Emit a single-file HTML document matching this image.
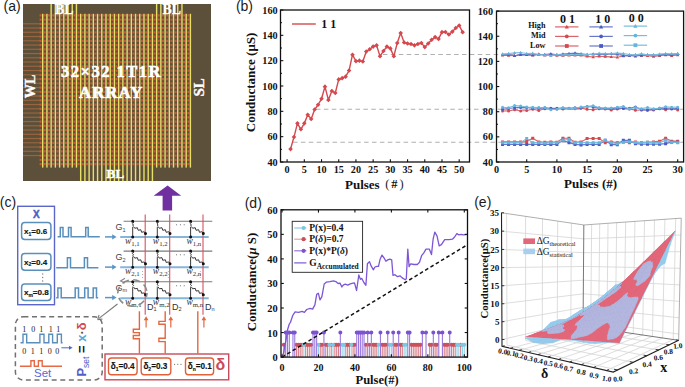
<!DOCTYPE html><html><head><meta charset="utf-8"><style>html,body{margin:0;padding:0;background:#fff;}svg{display:block}</style></head><body><svg width="685" height="387" viewBox="0 0 685 387"><rect width="685" height="387" fill="#fff"/><text x="3.6" y="10.8" style="font-family:'Liberation Sans',sans-serif;font-size:14px" fill="#1a1a1a">(a)</text><rect x="23" y="4" width="188" height="177" fill="#5d503a"/><rect x="23" y="23.2" width="17" height="1.2" fill="#b06e40" opacity="0.7"/><rect x="23" y="27.45" width="17" height="1.2" fill="#b06e40" opacity="0.7"/><rect x="23" y="31.7" width="17" height="1.2" fill="#b06e40" opacity="0.7"/><rect x="23" y="35.95" width="17" height="1.2" fill="#b06e40" opacity="0.7"/><rect x="23" y="40.2" width="17" height="1.2" fill="#b06e40" opacity="0.7"/><rect x="23" y="44.45" width="17" height="1.2" fill="#b06e40" opacity="0.7"/><rect x="23" y="48.7" width="17" height="1.2" fill="#b06e40" opacity="0.7"/><rect x="23" y="52.95" width="17" height="1.2" fill="#b06e40" opacity="0.7"/><rect x="23" y="57.2" width="17" height="1.2" fill="#b06e40" opacity="0.7"/><rect x="23" y="61.45" width="17" height="1.2" fill="#b06e40" opacity="0.7"/><rect x="23" y="65.7" width="17" height="1.2" fill="#b06e40" opacity="0.7"/><rect x="23" y="69.95" width="17" height="1.2" fill="#b06e40" opacity="0.7"/><rect x="23" y="74.2" width="17" height="1.2" fill="#b06e40" opacity="0.7"/><rect x="23" y="78.45" width="17" height="1.2" fill="#b06e40" opacity="0.7"/><rect x="23" y="82.7" width="17" height="1.2" fill="#b06e40" opacity="0.7"/><rect x="23" y="86.95" width="17" height="1.2" fill="#b06e40" opacity="0.7"/><rect x="23" y="91.2" width="17" height="1.2" fill="#b06e40" opacity="0.7"/><rect x="23" y="95.45" width="17" height="1.2" fill="#b06e40" opacity="0.7"/><rect x="23" y="99.7" width="17" height="1.2" fill="#b06e40" opacity="0.7"/><rect x="23" y="103.95" width="17" height="1.2" fill="#b06e40" opacity="0.7"/><rect x="23" y="108.2" width="17" height="1.2" fill="#b06e40" opacity="0.7"/><rect x="23" y="112.45" width="17" height="1.2" fill="#b06e40" opacity="0.7"/><rect x="23" y="116.7" width="17" height="1.2" fill="#b06e40" opacity="0.7"/><rect x="23" y="120.95" width="17" height="1.2" fill="#b06e40" opacity="0.7"/><rect x="23" y="125.2" width="17" height="1.2" fill="#b06e40" opacity="0.7"/><rect x="23" y="129.45" width="17" height="1.2" fill="#b06e40" opacity="0.7"/><rect x="23" y="133.7" width="17" height="1.2" fill="#b06e40" opacity="0.7"/><rect x="23" y="137.95" width="17" height="1.2" fill="#b06e40" opacity="0.7"/><rect x="23" y="142.2" width="17" height="1.2" fill="#b06e40" opacity="0.7"/><rect x="23" y="146.45" width="17" height="1.2" fill="#b06e40" opacity="0.7"/><rect x="23" y="150.7" width="17" height="1.2" fill="#b06e40" opacity="0.7"/><rect x="23" y="154.95" width="17" height="1.2" fill="#b06e40" opacity="0.7"/><path d="M39.6 14.2h2v2.2h-2zM43.82 14.2h2v2.2h-2zM48.04 14.2h2v2.2h-2zM52.26 14.2h2v2.2h-2zM56.48 14.2h2v2.2h-2zM60.7 14.2h2v2.2h-2zM64.92 14.2h2v2.2h-2zM69.14 14.2h2v2.2h-2zM73.36 14.2h2v2.2h-2zM77.58 14.2h2v2.2h-2zM81.8 14.2h2v2.2h-2zM86.02 14.2h2v2.2h-2zM90.24 14.2h2v2.2h-2zM94.46 14.2h2v2.2h-2zM98.68 14.2h2v2.2h-2zM102.9 14.2h2v2.2h-2zM107.12 14.2h2v2.2h-2zM111.34 14.2h2v2.2h-2zM115.56 14.2h2v2.2h-2zM119.78 14.2h2v2.2h-2zM124 14.2h2v2.2h-2zM128.22 14.2h2v2.2h-2zM132.44 14.2h2v2.2h-2zM136.66 14.2h2v2.2h-2zM140.88 14.2h2v2.2h-2zM145.1 14.2h2v2.2h-2zM149.32 14.2h2v2.2h-2zM153.54 14.2h2v2.2h-2zM157.76 14.2h2v2.2h-2zM161.98 14.2h2v2.2h-2zM166.2 14.2h2v2.2h-2zM170.42 14.2h2v2.2h-2zM174.64 14.2h2v2.2h-2zM178.86 14.2h2v2.2h-2zM183.08 14.2h2v2.2h-2zM187.3 14.2h2v2.2h-2zM39.6 18.45h2v2.2h-2zM43.82 18.45h2v2.2h-2zM48.04 18.45h2v2.2h-2zM52.26 18.45h2v2.2h-2zM56.48 18.45h2v2.2h-2zM60.7 18.45h2v2.2h-2zM64.92 18.45h2v2.2h-2zM69.14 18.45h2v2.2h-2zM73.36 18.45h2v2.2h-2zM77.58 18.45h2v2.2h-2zM81.8 18.45h2v2.2h-2zM86.02 18.45h2v2.2h-2zM90.24 18.45h2v2.2h-2zM94.46 18.45h2v2.2h-2zM98.68 18.45h2v2.2h-2zM102.9 18.45h2v2.2h-2zM107.12 18.45h2v2.2h-2zM111.34 18.45h2v2.2h-2zM115.56 18.45h2v2.2h-2zM119.78 18.45h2v2.2h-2zM124 18.45h2v2.2h-2zM128.22 18.45h2v2.2h-2zM132.44 18.45h2v2.2h-2zM136.66 18.45h2v2.2h-2zM140.88 18.45h2v2.2h-2zM145.1 18.45h2v2.2h-2zM149.32 18.45h2v2.2h-2zM153.54 18.45h2v2.2h-2zM157.76 18.45h2v2.2h-2zM161.98 18.45h2v2.2h-2zM166.2 18.45h2v2.2h-2zM170.42 18.45h2v2.2h-2zM174.64 18.45h2v2.2h-2zM178.86 18.45h2v2.2h-2zM183.08 18.45h2v2.2h-2zM187.3 18.45h2v2.2h-2zM39.6 22.7h2v2.2h-2zM43.82 22.7h2v2.2h-2zM48.04 22.7h2v2.2h-2zM52.26 22.7h2v2.2h-2zM56.48 22.7h2v2.2h-2zM60.7 22.7h2v2.2h-2zM64.92 22.7h2v2.2h-2zM69.14 22.7h2v2.2h-2zM73.36 22.7h2v2.2h-2zM77.58 22.7h2v2.2h-2zM81.8 22.7h2v2.2h-2zM86.02 22.7h2v2.2h-2zM90.24 22.7h2v2.2h-2zM94.46 22.7h2v2.2h-2zM98.68 22.7h2v2.2h-2zM102.9 22.7h2v2.2h-2zM107.12 22.7h2v2.2h-2zM111.34 22.7h2v2.2h-2zM115.56 22.7h2v2.2h-2zM119.78 22.7h2v2.2h-2zM124 22.7h2v2.2h-2zM128.22 22.7h2v2.2h-2zM132.44 22.7h2v2.2h-2zM136.66 22.7h2v2.2h-2zM140.88 22.7h2v2.2h-2zM145.1 22.7h2v2.2h-2zM149.32 22.7h2v2.2h-2zM153.54 22.7h2v2.2h-2zM157.76 22.7h2v2.2h-2zM161.98 22.7h2v2.2h-2zM166.2 22.7h2v2.2h-2zM170.42 22.7h2v2.2h-2zM174.64 22.7h2v2.2h-2zM178.86 22.7h2v2.2h-2zM183.08 22.7h2v2.2h-2zM187.3 22.7h2v2.2h-2zM39.6 26.95h2v2.2h-2zM43.82 26.95h2v2.2h-2zM48.04 26.95h2v2.2h-2zM52.26 26.95h2v2.2h-2zM56.48 26.95h2v2.2h-2zM60.7 26.95h2v2.2h-2zM64.92 26.95h2v2.2h-2zM69.14 26.95h2v2.2h-2zM73.36 26.95h2v2.2h-2zM77.58 26.95h2v2.2h-2zM81.8 26.95h2v2.2h-2zM86.02 26.95h2v2.2h-2zM90.24 26.95h2v2.2h-2zM94.46 26.95h2v2.2h-2zM98.68 26.95h2v2.2h-2zM102.9 26.95h2v2.2h-2zM107.12 26.95h2v2.2h-2zM111.34 26.95h2v2.2h-2zM115.56 26.95h2v2.2h-2zM119.78 26.95h2v2.2h-2zM124 26.95h2v2.2h-2zM128.22 26.95h2v2.2h-2zM132.44 26.95h2v2.2h-2zM136.66 26.95h2v2.2h-2zM140.88 26.95h2v2.2h-2zM145.1 26.95h2v2.2h-2zM149.32 26.95h2v2.2h-2zM153.54 26.95h2v2.2h-2zM157.76 26.95h2v2.2h-2zM161.98 26.95h2v2.2h-2zM166.2 26.95h2v2.2h-2zM170.42 26.95h2v2.2h-2zM174.64 26.95h2v2.2h-2zM178.86 26.95h2v2.2h-2zM183.08 26.95h2v2.2h-2zM187.3 26.95h2v2.2h-2zM39.6 31.2h2v2.2h-2zM43.82 31.2h2v2.2h-2zM48.04 31.2h2v2.2h-2zM52.26 31.2h2v2.2h-2zM56.48 31.2h2v2.2h-2zM60.7 31.2h2v2.2h-2zM64.92 31.2h2v2.2h-2zM69.14 31.2h2v2.2h-2zM73.36 31.2h2v2.2h-2zM77.58 31.2h2v2.2h-2zM81.8 31.2h2v2.2h-2zM86.02 31.2h2v2.2h-2zM90.24 31.2h2v2.2h-2zM94.46 31.2h2v2.2h-2zM98.68 31.2h2v2.2h-2zM102.9 31.2h2v2.2h-2zM107.12 31.2h2v2.2h-2zM111.34 31.2h2v2.2h-2zM115.56 31.2h2v2.2h-2zM119.78 31.2h2v2.2h-2zM124 31.2h2v2.2h-2zM128.22 31.2h2v2.2h-2zM132.44 31.2h2v2.2h-2zM136.66 31.2h2v2.2h-2zM140.88 31.2h2v2.2h-2zM145.1 31.2h2v2.2h-2zM149.32 31.2h2v2.2h-2zM153.54 31.2h2v2.2h-2zM157.76 31.2h2v2.2h-2zM161.98 31.2h2v2.2h-2zM166.2 31.2h2v2.2h-2zM170.42 31.2h2v2.2h-2zM174.64 31.2h2v2.2h-2zM178.86 31.2h2v2.2h-2zM183.08 31.2h2v2.2h-2zM187.3 31.2h2v2.2h-2zM39.6 35.45h2v2.2h-2zM43.82 35.45h2v2.2h-2zM48.04 35.45h2v2.2h-2zM52.26 35.45h2v2.2h-2zM56.48 35.45h2v2.2h-2zM60.7 35.45h2v2.2h-2zM64.92 35.45h2v2.2h-2zM69.14 35.45h2v2.2h-2zM73.36 35.45h2v2.2h-2zM77.58 35.45h2v2.2h-2zM81.8 35.45h2v2.2h-2zM86.02 35.45h2v2.2h-2zM90.24 35.45h2v2.2h-2zM94.46 35.45h2v2.2h-2zM98.68 35.45h2v2.2h-2zM102.9 35.45h2v2.2h-2zM107.12 35.45h2v2.2h-2zM111.34 35.45h2v2.2h-2zM115.56 35.45h2v2.2h-2zM119.78 35.45h2v2.2h-2zM124 35.45h2v2.2h-2zM128.22 35.45h2v2.2h-2zM132.44 35.45h2v2.2h-2zM136.66 35.45h2v2.2h-2zM140.88 35.45h2v2.2h-2zM145.1 35.45h2v2.2h-2zM149.32 35.45h2v2.2h-2zM153.54 35.45h2v2.2h-2zM157.76 35.45h2v2.2h-2zM161.98 35.45h2v2.2h-2zM166.2 35.45h2v2.2h-2zM170.42 35.45h2v2.2h-2zM174.64 35.45h2v2.2h-2zM178.86 35.45h2v2.2h-2zM183.08 35.45h2v2.2h-2zM187.3 35.45h2v2.2h-2zM39.6 39.7h2v2.2h-2zM43.82 39.7h2v2.2h-2zM48.04 39.7h2v2.2h-2zM52.26 39.7h2v2.2h-2zM56.48 39.7h2v2.2h-2zM60.7 39.7h2v2.2h-2zM64.92 39.7h2v2.2h-2zM69.14 39.7h2v2.2h-2zM73.36 39.7h2v2.2h-2zM77.58 39.7h2v2.2h-2zM81.8 39.7h2v2.2h-2zM86.02 39.7h2v2.2h-2zM90.24 39.7h2v2.2h-2zM94.46 39.7h2v2.2h-2zM98.68 39.7h2v2.2h-2zM102.9 39.7h2v2.2h-2zM107.12 39.7h2v2.2h-2zM111.34 39.7h2v2.2h-2zM115.56 39.7h2v2.2h-2zM119.78 39.7h2v2.2h-2zM124 39.7h2v2.2h-2zM128.22 39.7h2v2.2h-2zM132.44 39.7h2v2.2h-2zM136.66 39.7h2v2.2h-2zM140.88 39.7h2v2.2h-2zM145.1 39.7h2v2.2h-2zM149.32 39.7h2v2.2h-2zM153.54 39.7h2v2.2h-2zM157.76 39.7h2v2.2h-2zM161.98 39.7h2v2.2h-2zM166.2 39.7h2v2.2h-2zM170.42 39.7h2v2.2h-2zM174.64 39.7h2v2.2h-2zM178.86 39.7h2v2.2h-2zM183.08 39.7h2v2.2h-2zM187.3 39.7h2v2.2h-2zM39.6 43.95h2v2.2h-2zM43.82 43.95h2v2.2h-2zM48.04 43.95h2v2.2h-2zM52.26 43.95h2v2.2h-2zM56.48 43.95h2v2.2h-2zM60.7 43.95h2v2.2h-2zM64.92 43.95h2v2.2h-2zM69.14 43.95h2v2.2h-2zM73.36 43.95h2v2.2h-2zM77.58 43.95h2v2.2h-2zM81.8 43.95h2v2.2h-2zM86.02 43.95h2v2.2h-2zM90.24 43.95h2v2.2h-2zM94.46 43.95h2v2.2h-2zM98.68 43.95h2v2.2h-2zM102.9 43.95h2v2.2h-2zM107.12 43.95h2v2.2h-2zM111.34 43.95h2v2.2h-2zM115.56 43.95h2v2.2h-2zM119.78 43.95h2v2.2h-2zM124 43.95h2v2.2h-2zM128.22 43.95h2v2.2h-2zM132.44 43.95h2v2.2h-2zM136.66 43.95h2v2.2h-2zM140.88 43.95h2v2.2h-2zM145.1 43.95h2v2.2h-2zM149.32 43.95h2v2.2h-2zM153.54 43.95h2v2.2h-2zM157.76 43.95h2v2.2h-2zM161.98 43.95h2v2.2h-2zM166.2 43.95h2v2.2h-2zM170.42 43.95h2v2.2h-2zM174.64 43.95h2v2.2h-2zM178.86 43.95h2v2.2h-2zM183.08 43.95h2v2.2h-2zM187.3 43.95h2v2.2h-2zM39.6 48.2h2v2.2h-2zM43.82 48.2h2v2.2h-2zM48.04 48.2h2v2.2h-2zM52.26 48.2h2v2.2h-2zM56.48 48.2h2v2.2h-2zM60.7 48.2h2v2.2h-2zM64.92 48.2h2v2.2h-2zM69.14 48.2h2v2.2h-2zM73.36 48.2h2v2.2h-2zM77.58 48.2h2v2.2h-2zM81.8 48.2h2v2.2h-2zM86.02 48.2h2v2.2h-2zM90.24 48.2h2v2.2h-2zM94.46 48.2h2v2.2h-2zM98.68 48.2h2v2.2h-2zM102.9 48.2h2v2.2h-2zM107.12 48.2h2v2.2h-2zM111.34 48.2h2v2.2h-2zM115.56 48.2h2v2.2h-2zM119.78 48.2h2v2.2h-2zM124 48.2h2v2.2h-2zM128.22 48.2h2v2.2h-2zM132.44 48.2h2v2.2h-2zM136.66 48.2h2v2.2h-2zM140.88 48.2h2v2.2h-2zM145.1 48.2h2v2.2h-2zM149.32 48.2h2v2.2h-2zM153.54 48.2h2v2.2h-2zM157.76 48.2h2v2.2h-2zM161.98 48.2h2v2.2h-2zM166.2 48.2h2v2.2h-2zM170.42 48.2h2v2.2h-2zM174.64 48.2h2v2.2h-2zM178.86 48.2h2v2.2h-2zM183.08 48.2h2v2.2h-2zM187.3 48.2h2v2.2h-2zM39.6 52.45h2v2.2h-2zM43.82 52.45h2v2.2h-2zM48.04 52.45h2v2.2h-2zM52.26 52.45h2v2.2h-2zM56.48 52.45h2v2.2h-2zM60.7 52.45h2v2.2h-2zM64.92 52.45h2v2.2h-2zM69.14 52.45h2v2.2h-2zM73.36 52.45h2v2.2h-2zM77.58 52.45h2v2.2h-2zM81.8 52.45h2v2.2h-2zM86.02 52.45h2v2.2h-2zM90.24 52.45h2v2.2h-2zM94.46 52.45h2v2.2h-2zM98.68 52.45h2v2.2h-2zM102.9 52.45h2v2.2h-2zM107.12 52.45h2v2.2h-2zM111.34 52.45h2v2.2h-2zM115.56 52.45h2v2.2h-2zM119.78 52.45h2v2.2h-2zM124 52.45h2v2.2h-2zM128.22 52.45h2v2.2h-2zM132.44 52.45h2v2.2h-2zM136.66 52.45h2v2.2h-2zM140.88 52.45h2v2.2h-2zM145.1 52.45h2v2.2h-2zM149.32 52.45h2v2.2h-2zM153.54 52.45h2v2.2h-2zM157.76 52.45h2v2.2h-2zM161.98 52.45h2v2.2h-2zM166.2 52.45h2v2.2h-2zM170.42 52.45h2v2.2h-2zM174.64 52.45h2v2.2h-2zM178.86 52.45h2v2.2h-2zM183.08 52.45h2v2.2h-2zM187.3 52.45h2v2.2h-2zM39.6 56.7h2v2.2h-2zM43.82 56.7h2v2.2h-2zM48.04 56.7h2v2.2h-2zM52.26 56.7h2v2.2h-2zM56.48 56.7h2v2.2h-2zM60.7 56.7h2v2.2h-2zM64.92 56.7h2v2.2h-2zM69.14 56.7h2v2.2h-2zM73.36 56.7h2v2.2h-2zM77.58 56.7h2v2.2h-2zM81.8 56.7h2v2.2h-2zM86.02 56.7h2v2.2h-2zM90.24 56.7h2v2.2h-2zM94.46 56.7h2v2.2h-2zM98.68 56.7h2v2.2h-2zM102.9 56.7h2v2.2h-2zM107.12 56.7h2v2.2h-2zM111.34 56.7h2v2.2h-2zM115.56 56.7h2v2.2h-2zM119.78 56.7h2v2.2h-2zM124 56.7h2v2.2h-2zM128.22 56.7h2v2.2h-2zM132.44 56.7h2v2.2h-2zM136.66 56.7h2v2.2h-2zM140.88 56.7h2v2.2h-2zM145.1 56.7h2v2.2h-2zM149.32 56.7h2v2.2h-2zM153.54 56.7h2v2.2h-2zM157.76 56.7h2v2.2h-2zM161.98 56.7h2v2.2h-2zM166.2 56.7h2v2.2h-2zM170.42 56.7h2v2.2h-2zM174.64 56.7h2v2.2h-2zM178.86 56.7h2v2.2h-2zM183.08 56.7h2v2.2h-2zM187.3 56.7h2v2.2h-2zM39.6 60.95h2v2.2h-2zM43.82 60.95h2v2.2h-2zM48.04 60.95h2v2.2h-2zM52.26 60.95h2v2.2h-2zM56.48 60.95h2v2.2h-2zM60.7 60.95h2v2.2h-2zM64.92 60.95h2v2.2h-2zM69.14 60.95h2v2.2h-2zM73.36 60.95h2v2.2h-2zM77.58 60.95h2v2.2h-2zM81.8 60.95h2v2.2h-2zM86.02 60.95h2v2.2h-2zM90.24 60.95h2v2.2h-2zM94.46 60.95h2v2.2h-2zM98.68 60.95h2v2.2h-2zM102.9 60.95h2v2.2h-2zM107.12 60.95h2v2.2h-2zM111.34 60.95h2v2.2h-2zM115.56 60.95h2v2.2h-2zM119.78 60.95h2v2.2h-2zM124 60.95h2v2.2h-2zM128.22 60.95h2v2.2h-2zM132.44 60.95h2v2.2h-2zM136.66 60.95h2v2.2h-2zM140.88 60.95h2v2.2h-2zM145.1 60.95h2v2.2h-2zM149.32 60.95h2v2.2h-2zM153.54 60.95h2v2.2h-2zM157.76 60.95h2v2.2h-2zM161.98 60.95h2v2.2h-2zM166.2 60.95h2v2.2h-2zM170.42 60.95h2v2.2h-2zM174.64 60.95h2v2.2h-2zM178.86 60.95h2v2.2h-2zM183.08 60.95h2v2.2h-2zM187.3 60.95h2v2.2h-2zM39.6 65.2h2v2.2h-2zM43.82 65.2h2v2.2h-2zM48.04 65.2h2v2.2h-2zM52.26 65.2h2v2.2h-2zM56.48 65.2h2v2.2h-2zM60.7 65.2h2v2.2h-2zM64.92 65.2h2v2.2h-2zM69.14 65.2h2v2.2h-2zM73.36 65.2h2v2.2h-2zM77.58 65.2h2v2.2h-2zM81.8 65.2h2v2.2h-2zM86.02 65.2h2v2.2h-2zM90.24 65.2h2v2.2h-2zM94.46 65.2h2v2.2h-2zM98.68 65.2h2v2.2h-2zM102.9 65.2h2v2.2h-2zM107.12 65.2h2v2.2h-2zM111.34 65.2h2v2.2h-2zM115.56 65.2h2v2.2h-2zM119.78 65.2h2v2.2h-2zM124 65.2h2v2.2h-2zM128.22 65.2h2v2.2h-2zM132.44 65.2h2v2.2h-2zM136.66 65.2h2v2.2h-2zM140.88 65.2h2v2.2h-2zM145.1 65.2h2v2.2h-2zM149.32 65.2h2v2.2h-2zM153.54 65.2h2v2.2h-2zM157.76 65.2h2v2.2h-2zM161.98 65.2h2v2.2h-2zM166.2 65.2h2v2.2h-2zM170.42 65.2h2v2.2h-2zM174.64 65.2h2v2.2h-2zM178.86 65.2h2v2.2h-2zM183.08 65.2h2v2.2h-2zM187.3 65.2h2v2.2h-2zM39.6 69.45h2v2.2h-2zM43.82 69.45h2v2.2h-2zM48.04 69.45h2v2.2h-2zM52.26 69.45h2v2.2h-2zM56.48 69.45h2v2.2h-2zM60.7 69.45h2v2.2h-2zM64.92 69.45h2v2.2h-2zM69.14 69.45h2v2.2h-2zM73.36 69.45h2v2.2h-2zM77.58 69.45h2v2.2h-2zM81.8 69.45h2v2.2h-2zM86.02 69.45h2v2.2h-2zM90.24 69.45h2v2.2h-2zM94.46 69.45h2v2.2h-2zM98.68 69.45h2v2.2h-2zM102.9 69.45h2v2.2h-2zM107.12 69.45h2v2.2h-2zM111.34 69.45h2v2.2h-2zM115.56 69.45h2v2.2h-2zM119.78 69.45h2v2.2h-2zM124 69.45h2v2.2h-2zM128.22 69.45h2v2.2h-2zM132.44 69.45h2v2.2h-2zM136.66 69.45h2v2.2h-2zM140.88 69.45h2v2.2h-2zM145.1 69.45h2v2.2h-2zM149.32 69.45h2v2.2h-2zM153.54 69.45h2v2.2h-2zM157.76 69.45h2v2.2h-2zM161.98 69.45h2v2.2h-2zM166.2 69.45h2v2.2h-2zM170.42 69.45h2v2.2h-2zM174.64 69.45h2v2.2h-2zM178.86 69.45h2v2.2h-2zM183.08 69.45h2v2.2h-2zM187.3 69.45h2v2.2h-2zM39.6 73.7h2v2.2h-2zM43.82 73.7h2v2.2h-2zM48.04 73.7h2v2.2h-2zM52.26 73.7h2v2.2h-2zM56.48 73.7h2v2.2h-2zM60.7 73.7h2v2.2h-2zM64.92 73.7h2v2.2h-2zM69.14 73.7h2v2.2h-2zM73.36 73.7h2v2.2h-2zM77.58 73.7h2v2.2h-2zM81.8 73.7h2v2.2h-2zM86.02 73.7h2v2.2h-2zM90.24 73.7h2v2.2h-2zM94.46 73.7h2v2.2h-2zM98.68 73.7h2v2.2h-2zM102.9 73.7h2v2.2h-2zM107.12 73.7h2v2.2h-2zM111.34 73.7h2v2.2h-2zM115.56 73.7h2v2.2h-2zM119.78 73.7h2v2.2h-2zM124 73.7h2v2.2h-2zM128.22 73.7h2v2.2h-2zM132.44 73.7h2v2.2h-2zM136.66 73.7h2v2.2h-2zM140.88 73.7h2v2.2h-2zM145.1 73.7h2v2.2h-2zM149.32 73.7h2v2.2h-2zM153.54 73.7h2v2.2h-2zM157.76 73.7h2v2.2h-2zM161.98 73.7h2v2.2h-2zM166.2 73.7h2v2.2h-2zM170.42 73.7h2v2.2h-2zM174.64 73.7h2v2.2h-2zM178.86 73.7h2v2.2h-2zM183.08 73.7h2v2.2h-2zM187.3 73.7h2v2.2h-2zM39.6 77.95h2v2.2h-2zM43.82 77.95h2v2.2h-2zM48.04 77.95h2v2.2h-2zM52.26 77.95h2v2.2h-2zM56.48 77.95h2v2.2h-2zM60.7 77.95h2v2.2h-2zM64.92 77.95h2v2.2h-2zM69.14 77.95h2v2.2h-2zM73.36 77.95h2v2.2h-2zM77.58 77.95h2v2.2h-2zM81.8 77.95h2v2.2h-2zM86.02 77.95h2v2.2h-2zM90.24 77.95h2v2.2h-2zM94.46 77.95h2v2.2h-2zM98.68 77.95h2v2.2h-2zM102.9 77.95h2v2.2h-2zM107.12 77.95h2v2.2h-2zM111.34 77.95h2v2.2h-2zM115.56 77.95h2v2.2h-2zM119.78 77.95h2v2.2h-2zM124 77.95h2v2.2h-2zM128.22 77.95h2v2.2h-2zM132.44 77.95h2v2.2h-2zM136.66 77.95h2v2.2h-2zM140.88 77.95h2v2.2h-2zM145.1 77.95h2v2.2h-2zM149.32 77.95h2v2.2h-2zM153.54 77.95h2v2.2h-2zM157.76 77.95h2v2.2h-2zM161.98 77.95h2v2.2h-2zM166.2 77.95h2v2.2h-2zM170.42 77.95h2v2.2h-2zM174.64 77.95h2v2.2h-2zM178.86 77.95h2v2.2h-2zM183.08 77.95h2v2.2h-2zM187.3 77.95h2v2.2h-2zM39.6 82.2h2v2.2h-2zM43.82 82.2h2v2.2h-2zM48.04 82.2h2v2.2h-2zM52.26 82.2h2v2.2h-2zM56.48 82.2h2v2.2h-2zM60.7 82.2h2v2.2h-2zM64.92 82.2h2v2.2h-2zM69.14 82.2h2v2.2h-2zM73.36 82.2h2v2.2h-2zM77.58 82.2h2v2.2h-2zM81.8 82.2h2v2.2h-2zM86.02 82.2h2v2.2h-2zM90.24 82.2h2v2.2h-2zM94.46 82.2h2v2.2h-2zM98.68 82.2h2v2.2h-2zM102.9 82.2h2v2.2h-2zM107.12 82.2h2v2.2h-2zM111.34 82.2h2v2.2h-2zM115.56 82.2h2v2.2h-2zM119.78 82.2h2v2.2h-2zM124 82.2h2v2.2h-2zM128.22 82.2h2v2.2h-2zM132.44 82.2h2v2.2h-2zM136.66 82.2h2v2.2h-2zM140.88 82.2h2v2.2h-2zM145.1 82.2h2v2.2h-2zM149.32 82.2h2v2.2h-2zM153.54 82.2h2v2.2h-2zM157.76 82.2h2v2.2h-2zM161.98 82.2h2v2.2h-2zM166.2 82.2h2v2.2h-2zM170.42 82.2h2v2.2h-2zM174.64 82.2h2v2.2h-2zM178.86 82.2h2v2.2h-2zM183.08 82.2h2v2.2h-2zM187.3 82.2h2v2.2h-2zM39.6 86.45h2v2.2h-2zM43.82 86.45h2v2.2h-2zM48.04 86.45h2v2.2h-2zM52.26 86.45h2v2.2h-2zM56.48 86.45h2v2.2h-2zM60.7 86.45h2v2.2h-2zM64.92 86.45h2v2.2h-2zM69.14 86.45h2v2.2h-2zM73.36 86.45h2v2.2h-2zM77.58 86.45h2v2.2h-2zM81.8 86.45h2v2.2h-2zM86.02 86.45h2v2.2h-2zM90.24 86.45h2v2.2h-2zM94.46 86.45h2v2.2h-2zM98.68 86.45h2v2.2h-2zM102.9 86.45h2v2.2h-2zM107.12 86.45h2v2.2h-2zM111.34 86.45h2v2.2h-2zM115.56 86.45h2v2.2h-2zM119.78 86.45h2v2.2h-2zM124 86.45h2v2.2h-2zM128.22 86.45h2v2.2h-2zM132.44 86.45h2v2.2h-2zM136.66 86.45h2v2.2h-2zM140.88 86.45h2v2.2h-2zM145.1 86.45h2v2.2h-2zM149.32 86.45h2v2.2h-2zM153.54 86.45h2v2.2h-2zM157.76 86.45h2v2.2h-2zM161.98 86.45h2v2.2h-2zM166.2 86.45h2v2.2h-2zM170.42 86.45h2v2.2h-2zM174.64 86.45h2v2.2h-2zM178.86 86.45h2v2.2h-2zM183.08 86.45h2v2.2h-2zM187.3 86.45h2v2.2h-2zM39.6 90.7h2v2.2h-2zM43.82 90.7h2v2.2h-2zM48.04 90.7h2v2.2h-2zM52.26 90.7h2v2.2h-2zM56.48 90.7h2v2.2h-2zM60.7 90.7h2v2.2h-2zM64.92 90.7h2v2.2h-2zM69.14 90.7h2v2.2h-2zM73.36 90.7h2v2.2h-2zM77.58 90.7h2v2.2h-2zM81.8 90.7h2v2.2h-2zM86.02 90.7h2v2.2h-2zM90.24 90.7h2v2.2h-2zM94.46 90.7h2v2.2h-2zM98.68 90.7h2v2.2h-2zM102.9 90.7h2v2.2h-2zM107.12 90.7h2v2.2h-2zM111.34 90.7h2v2.2h-2zM115.56 90.7h2v2.2h-2zM119.78 90.7h2v2.2h-2zM124 90.7h2v2.2h-2zM128.22 90.7h2v2.2h-2zM132.44 90.7h2v2.2h-2zM136.66 90.7h2v2.2h-2zM140.88 90.7h2v2.2h-2zM145.1 90.7h2v2.2h-2zM149.32 90.7h2v2.2h-2zM153.54 90.7h2v2.2h-2zM157.76 90.7h2v2.2h-2zM161.98 90.7h2v2.2h-2zM166.2 90.7h2v2.2h-2zM170.42 90.7h2v2.2h-2zM174.64 90.7h2v2.2h-2zM178.86 90.7h2v2.2h-2zM183.08 90.7h2v2.2h-2zM187.3 90.7h2v2.2h-2zM39.6 94.95h2v2.2h-2zM43.82 94.95h2v2.2h-2zM48.04 94.95h2v2.2h-2zM52.26 94.95h2v2.2h-2zM56.48 94.95h2v2.2h-2zM60.7 94.95h2v2.2h-2zM64.92 94.95h2v2.2h-2zM69.14 94.95h2v2.2h-2zM73.36 94.95h2v2.2h-2zM77.58 94.95h2v2.2h-2zM81.8 94.95h2v2.2h-2zM86.02 94.95h2v2.2h-2zM90.24 94.95h2v2.2h-2zM94.46 94.95h2v2.2h-2zM98.68 94.95h2v2.2h-2zM102.9 94.95h2v2.2h-2zM107.12 94.95h2v2.2h-2zM111.34 94.95h2v2.2h-2zM115.56 94.95h2v2.2h-2zM119.78 94.95h2v2.2h-2zM124 94.95h2v2.2h-2zM128.22 94.95h2v2.2h-2zM132.44 94.95h2v2.2h-2zM136.66 94.95h2v2.2h-2zM140.88 94.95h2v2.2h-2zM145.1 94.95h2v2.2h-2zM149.32 94.95h2v2.2h-2zM153.54 94.95h2v2.2h-2zM157.76 94.95h2v2.2h-2zM161.98 94.95h2v2.2h-2zM166.2 94.95h2v2.2h-2zM170.42 94.95h2v2.2h-2zM174.64 94.95h2v2.2h-2zM178.86 94.95h2v2.2h-2zM183.08 94.95h2v2.2h-2zM187.3 94.95h2v2.2h-2zM39.6 99.2h2v2.2h-2zM43.82 99.2h2v2.2h-2zM48.04 99.2h2v2.2h-2zM52.26 99.2h2v2.2h-2zM56.48 99.2h2v2.2h-2zM60.7 99.2h2v2.2h-2zM64.92 99.2h2v2.2h-2zM69.14 99.2h2v2.2h-2zM73.36 99.2h2v2.2h-2zM77.58 99.2h2v2.2h-2zM81.8 99.2h2v2.2h-2zM86.02 99.2h2v2.2h-2zM90.24 99.2h2v2.2h-2zM94.46 99.2h2v2.2h-2zM98.68 99.2h2v2.2h-2zM102.9 99.2h2v2.2h-2zM107.12 99.2h2v2.2h-2zM111.34 99.2h2v2.2h-2zM115.56 99.2h2v2.2h-2zM119.78 99.2h2v2.2h-2zM124 99.2h2v2.2h-2zM128.22 99.2h2v2.2h-2zM132.44 99.2h2v2.2h-2zM136.66 99.2h2v2.2h-2zM140.88 99.2h2v2.2h-2zM145.1 99.2h2v2.2h-2zM149.32 99.2h2v2.2h-2zM153.54 99.2h2v2.2h-2zM157.76 99.2h2v2.2h-2zM161.98 99.2h2v2.2h-2zM166.2 99.2h2v2.2h-2zM170.42 99.2h2v2.2h-2zM174.64 99.2h2v2.2h-2zM178.86 99.2h2v2.2h-2zM183.08 99.2h2v2.2h-2zM187.3 99.2h2v2.2h-2zM39.6 103.45h2v2.2h-2zM43.82 103.45h2v2.2h-2zM48.04 103.45h2v2.2h-2zM52.26 103.45h2v2.2h-2zM56.48 103.45h2v2.2h-2zM60.7 103.45h2v2.2h-2zM64.92 103.45h2v2.2h-2zM69.14 103.45h2v2.2h-2zM73.36 103.45h2v2.2h-2zM77.58 103.45h2v2.2h-2zM81.8 103.45h2v2.2h-2zM86.02 103.45h2v2.2h-2zM90.24 103.45h2v2.2h-2zM94.46 103.45h2v2.2h-2zM98.68 103.45h2v2.2h-2zM102.9 103.45h2v2.2h-2zM107.12 103.45h2v2.2h-2zM111.34 103.45h2v2.2h-2zM115.56 103.45h2v2.2h-2zM119.78 103.45h2v2.2h-2zM124 103.45h2v2.2h-2zM128.22 103.45h2v2.2h-2zM132.44 103.45h2v2.2h-2zM136.66 103.45h2v2.2h-2zM140.88 103.45h2v2.2h-2zM145.1 103.45h2v2.2h-2zM149.32 103.45h2v2.2h-2zM153.54 103.45h2v2.2h-2zM157.76 103.45h2v2.2h-2zM161.98 103.45h2v2.2h-2zM166.2 103.45h2v2.2h-2zM170.42 103.45h2v2.2h-2zM174.64 103.45h2v2.2h-2zM178.86 103.45h2v2.2h-2zM183.08 103.45h2v2.2h-2zM187.3 103.45h2v2.2h-2zM39.6 107.7h2v2.2h-2zM43.82 107.7h2v2.2h-2zM48.04 107.7h2v2.2h-2zM52.26 107.7h2v2.2h-2zM56.48 107.7h2v2.2h-2zM60.7 107.7h2v2.2h-2zM64.92 107.7h2v2.2h-2zM69.14 107.7h2v2.2h-2zM73.36 107.7h2v2.2h-2zM77.58 107.7h2v2.2h-2zM81.8 107.7h2v2.2h-2zM86.02 107.7h2v2.2h-2zM90.24 107.7h2v2.2h-2zM94.46 107.7h2v2.2h-2zM98.68 107.7h2v2.2h-2zM102.9 107.7h2v2.2h-2zM107.12 107.7h2v2.2h-2zM111.34 107.7h2v2.2h-2zM115.56 107.7h2v2.2h-2zM119.78 107.7h2v2.2h-2zM124 107.7h2v2.2h-2zM128.22 107.7h2v2.2h-2zM132.44 107.7h2v2.2h-2zM136.66 107.7h2v2.2h-2zM140.88 107.7h2v2.2h-2zM145.1 107.7h2v2.2h-2zM149.32 107.7h2v2.2h-2zM153.54 107.7h2v2.2h-2zM157.76 107.7h2v2.2h-2zM161.98 107.7h2v2.2h-2zM166.2 107.7h2v2.2h-2zM170.42 107.7h2v2.2h-2zM174.64 107.7h2v2.2h-2zM178.86 107.7h2v2.2h-2zM183.08 107.7h2v2.2h-2zM187.3 107.7h2v2.2h-2zM39.6 111.95h2v2.2h-2zM43.82 111.95h2v2.2h-2zM48.04 111.95h2v2.2h-2zM52.26 111.95h2v2.2h-2zM56.48 111.95h2v2.2h-2zM60.7 111.95h2v2.2h-2zM64.92 111.95h2v2.2h-2zM69.14 111.95h2v2.2h-2zM73.36 111.95h2v2.2h-2zM77.58 111.95h2v2.2h-2zM81.8 111.95h2v2.2h-2zM86.02 111.95h2v2.2h-2zM90.24 111.95h2v2.2h-2zM94.46 111.95h2v2.2h-2zM98.68 111.95h2v2.2h-2zM102.9 111.95h2v2.2h-2zM107.12 111.95h2v2.2h-2zM111.34 111.95h2v2.2h-2zM115.56 111.95h2v2.2h-2zM119.78 111.95h2v2.2h-2zM124 111.95h2v2.2h-2zM128.22 111.95h2v2.2h-2zM132.44 111.95h2v2.2h-2zM136.66 111.95h2v2.2h-2zM140.88 111.95h2v2.2h-2zM145.1 111.95h2v2.2h-2zM149.32 111.95h2v2.2h-2zM153.54 111.95h2v2.2h-2zM157.76 111.95h2v2.2h-2zM161.98 111.95h2v2.2h-2zM166.2 111.95h2v2.2h-2zM170.42 111.95h2v2.2h-2zM174.64 111.95h2v2.2h-2zM178.86 111.95h2v2.2h-2zM183.08 111.95h2v2.2h-2zM187.3 111.95h2v2.2h-2zM39.6 116.2h2v2.2h-2zM43.82 116.2h2v2.2h-2zM48.04 116.2h2v2.2h-2zM52.26 116.2h2v2.2h-2zM56.48 116.2h2v2.2h-2zM60.7 116.2h2v2.2h-2zM64.92 116.2h2v2.2h-2zM69.14 116.2h2v2.2h-2zM73.36 116.2h2v2.2h-2zM77.58 116.2h2v2.2h-2zM81.8 116.2h2v2.2h-2zM86.02 116.2h2v2.2h-2zM90.24 116.2h2v2.2h-2zM94.46 116.2h2v2.2h-2zM98.68 116.2h2v2.2h-2zM102.9 116.2h2v2.2h-2zM107.12 116.2h2v2.2h-2zM111.34 116.2h2v2.2h-2zM115.56 116.2h2v2.2h-2zM119.78 116.2h2v2.2h-2zM124 116.2h2v2.2h-2zM128.22 116.2h2v2.2h-2zM132.44 116.2h2v2.2h-2zM136.66 116.2h2v2.2h-2zM140.88 116.2h2v2.2h-2zM145.1 116.2h2v2.2h-2zM149.32 116.2h2v2.2h-2zM153.54 116.2h2v2.2h-2zM157.76 116.2h2v2.2h-2zM161.98 116.2h2v2.2h-2zM166.2 116.2h2v2.2h-2zM170.42 116.2h2v2.2h-2zM174.64 116.2h2v2.2h-2zM178.86 116.2h2v2.2h-2zM183.08 116.2h2v2.2h-2zM187.3 116.2h2v2.2h-2zM39.6 120.45h2v2.2h-2zM43.82 120.45h2v2.2h-2zM48.04 120.45h2v2.2h-2zM52.26 120.45h2v2.2h-2zM56.48 120.45h2v2.2h-2zM60.7 120.45h2v2.2h-2zM64.92 120.45h2v2.2h-2zM69.14 120.45h2v2.2h-2zM73.36 120.45h2v2.2h-2zM77.58 120.45h2v2.2h-2zM81.8 120.45h2v2.2h-2zM86.02 120.45h2v2.2h-2zM90.24 120.45h2v2.2h-2zM94.46 120.45h2v2.2h-2zM98.68 120.45h2v2.2h-2zM102.9 120.45h2v2.2h-2zM107.12 120.45h2v2.2h-2zM111.34 120.45h2v2.2h-2zM115.56 120.45h2v2.2h-2zM119.78 120.45h2v2.2h-2zM124 120.45h2v2.2h-2zM128.22 120.45h2v2.2h-2zM132.44 120.45h2v2.2h-2zM136.66 120.45h2v2.2h-2zM140.88 120.45h2v2.2h-2zM145.1 120.45h2v2.2h-2zM149.32 120.45h2v2.2h-2zM153.54 120.45h2v2.2h-2zM157.76 120.45h2v2.2h-2zM161.98 120.45h2v2.2h-2zM166.2 120.45h2v2.2h-2zM170.42 120.45h2v2.2h-2zM174.64 120.45h2v2.2h-2zM178.86 120.45h2v2.2h-2zM183.08 120.45h2v2.2h-2zM187.3 120.45h2v2.2h-2zM39.6 124.7h2v2.2h-2zM43.82 124.7h2v2.2h-2zM48.04 124.7h2v2.2h-2zM52.26 124.7h2v2.2h-2zM56.48 124.7h2v2.2h-2zM60.7 124.7h2v2.2h-2zM64.92 124.7h2v2.2h-2zM69.14 124.7h2v2.2h-2zM73.36 124.7h2v2.2h-2zM77.58 124.7h2v2.2h-2zM81.8 124.7h2v2.2h-2zM86.02 124.7h2v2.2h-2zM90.24 124.7h2v2.2h-2zM94.46 124.7h2v2.2h-2zM98.68 124.7h2v2.2h-2zM102.9 124.7h2v2.2h-2zM107.12 124.7h2v2.2h-2zM111.34 124.7h2v2.2h-2zM115.56 124.7h2v2.2h-2zM119.78 124.7h2v2.2h-2zM124 124.7h2v2.2h-2zM128.22 124.7h2v2.2h-2zM132.44 124.7h2v2.2h-2zM136.66 124.7h2v2.2h-2zM140.88 124.7h2v2.2h-2zM145.1 124.7h2v2.2h-2zM149.32 124.7h2v2.2h-2zM153.54 124.7h2v2.2h-2zM157.76 124.7h2v2.2h-2zM161.98 124.7h2v2.2h-2zM166.2 124.7h2v2.2h-2zM170.42 124.7h2v2.2h-2zM174.64 124.7h2v2.2h-2zM178.86 124.7h2v2.2h-2zM183.08 124.7h2v2.2h-2zM187.3 124.7h2v2.2h-2zM39.6 128.95h2v2.2h-2zM43.82 128.95h2v2.2h-2zM48.04 128.95h2v2.2h-2zM52.26 128.95h2v2.2h-2zM56.48 128.95h2v2.2h-2zM60.7 128.95h2v2.2h-2zM64.92 128.95h2v2.2h-2zM69.14 128.95h2v2.2h-2zM73.36 128.95h2v2.2h-2zM77.58 128.95h2v2.2h-2zM81.8 128.95h2v2.2h-2zM86.02 128.95h2v2.2h-2zM90.24 128.95h2v2.2h-2zM94.46 128.95h2v2.2h-2zM98.68 128.95h2v2.2h-2zM102.9 128.95h2v2.2h-2zM107.12 128.95h2v2.2h-2zM111.34 128.95h2v2.2h-2zM115.56 128.95h2v2.2h-2zM119.78 128.95h2v2.2h-2zM124 128.95h2v2.2h-2zM128.22 128.95h2v2.2h-2zM132.44 128.95h2v2.2h-2zM136.66 128.95h2v2.2h-2zM140.88 128.95h2v2.2h-2zM145.1 128.95h2v2.2h-2zM149.32 128.95h2v2.2h-2zM153.54 128.95h2v2.2h-2zM157.76 128.95h2v2.2h-2zM161.98 128.95h2v2.2h-2zM166.2 128.95h2v2.2h-2zM170.42 128.95h2v2.2h-2zM174.64 128.95h2v2.2h-2zM178.86 128.95h2v2.2h-2zM183.08 128.95h2v2.2h-2zM187.3 128.95h2v2.2h-2zM39.6 133.2h2v2.2h-2zM43.82 133.2h2v2.2h-2zM48.04 133.2h2v2.2h-2zM52.26 133.2h2v2.2h-2zM56.48 133.2h2v2.2h-2zM60.7 133.2h2v2.2h-2zM64.92 133.2h2v2.2h-2zM69.14 133.2h2v2.2h-2zM73.36 133.2h2v2.2h-2zM77.58 133.2h2v2.2h-2zM81.8 133.2h2v2.2h-2zM86.02 133.2h2v2.2h-2zM90.24 133.2h2v2.2h-2zM94.46 133.2h2v2.2h-2zM98.68 133.2h2v2.2h-2zM102.9 133.2h2v2.2h-2zM107.12 133.2h2v2.2h-2zM111.34 133.2h2v2.2h-2zM115.56 133.2h2v2.2h-2zM119.78 133.2h2v2.2h-2zM124 133.2h2v2.2h-2zM128.22 133.2h2v2.2h-2zM132.44 133.2h2v2.2h-2zM136.66 133.2h2v2.2h-2zM140.88 133.2h2v2.2h-2zM145.1 133.2h2v2.2h-2zM149.32 133.2h2v2.2h-2zM153.54 133.2h2v2.2h-2zM157.76 133.2h2v2.2h-2zM161.98 133.2h2v2.2h-2zM166.2 133.2h2v2.2h-2zM170.42 133.2h2v2.2h-2zM174.64 133.2h2v2.2h-2zM178.86 133.2h2v2.2h-2zM183.08 133.2h2v2.2h-2zM187.3 133.2h2v2.2h-2zM39.6 137.45h2v2.2h-2zM43.82 137.45h2v2.2h-2zM48.04 137.45h2v2.2h-2zM52.26 137.45h2v2.2h-2zM56.48 137.45h2v2.2h-2zM60.7 137.45h2v2.2h-2zM64.92 137.45h2v2.2h-2zM69.14 137.45h2v2.2h-2zM73.36 137.45h2v2.2h-2zM77.58 137.45h2v2.2h-2zM81.8 137.45h2v2.2h-2zM86.02 137.45h2v2.2h-2zM90.24 137.45h2v2.2h-2zM94.46 137.45h2v2.2h-2zM98.68 137.45h2v2.2h-2zM102.9 137.45h2v2.2h-2zM107.12 137.45h2v2.2h-2zM111.34 137.45h2v2.2h-2zM115.56 137.45h2v2.2h-2zM119.78 137.45h2v2.2h-2zM124 137.45h2v2.2h-2zM128.22 137.45h2v2.2h-2zM132.44 137.45h2v2.2h-2zM136.66 137.45h2v2.2h-2zM140.88 137.45h2v2.2h-2zM145.1 137.45h2v2.2h-2zM149.32 137.45h2v2.2h-2zM153.54 137.45h2v2.2h-2zM157.76 137.45h2v2.2h-2zM161.98 137.45h2v2.2h-2zM166.2 137.45h2v2.2h-2zM170.42 137.45h2v2.2h-2zM174.64 137.45h2v2.2h-2zM178.86 137.45h2v2.2h-2zM183.08 137.45h2v2.2h-2zM187.3 137.45h2v2.2h-2zM39.6 141.7h2v2.2h-2zM43.82 141.7h2v2.2h-2zM48.04 141.7h2v2.2h-2zM52.26 141.7h2v2.2h-2zM56.48 141.7h2v2.2h-2zM60.7 141.7h2v2.2h-2zM64.92 141.7h2v2.2h-2zM69.14 141.7h2v2.2h-2zM73.36 141.7h2v2.2h-2zM77.58 141.7h2v2.2h-2zM81.8 141.7h2v2.2h-2zM86.02 141.7h2v2.2h-2zM90.24 141.7h2v2.2h-2zM94.46 141.7h2v2.2h-2zM98.68 141.7h2v2.2h-2zM102.9 141.7h2v2.2h-2zM107.12 141.7h2v2.2h-2zM111.34 141.7h2v2.2h-2zM115.56 141.7h2v2.2h-2zM119.78 141.7h2v2.2h-2zM124 141.7h2v2.2h-2zM128.22 141.7h2v2.2h-2zM132.44 141.7h2v2.2h-2zM136.66 141.7h2v2.2h-2zM140.88 141.7h2v2.2h-2zM145.1 141.7h2v2.2h-2zM149.32 141.7h2v2.2h-2zM153.54 141.7h2v2.2h-2zM157.76 141.7h2v2.2h-2zM161.98 141.7h2v2.2h-2zM166.2 141.7h2v2.2h-2zM170.42 141.7h2v2.2h-2zM174.64 141.7h2v2.2h-2zM178.86 141.7h2v2.2h-2zM183.08 141.7h2v2.2h-2zM187.3 141.7h2v2.2h-2zM39.6 145.95h2v2.2h-2zM43.82 145.95h2v2.2h-2zM48.04 145.95h2v2.2h-2zM52.26 145.95h2v2.2h-2zM56.48 145.95h2v2.2h-2zM60.7 145.95h2v2.2h-2zM64.92 145.95h2v2.2h-2zM69.14 145.95h2v2.2h-2zM73.36 145.95h2v2.2h-2zM77.58 145.95h2v2.2h-2zM81.8 145.95h2v2.2h-2zM86.02 145.95h2v2.2h-2zM90.24 145.95h2v2.2h-2zM94.46 145.95h2v2.2h-2zM98.68 145.95h2v2.2h-2zM102.9 145.95h2v2.2h-2zM107.12 145.95h2v2.2h-2zM111.34 145.95h2v2.2h-2zM115.56 145.95h2v2.2h-2zM119.78 145.95h2v2.2h-2zM124 145.95h2v2.2h-2zM128.22 145.95h2v2.2h-2zM132.44 145.95h2v2.2h-2zM136.66 145.95h2v2.2h-2zM140.88 145.95h2v2.2h-2zM145.1 145.95h2v2.2h-2zM149.32 145.95h2v2.2h-2zM153.54 145.95h2v2.2h-2zM157.76 145.95h2v2.2h-2zM161.98 145.95h2v2.2h-2zM166.2 145.95h2v2.2h-2zM170.42 145.95h2v2.2h-2zM174.64 145.95h2v2.2h-2zM178.86 145.95h2v2.2h-2zM183.08 145.95h2v2.2h-2zM187.3 145.95h2v2.2h-2zM39.6 150.2h2v2.2h-2zM43.82 150.2h2v2.2h-2zM48.04 150.2h2v2.2h-2zM52.26 150.2h2v2.2h-2zM56.48 150.2h2v2.2h-2zM60.7 150.2h2v2.2h-2zM64.92 150.2h2v2.2h-2zM69.14 150.2h2v2.2h-2zM73.36 150.2h2v2.2h-2zM77.58 150.2h2v2.2h-2zM81.8 150.2h2v2.2h-2zM86.02 150.2h2v2.2h-2zM90.24 150.2h2v2.2h-2zM94.46 150.2h2v2.2h-2zM98.68 150.2h2v2.2h-2zM102.9 150.2h2v2.2h-2zM107.12 150.2h2v2.2h-2zM111.34 150.2h2v2.2h-2zM115.56 150.2h2v2.2h-2zM119.78 150.2h2v2.2h-2zM124 150.2h2v2.2h-2zM128.22 150.2h2v2.2h-2zM132.44 150.2h2v2.2h-2zM136.66 150.2h2v2.2h-2zM140.88 150.2h2v2.2h-2zM145.1 150.2h2v2.2h-2zM149.32 150.2h2v2.2h-2zM153.54 150.2h2v2.2h-2zM157.76 150.2h2v2.2h-2zM161.98 150.2h2v2.2h-2zM166.2 150.2h2v2.2h-2zM170.42 150.2h2v2.2h-2zM174.64 150.2h2v2.2h-2zM178.86 150.2h2v2.2h-2zM183.08 150.2h2v2.2h-2zM187.3 150.2h2v2.2h-2zM39.6 154.45h2v2.2h-2zM43.82 154.45h2v2.2h-2zM48.04 154.45h2v2.2h-2zM52.26 154.45h2v2.2h-2zM56.48 154.45h2v2.2h-2zM60.7 154.45h2v2.2h-2zM64.92 154.45h2v2.2h-2zM69.14 154.45h2v2.2h-2zM73.36 154.45h2v2.2h-2zM77.58 154.45h2v2.2h-2zM81.8 154.45h2v2.2h-2zM86.02 154.45h2v2.2h-2zM90.24 154.45h2v2.2h-2zM94.46 154.45h2v2.2h-2zM98.68 154.45h2v2.2h-2zM102.9 154.45h2v2.2h-2zM107.12 154.45h2v2.2h-2zM111.34 154.45h2v2.2h-2zM115.56 154.45h2v2.2h-2zM119.78 154.45h2v2.2h-2zM124 154.45h2v2.2h-2zM128.22 154.45h2v2.2h-2zM132.44 154.45h2v2.2h-2zM136.66 154.45h2v2.2h-2zM140.88 154.45h2v2.2h-2zM145.1 154.45h2v2.2h-2zM149.32 154.45h2v2.2h-2zM153.54 154.45h2v2.2h-2zM157.76 154.45h2v2.2h-2zM161.98 154.45h2v2.2h-2zM166.2 154.45h2v2.2h-2zM170.42 154.45h2v2.2h-2zM174.64 154.45h2v2.2h-2zM178.86 154.45h2v2.2h-2zM183.08 154.45h2v2.2h-2zM187.3 154.45h2v2.2h-2zM39.6 158.7h2v2.2h-2zM43.82 158.7h2v2.2h-2zM48.04 158.7h2v2.2h-2zM52.26 158.7h2v2.2h-2zM56.48 158.7h2v2.2h-2zM60.7 158.7h2v2.2h-2zM64.92 158.7h2v2.2h-2zM69.14 158.7h2v2.2h-2zM73.36 158.7h2v2.2h-2zM77.58 158.7h2v2.2h-2zM81.8 158.7h2v2.2h-2zM86.02 158.7h2v2.2h-2zM90.24 158.7h2v2.2h-2zM94.46 158.7h2v2.2h-2zM98.68 158.7h2v2.2h-2zM102.9 158.7h2v2.2h-2zM107.12 158.7h2v2.2h-2zM111.34 158.7h2v2.2h-2zM115.56 158.7h2v2.2h-2zM119.78 158.7h2v2.2h-2zM124 158.7h2v2.2h-2zM128.22 158.7h2v2.2h-2zM132.44 158.7h2v2.2h-2zM136.66 158.7h2v2.2h-2zM140.88 158.7h2v2.2h-2zM145.1 158.7h2v2.2h-2zM149.32 158.7h2v2.2h-2zM153.54 158.7h2v2.2h-2zM157.76 158.7h2v2.2h-2zM161.98 158.7h2v2.2h-2zM166.2 158.7h2v2.2h-2zM170.42 158.7h2v2.2h-2zM174.64 158.7h2v2.2h-2zM178.86 158.7h2v2.2h-2zM183.08 158.7h2v2.2h-2zM187.3 158.7h2v2.2h-2zM39.6 162.95h2v2.2h-2zM43.82 162.95h2v2.2h-2zM48.04 162.95h2v2.2h-2zM52.26 162.95h2v2.2h-2zM56.48 162.95h2v2.2h-2zM60.7 162.95h2v2.2h-2zM64.92 162.95h2v2.2h-2zM69.14 162.95h2v2.2h-2zM73.36 162.95h2v2.2h-2zM77.58 162.95h2v2.2h-2zM81.8 162.95h2v2.2h-2zM86.02 162.95h2v2.2h-2zM90.24 162.95h2v2.2h-2zM94.46 162.95h2v2.2h-2zM98.68 162.95h2v2.2h-2zM102.9 162.95h2v2.2h-2zM107.12 162.95h2v2.2h-2zM111.34 162.95h2v2.2h-2zM115.56 162.95h2v2.2h-2zM119.78 162.95h2v2.2h-2zM124 162.95h2v2.2h-2zM128.22 162.95h2v2.2h-2zM132.44 162.95h2v2.2h-2zM136.66 162.95h2v2.2h-2zM140.88 162.95h2v2.2h-2zM145.1 162.95h2v2.2h-2zM149.32 162.95h2v2.2h-2zM153.54 162.95h2v2.2h-2zM157.76 162.95h2v2.2h-2zM161.98 162.95h2v2.2h-2zM166.2 162.95h2v2.2h-2zM170.42 162.95h2v2.2h-2zM174.64 162.95h2v2.2h-2zM178.86 162.95h2v2.2h-2zM183.08 162.95h2v2.2h-2zM187.3 162.95h2v2.2h-2z" fill="#c85a36"/><rect x="42" y="13.8" width="1.4" height="153.8" fill="#e6df6a"/><rect x="46.22" y="13.8" width="1.4" height="153.8" fill="#e6df6a"/><rect x="50.44" y="4" width="1.4" height="163.6" fill="#e6df6a"/><rect x="54.66" y="4" width="1.4" height="163.6" fill="#e6df6a"/><rect x="58.88" y="4" width="1.4" height="163.6" fill="#e6df6a"/><rect x="63.1" y="4" width="1.4" height="163.6" fill="#e6df6a"/><rect x="67.32" y="4" width="1.4" height="163.6" fill="#e6df6a"/><rect x="71.54" y="4" width="1.4" height="163.6" fill="#e6df6a"/><rect x="75.76" y="4" width="1.4" height="163.6" fill="#e6df6a"/><rect x="79.98" y="13.8" width="1.4" height="167.2" fill="#e6df6a"/><rect x="84.2" y="13.8" width="1.4" height="167.2" fill="#e6df6a"/><rect x="88.42" y="13.8" width="1.4" height="167.2" fill="#e6df6a"/><rect x="92.64" y="13.8" width="1.4" height="167.2" fill="#e6df6a"/><rect x="96.86" y="13.8" width="1.4" height="167.2" fill="#e6df6a"/><rect x="101.08" y="13.8" width="1.4" height="167.2" fill="#e6df6a"/><rect x="105.3" y="13.8" width="1.4" height="167.2" fill="#e6df6a"/><rect x="109.52" y="13.8" width="1.4" height="167.2" fill="#e6df6a"/><rect x="113.74" y="13.8" width="1.4" height="167.2" fill="#e6df6a"/><rect x="117.96" y="13.8" width="1.4" height="167.2" fill="#e6df6a"/><rect x="122.18" y="13.8" width="1.4" height="167.2" fill="#e6df6a"/><rect x="126.4" y="13.8" width="1.4" height="167.2" fill="#e6df6a"/><rect x="130.62" y="13.8" width="1.4" height="167.2" fill="#e6df6a"/><rect x="134.84" y="13.8" width="1.4" height="167.2" fill="#e6df6a"/><rect x="139.06" y="13.8" width="1.4" height="167.2" fill="#e6df6a"/><rect x="143.28" y="13.8" width="1.4" height="167.2" fill="#e6df6a"/><rect x="147.5" y="13.8" width="1.4" height="167.2" fill="#e6df6a"/><rect x="151.72" y="13.8" width="1.4" height="167.2" fill="#e6df6a"/><rect x="155.94" y="4" width="1.4" height="163.6" fill="#e6df6a"/><rect x="160.16" y="4" width="1.4" height="163.6" fill="#e6df6a"/><rect x="164.38" y="4" width="1.4" height="163.6" fill="#e6df6a"/><rect x="168.6" y="4" width="1.4" height="163.6" fill="#e6df6a"/><rect x="172.82" y="4" width="1.4" height="163.6" fill="#e6df6a"/><rect x="177.04" y="4" width="1.4" height="163.6" fill="#e6df6a"/><rect x="181.26" y="4" width="1.4" height="163.6" fill="#e6df6a"/><rect x="185.48" y="13.8" width="1.4" height="153.8" fill="#e6df6a"/><rect x="189.7" y="13.8" width="1.4" height="153.8" fill="#e6df6a"/><text x="55" y="14.2" stroke="#fff" stroke-width="0.35" style="font-family:'Liberation Serif',serif;font-size:13.8px;font-weight:bold" fill="#fff">BL</text><text x="162.5" y="14.2" stroke="#fff" stroke-width="0.35" style="font-family:'Liberation Serif',serif;font-size:13.8px;font-weight:bold" fill="#fff">BL</text><text x="106.3" y="177.9" stroke="#fff" stroke-width="0.35" style="font-family:'Liberation Serif',serif;font-size:13.5px;font-weight:bold" fill="#fff">BL</text><text x="111.5" y="76.6" text-anchor="middle" stroke="#fff" stroke-width="0.6" style="font-family:'Liberation Serif',serif;font-size:16.5px;font-weight:bold;letter-spacing:1.5px" fill="#fff">32×32 1T1R</text><text x="111.2" y="98" text-anchor="middle" stroke="#fff" stroke-width="0.6" style="font-family:'Liberation Serif',serif;font-size:16.8px;font-weight:bold;letter-spacing:1.1px" fill="#fff">ARRAY</text><text transform="translate(35,98.3) rotate(-90)" stroke="#fff" stroke-width="0.35" style="font-family:'Liberation Serif',serif;font-size:14.2px;font-weight:bold" fill="#fff">WL</text><text transform="translate(204.2,96.6) rotate(-90)" stroke="#fff" stroke-width="0.35" style="font-family:'Liberation Serif',serif;font-size:15px;font-weight:bold" fill="#fff">SL</text><path d="M167.6 185.6 L181.2 195.8 L172.1 195.8 L172.1 210.6 L162.6 210.6 L162.6 195.8 L153.6 195.8 Z" fill="#7030a0"/><text x="235.9" y="10.9" style="font-family:'Liberation Sans',sans-serif;font-size:14px" fill="#1a1a1a">(b)</text><line x1="293" y1="142.24" x2="683" y2="142.24" stroke="#b0b0b0" stroke-width="1.1" stroke-dasharray="4.5 3.4"/><line x1="316" y1="109.31" x2="683" y2="109.31" stroke="#b0b0b0" stroke-width="1.1" stroke-dasharray="4.5 3.4"/><line x1="383" y1="54.46" x2="683" y2="54.46" stroke="#b0b0b0" stroke-width="1.1" stroke-dasharray="4.5 3.4"/><rect x="280.5" y="10" width="189.0" height="152" fill="none" stroke="#111" stroke-width="1.3"/><line x1="280.5" y1="162" x2="283.3" y2="162" stroke="#111" stroke-width="1.1"/><text x="277.6" y="165.6" text-anchor="end" style="font-family:'Liberation Serif',serif;font-size:10.2px;font-weight:bold" fill="#111">40</text><line x1="280.5" y1="136.67" x2="283.3" y2="136.67" stroke="#111" stroke-width="1.1"/><text x="277.6" y="140.27" text-anchor="end" style="font-family:'Liberation Serif',serif;font-size:10.2px;font-weight:bold" fill="#111">60</text><line x1="280.5" y1="111.33" x2="283.3" y2="111.33" stroke="#111" stroke-width="1.1"/><text x="277.6" y="114.93" text-anchor="end" style="font-family:'Liberation Serif',serif;font-size:10.2px;font-weight:bold" fill="#111">80</text><line x1="280.5" y1="86" x2="283.3" y2="86" stroke="#111" stroke-width="1.1"/><text x="277.6" y="89.6" text-anchor="end" style="font-family:'Liberation Serif',serif;font-size:10.2px;font-weight:bold" fill="#111">100</text><line x1="280.5" y1="60.67" x2="283.3" y2="60.67" stroke="#111" stroke-width="1.1"/><text x="277.6" y="64.27" text-anchor="end" style="font-family:'Liberation Serif',serif;font-size:10.2px;font-weight:bold" fill="#111">120</text><line x1="280.5" y1="35.33" x2="283.3" y2="35.33" stroke="#111" stroke-width="1.1"/><text x="277.6" y="38.93" text-anchor="end" style="font-family:'Liberation Serif',serif;font-size:10.2px;font-weight:bold" fill="#111">140</text><line x1="280.5" y1="10" x2="283.3" y2="10" stroke="#111" stroke-width="1.1"/><text x="277.6" y="13.6" text-anchor="end" style="font-family:'Liberation Serif',serif;font-size:10.2px;font-weight:bold" fill="#111">160</text><line x1="280.5" y1="149.33" x2="282.0" y2="149.33" stroke="#111" stroke-width="1"/><line x1="280.5" y1="124" x2="282.0" y2="124" stroke="#111" stroke-width="1"/><line x1="280.5" y1="98.67" x2="282.0" y2="98.67" stroke="#111" stroke-width="1"/><line x1="280.5" y1="73.33" x2="282.0" y2="73.33" stroke="#111" stroke-width="1"/><line x1="280.5" y1="48" x2="282.0" y2="48" stroke="#111" stroke-width="1"/><line x1="280.5" y1="22.67" x2="282.0" y2="22.67" stroke="#111" stroke-width="1"/><line x1="287.1" y1="162" x2="287.1" y2="159.2" stroke="#111" stroke-width="1.1"/><text x="287.1" y="173" text-anchor="middle" style="font-family:'Liberation Serif',serif;font-size:10.2px;font-weight:bold" fill="#111">0</text><line x1="304.31" y1="162" x2="304.31" y2="159.2" stroke="#111" stroke-width="1.1"/><text x="304.31" y="173" text-anchor="middle" style="font-family:'Liberation Serif',serif;font-size:10.2px;font-weight:bold" fill="#111">5</text><line x1="321.52" y1="162" x2="321.52" y2="159.2" stroke="#111" stroke-width="1.1"/><text x="321.52" y="173" text-anchor="middle" style="font-family:'Liberation Serif',serif;font-size:10.2px;font-weight:bold" fill="#111">10</text><line x1="338.73" y1="162" x2="338.73" y2="159.2" stroke="#111" stroke-width="1.1"/><text x="338.73" y="173" text-anchor="middle" style="font-family:'Liberation Serif',serif;font-size:10.2px;font-weight:bold" fill="#111">15</text><line x1="355.94" y1="162" x2="355.94" y2="159.2" stroke="#111" stroke-width="1.1"/><text x="355.94" y="173" text-anchor="middle" style="font-family:'Liberation Serif',serif;font-size:10.2px;font-weight:bold" fill="#111">20</text><line x1="373.15" y1="162" x2="373.15" y2="159.2" stroke="#111" stroke-width="1.1"/><text x="373.15" y="173" text-anchor="middle" style="font-family:'Liberation Serif',serif;font-size:10.2px;font-weight:bold" fill="#111">25</text><line x1="390.36" y1="162" x2="390.36" y2="159.2" stroke="#111" stroke-width="1.1"/><text x="390.36" y="173" text-anchor="middle" style="font-family:'Liberation Serif',serif;font-size:10.2px;font-weight:bold" fill="#111">30</text><line x1="407.57" y1="162" x2="407.57" y2="159.2" stroke="#111" stroke-width="1.1"/><text x="407.57" y="173" text-anchor="middle" style="font-family:'Liberation Serif',serif;font-size:10.2px;font-weight:bold" fill="#111">35</text><line x1="424.78" y1="162" x2="424.78" y2="159.2" stroke="#111" stroke-width="1.1"/><text x="424.78" y="173" text-anchor="middle" style="font-family:'Liberation Serif',serif;font-size:10.2px;font-weight:bold" fill="#111">40</text><line x1="441.99" y1="162" x2="441.99" y2="159.2" stroke="#111" stroke-width="1.1"/><text x="441.99" y="173" text-anchor="middle" style="font-family:'Liberation Serif',serif;font-size:10.2px;font-weight:bold" fill="#111">45</text><line x1="459.2" y1="162" x2="459.2" y2="159.2" stroke="#111" stroke-width="1.1"/><text x="459.2" y="173" text-anchor="middle" style="font-family:'Liberation Serif',serif;font-size:10.2px;font-weight:bold" fill="#111">50</text><polyline points="290.54,149.08 293.98,137.05 297.43,123.37 300.87,129.32 304.31,123.37 307.75,114.75 311.19,118.93 314.64,109.56 318.08,104.75 321.52,98.79 324.96,86.63 328.4,99.93 331.85,91.07 335.29,92.97 338.73,79.41 342.17,78.15 345.61,76.63 349.06,70.55 352.5,54.71 355.94,61.17 359.38,60.67 362.82,61.55 366.27,51.55 369.71,49.27 373.15,46.61 376.59,45.34 380.03,56.23 383.48,51.04 386.92,46.61 390.36,48.38 393.8,56.23 397.24,43.06 400.69,33.05 404.13,42.43 407.57,43.44 411.01,43.95 414.45,45.34 417.9,43.95 421.34,42.93 424.78,47.11 428.22,43.44 431.66,39.77 435.11,37.11 438.55,38.88 441.99,32.17 445.43,32.04 448.87,34.45 452.32,31.66 455.76,27.99 459.2,25.45 462.64,32.17" fill="none" stroke="#d4484e" stroke-width="1.4" stroke-linejoin="round"/><path d="M290.54 146.78l2.3 2.3l-2.3 2.3l-2.3 -2.3zM293.98 134.75l2.3 2.3l-2.3 2.3l-2.3 -2.3zM297.43 121.07l2.3 2.3l-2.3 2.3l-2.3 -2.3zM300.87 127.02l2.3 2.3l-2.3 2.3l-2.3 -2.3zM304.31 121.07l2.3 2.3l-2.3 2.3l-2.3 -2.3zM307.75 112.45l2.3 2.3l-2.3 2.3l-2.3 -2.3zM311.19 116.63l2.3 2.3l-2.3 2.3l-2.3 -2.3zM314.64 107.26l2.3 2.3l-2.3 2.3l-2.3 -2.3zM318.08 102.45l2.3 2.3l-2.3 2.3l-2.3 -2.3zM321.52 96.49l2.3 2.3l-2.3 2.3l-2.3 -2.3zM324.96 84.33l2.3 2.3l-2.3 2.3l-2.3 -2.3zM328.4 97.63l2.3 2.3l-2.3 2.3l-2.3 -2.3zM331.85 88.77l2.3 2.3l-2.3 2.3l-2.3 -2.3zM335.29 90.67l2.3 2.3l-2.3 2.3l-2.3 -2.3zM338.73 77.11l2.3 2.3l-2.3 2.3l-2.3 -2.3zM342.17 75.85l2.3 2.3l-2.3 2.3l-2.3 -2.3zM345.61 74.33l2.3 2.3l-2.3 2.3l-2.3 -2.3zM349.06 68.25l2.3 2.3l-2.3 2.3l-2.3 -2.3zM352.5 52.41l2.3 2.3l-2.3 2.3l-2.3 -2.3zM355.94 58.87l2.3 2.3l-2.3 2.3l-2.3 -2.3zM359.38 58.37l2.3 2.3l-2.3 2.3l-2.3 -2.3zM362.82 59.25l2.3 2.3l-2.3 2.3l-2.3 -2.3zM366.27 49.25l2.3 2.3l-2.3 2.3l-2.3 -2.3zM369.71 46.97l2.3 2.3l-2.3 2.3l-2.3 -2.3zM373.15 44.31l2.3 2.3l-2.3 2.3l-2.3 -2.3zM376.59 43.04l2.3 2.3l-2.3 2.3l-2.3 -2.3zM380.03 53.93l2.3 2.3l-2.3 2.3l-2.3 -2.3zM383.48 48.74l2.3 2.3l-2.3 2.3l-2.3 -2.3zM386.92 44.31l2.3 2.3l-2.3 2.3l-2.3 -2.3zM390.36 46.08l2.3 2.3l-2.3 2.3l-2.3 -2.3zM393.8 53.93l2.3 2.3l-2.3 2.3l-2.3 -2.3zM397.24 40.76l2.3 2.3l-2.3 2.3l-2.3 -2.3zM400.69 30.75l2.3 2.3l-2.3 2.3l-2.3 -2.3zM404.13 40.13l2.3 2.3l-2.3 2.3l-2.3 -2.3zM407.57 41.14l2.3 2.3l-2.3 2.3l-2.3 -2.3zM411.01 41.65l2.3 2.3l-2.3 2.3l-2.3 -2.3zM414.45 43.04l2.3 2.3l-2.3 2.3l-2.3 -2.3zM417.9 41.65l2.3 2.3l-2.3 2.3l-2.3 -2.3zM421.34 40.63l2.3 2.3l-2.3 2.3l-2.3 -2.3zM424.78 44.81l2.3 2.3l-2.3 2.3l-2.3 -2.3zM428.22 41.14l2.3 2.3l-2.3 2.3l-2.3 -2.3zM431.66 37.47l2.3 2.3l-2.3 2.3l-2.3 -2.3zM435.11 34.81l2.3 2.3l-2.3 2.3l-2.3 -2.3zM438.55 36.58l2.3 2.3l-2.3 2.3l-2.3 -2.3zM441.99 29.87l2.3 2.3l-2.3 2.3l-2.3 -2.3zM445.43 29.74l2.3 2.3l-2.3 2.3l-2.3 -2.3zM448.87 32.15l2.3 2.3l-2.3 2.3l-2.3 -2.3zM452.32 29.36l2.3 2.3l-2.3 2.3l-2.3 -2.3zM455.76 25.69l2.3 2.3l-2.3 2.3l-2.3 -2.3zM459.2 23.15l2.3 2.3l-2.3 2.3l-2.3 -2.3zM462.64 29.87l2.3 2.3l-2.3 2.3l-2.3 -2.3z" fill="#d4484e"/><line x1="292" y1="24" x2="315.8" y2="24" stroke="#d4484e" stroke-width="1.4"/><text x="321.2" y="27.8" style="font-family:'Liberation Serif',serif;font-size:12px;font-weight:bold" fill="#111">1 1</text><text transform="translate(255.2,82.4) rotate(-90)" text-anchor="middle" style="font-family:'Liberation Serif',serif;font-size:13px;font-weight:bold" fill="#111">Conductance (μS)</text><text x="345" y="188.5" style="font-family:'Liberation Serif',serif;font-size:13px;font-weight:bold" fill="#111">Pulses</text><text x="385.2" y="187.6" style="font-family:'Liberation Serif',serif;font-size:12.5px" fill="#222">(</text><text x="391.3" y="187.8" style="font-family:'Liberation Serif',serif;font-size:12.5px;font-weight:bold" fill="#111">#</text><text x="399.6" y="187.6" style="font-family:'Liberation Serif',serif;font-size:12.5px" fill="#222">)</text><rect x="496.5" y="11.1" width="187.1" height="150.9" fill="none" stroke="#111" stroke-width="1.3"/><line x1="496.5" y1="162" x2="499.3" y2="162" stroke="#111" stroke-width="1.1"/><text x="493" y="165.6" text-anchor="end" style="font-family:'Liberation Serif',serif;font-size:10.2px;font-weight:bold" fill="#111">40</text><line x1="496.5" y1="136.85" x2="499.3" y2="136.85" stroke="#111" stroke-width="1.1"/><text x="493" y="140.45" text-anchor="end" style="font-family:'Liberation Serif',serif;font-size:10.2px;font-weight:bold" fill="#111">60</text><line x1="496.5" y1="111.7" x2="499.3" y2="111.7" stroke="#111" stroke-width="1.1"/><text x="493" y="115.3" text-anchor="end" style="font-family:'Liberation Serif',serif;font-size:10.2px;font-weight:bold" fill="#111">80</text><line x1="496.5" y1="86.55" x2="499.3" y2="86.55" stroke="#111" stroke-width="1.1"/><text x="493" y="90.15" text-anchor="end" style="font-family:'Liberation Serif',serif;font-size:10.2px;font-weight:bold" fill="#111">100</text><line x1="496.5" y1="61.4" x2="499.3" y2="61.4" stroke="#111" stroke-width="1.1"/><text x="493" y="65" text-anchor="end" style="font-family:'Liberation Serif',serif;font-size:10.2px;font-weight:bold" fill="#111">120</text><line x1="496.5" y1="36.25" x2="499.3" y2="36.25" stroke="#111" stroke-width="1.1"/><text x="493" y="39.85" text-anchor="end" style="font-family:'Liberation Serif',serif;font-size:10.2px;font-weight:bold" fill="#111">140</text><line x1="496.5" y1="11.1" x2="499.3" y2="11.1" stroke="#111" stroke-width="1.1"/><text x="493" y="14.7" text-anchor="end" style="font-family:'Liberation Serif',serif;font-size:10.2px;font-weight:bold" fill="#111">160</text><line x1="496.5" y1="149.43" x2="498.0" y2="149.43" stroke="#111" stroke-width="1"/><line x1="496.5" y1="124.28" x2="498.0" y2="124.28" stroke="#111" stroke-width="1"/><line x1="496.5" y1="99.12" x2="498.0" y2="99.12" stroke="#111" stroke-width="1"/><line x1="496.5" y1="73.97" x2="498.0" y2="73.97" stroke="#111" stroke-width="1"/><line x1="496.5" y1="48.83" x2="498.0" y2="48.83" stroke="#111" stroke-width="1"/><line x1="496.5" y1="23.68" x2="498.0" y2="23.68" stroke="#111" stroke-width="1"/><line x1="496.5" y1="162" x2="496.5" y2="159.2" stroke="#111" stroke-width="1.1"/><text x="496.5" y="173" text-anchor="middle" style="font-family:'Liberation Serif',serif;font-size:10.2px;font-weight:bold" fill="#111">0</text><line x1="526.7" y1="162" x2="526.7" y2="159.2" stroke="#111" stroke-width="1.1"/><text x="526.7" y="173" text-anchor="middle" style="font-family:'Liberation Serif',serif;font-size:10.2px;font-weight:bold" fill="#111">5</text><line x1="556.9" y1="162" x2="556.9" y2="159.2" stroke="#111" stroke-width="1.1"/><text x="556.9" y="173" text-anchor="middle" style="font-family:'Liberation Serif',serif;font-size:10.2px;font-weight:bold" fill="#111">10</text><line x1="587.1" y1="162" x2="587.1" y2="159.2" stroke="#111" stroke-width="1.1"/><text x="587.1" y="173" text-anchor="middle" style="font-family:'Liberation Serif',serif;font-size:10.2px;font-weight:bold" fill="#111">15</text><line x1="617.3" y1="162" x2="617.3" y2="159.2" stroke="#111" stroke-width="1.1"/><text x="617.3" y="173" text-anchor="middle" style="font-family:'Liberation Serif',serif;font-size:10.2px;font-weight:bold" fill="#111">20</text><line x1="647.5" y1="162" x2="647.5" y2="159.2" stroke="#111" stroke-width="1.1"/><text x="647.5" y="173" text-anchor="middle" style="font-family:'Liberation Serif',serif;font-size:10.2px;font-weight:bold" fill="#111">25</text><line x1="677.7" y1="162" x2="677.7" y2="159.2" stroke="#111" stroke-width="1.1"/><text x="677.7" y="173" text-anchor="middle" style="font-family:'Liberation Serif',serif;font-size:10.2px;font-weight:bold" fill="#111">30</text><text x="564" y="187.8" style="font-family:'Liberation Serif',serif;font-size:13px;font-weight:bold" fill="#111">Pulses (#)</text><polyline points="502.54,141.88 508.58,141.88 514.62,141.88 520.66,141.88 526.7,141.5 532.74,138.23 538.78,141.88 544.82,142.26 550.86,141.88 556.9,142.26 562.94,138.23 568.98,138.23 575.02,142.26 581.06,141.88 587.1,138.48 593.14,138.48 599.18,138.48 605.22,142.63 611.26,141.88 617.3,142.63 623.34,141.88 629.38,142.63 635.42,141.88 641.46,142.63 647.5,142.26 653.54,141.88 659.58,141.13 665.62,138.23 671.66,141.13 677.7,141.13" fill="none" stroke="#d8646a" stroke-width="1.1"/><path d="M501.04 140.38h3v3h-3zM507.08 140.38h3v3h-3zM513.12 140.38h3v3h-3zM519.16 140.38h3v3h-3zM525.2 140h3v3h-3zM531.24 136.73h3v3h-3zM537.28 140.38h3v3h-3zM543.32 140.76h3v3h-3zM549.36 140.38h3v3h-3zM555.4 140.76h3v3h-3zM561.44 136.73h3v3h-3zM567.48 136.73h3v3h-3zM573.52 140.76h3v3h-3zM579.56 140.38h3v3h-3zM585.6 136.98h3v3h-3zM591.64 136.98h3v3h-3zM597.68 136.98h3v3h-3zM603.72 141.13h3v3h-3zM609.76 140.38h3v3h-3zM615.8 141.13h3v3h-3zM621.84 140.38h3v3h-3zM627.88 141.13h3v3h-3zM633.92 140.38h3v3h-3zM639.96 141.13h3v3h-3zM646 140.76h3v3h-3zM652.04 140.38h3v3h-3zM658.08 139.63h3v3h-3zM664.12 136.73h3v3h-3zM670.16 139.63h3v3h-3zM676.2 139.63h3v3h-3z" fill="#d4484e"/><polyline points="502.54,144.4 508.58,144.4 514.62,144.4 520.66,144.4 526.7,144.4 532.74,144.4 538.78,144.4 544.82,144.4 550.86,144.4 556.9,144.4 562.94,140.37 568.98,142.63 575.02,144.4 581.06,144.9 587.1,144.4 593.14,144.4 599.18,144.4 605.22,140.37 611.26,144.65 617.3,144.65 623.34,140.37 629.38,140.37 635.42,143.64 641.46,144.14 647.5,144.14 653.54,144.14 659.58,144.14 665.62,143.64 671.66,142.13 677.7,142.13" fill="none" stroke="#6a78cc" stroke-width="1.1"/><path d="M501.04 142.9h3v3h-3zM507.08 142.9h3v3h-3zM513.12 142.9h3v3h-3zM519.16 142.9h3v3h-3zM525.2 142.9h3v3h-3zM531.24 142.9h3v3h-3zM537.28 142.9h3v3h-3zM543.32 142.9h3v3h-3zM549.36 142.9h3v3h-3zM555.4 142.9h3v3h-3zM561.44 138.87h3v3h-3zM567.48 141.13h3v3h-3zM573.52 142.9h3v3h-3zM579.56 143.4h3v3h-3zM585.6 142.9h3v3h-3zM591.64 142.9h3v3h-3zM597.68 142.9h3v3h-3zM603.72 138.87h3v3h-3zM609.76 143.15h3v3h-3zM615.8 143.15h3v3h-3zM621.84 138.87h3v3h-3zM627.88 138.87h3v3h-3zM633.92 142.14h3v3h-3zM639.96 142.64h3v3h-3zM646 142.64h3v3h-3zM652.04 142.64h3v3h-3zM658.08 142.64h3v3h-3zM664.12 142.14h3v3h-3zM670.16 140.63h3v3h-3zM676.2 140.63h3v3h-3z" fill="#4a5cc4"/><polyline points="502.54,142.63 508.58,142.63 514.62,142.63 520.66,142.63 526.7,138.61 532.74,142.63 538.78,142.63 544.82,143.14 550.86,142.63 556.9,142.63 562.94,139.99 568.98,139.62 575.02,142.63 581.06,142.63 587.1,142.63 593.14,142.63 599.18,142.63 605.22,140.37 611.26,142.63 617.3,143.64 623.34,142.13 629.38,141.63 635.42,142.38 641.46,142.63 647.5,142.13 653.54,142.63 659.58,142.63 665.62,140.37 671.66,142.13 677.7,142.63" fill="none" stroke="#78bce0" stroke-width="1.1"/><path d="M501.04 141.13h3v3h-3zM507.08 141.13h3v3h-3zM513.12 141.13h3v3h-3zM519.16 141.13h3v3h-3zM525.2 137.11h3v3h-3zM531.24 141.13h3v3h-3zM537.28 141.13h3v3h-3zM543.32 141.64h3v3h-3zM549.36 141.13h3v3h-3zM555.4 141.13h3v3h-3zM561.44 138.49h3v3h-3zM567.48 138.12h3v3h-3zM573.52 141.13h3v3h-3zM579.56 141.13h3v3h-3zM585.6 141.13h3v3h-3zM591.64 141.13h3v3h-3zM597.68 141.13h3v3h-3zM603.72 138.87h3v3h-3zM609.76 141.13h3v3h-3zM615.8 142.14h3v3h-3zM621.84 140.63h3v3h-3zM627.88 140.13h3v3h-3zM633.92 140.88h3v3h-3zM639.96 141.13h3v3h-3zM646 140.63h3v3h-3zM652.04 141.13h3v3h-3zM658.08 141.13h3v3h-3zM664.12 138.87h3v3h-3zM670.16 140.63h3v3h-3zM676.2 141.13h3v3h-3z" fill="#64b4dc"/><polyline points="502.54,111.05 508.58,110.92 514.62,109.64 520.66,111.04 526.7,110.55 532.74,109.27 538.78,110.41 544.82,108.7 550.86,108.55 556.9,109.02 562.94,108.92 568.98,108.6 575.02,108.83 581.06,108.14 587.1,109.2 593.14,109.63 599.18,108.7 605.22,108.97 611.26,109.88 617.3,108.93 623.34,107.93 629.38,108.9 635.42,110.24 641.46,110.03 647.5,109.91 653.54,109.97 659.58,108.61 665.62,109.78 671.66,108.61 677.7,109.98" fill="none" stroke="#d8646a" stroke-width="1.1"/><path d="M501.04 111.05a1.5 1.5 0 1 0 3 0a1.5 1.5 0 1 0 -3 0zM507.08 110.92a1.5 1.5 0 1 0 3 0a1.5 1.5 0 1 0 -3 0zM513.12 109.64a1.5 1.5 0 1 0 3 0a1.5 1.5 0 1 0 -3 0zM519.16 111.04a1.5 1.5 0 1 0 3 0a1.5 1.5 0 1 0 -3 0zM525.2 110.55a1.5 1.5 0 1 0 3 0a1.5 1.5 0 1 0 -3 0zM531.24 109.27a1.5 1.5 0 1 0 3 0a1.5 1.5 0 1 0 -3 0zM537.28 110.41a1.5 1.5 0 1 0 3 0a1.5 1.5 0 1 0 -3 0zM543.32 108.7a1.5 1.5 0 1 0 3 0a1.5 1.5 0 1 0 -3 0zM549.36 108.55a1.5 1.5 0 1 0 3 0a1.5 1.5 0 1 0 -3 0zM555.4 109.02a1.5 1.5 0 1 0 3 0a1.5 1.5 0 1 0 -3 0zM561.44 108.92a1.5 1.5 0 1 0 3 0a1.5 1.5 0 1 0 -3 0zM567.48 108.6a1.5 1.5 0 1 0 3 0a1.5 1.5 0 1 0 -3 0zM573.52 108.83a1.5 1.5 0 1 0 3 0a1.5 1.5 0 1 0 -3 0zM579.56 108.14a1.5 1.5 0 1 0 3 0a1.5 1.5 0 1 0 -3 0zM585.6 109.2a1.5 1.5 0 1 0 3 0a1.5 1.5 0 1 0 -3 0zM591.64 109.63a1.5 1.5 0 1 0 3 0a1.5 1.5 0 1 0 -3 0zM597.68 108.7a1.5 1.5 0 1 0 3 0a1.5 1.5 0 1 0 -3 0zM603.72 108.97a1.5 1.5 0 1 0 3 0a1.5 1.5 0 1 0 -3 0zM609.76 109.88a1.5 1.5 0 1 0 3 0a1.5 1.5 0 1 0 -3 0zM615.8 108.93a1.5 1.5 0 1 0 3 0a1.5 1.5 0 1 0 -3 0zM621.84 107.93a1.5 1.5 0 1 0 3 0a1.5 1.5 0 1 0 -3 0zM627.88 108.9a1.5 1.5 0 1 0 3 0a1.5 1.5 0 1 0 -3 0zM633.92 110.24a1.5 1.5 0 1 0 3 0a1.5 1.5 0 1 0 -3 0zM639.96 110.03a1.5 1.5 0 1 0 3 0a1.5 1.5 0 1 0 -3 0zM646 109.91a1.5 1.5 0 1 0 3 0a1.5 1.5 0 1 0 -3 0zM652.04 109.97a1.5 1.5 0 1 0 3 0a1.5 1.5 0 1 0 -3 0zM658.08 108.61a1.5 1.5 0 1 0 3 0a1.5 1.5 0 1 0 -3 0zM664.12 109.78a1.5 1.5 0 1 0 3 0a1.5 1.5 0 1 0 -3 0zM670.16 108.61a1.5 1.5 0 1 0 3 0a1.5 1.5 0 1 0 -3 0zM676.2 109.98a1.5 1.5 0 1 0 3 0a1.5 1.5 0 1 0 -3 0z" fill="#d4484e"/><polyline points="502.54,109.33 508.58,108.55 514.62,107.68 520.66,107.38 526.7,107.62 532.74,107.93 538.78,108.1 544.82,107.87 550.86,108.34 556.9,108.25 562.94,107.95 568.98,108.24 575.02,107.79 581.06,107.69 587.1,106.44 593.14,107.07 599.18,108.07 605.22,108.62 611.26,108.65 617.3,107.91 623.34,108.49 629.38,108.25 635.42,106.92 641.46,109.72 647.5,110.23 653.54,109.41 659.58,108.79 665.62,108.55 671.66,108.96 677.7,108.31" fill="none" stroke="#6a78cc" stroke-width="1.1"/><path d="M501.04 109.33a1.5 1.5 0 1 0 3 0a1.5 1.5 0 1 0 -3 0zM507.08 108.55a1.5 1.5 0 1 0 3 0a1.5 1.5 0 1 0 -3 0zM513.12 107.68a1.5 1.5 0 1 0 3 0a1.5 1.5 0 1 0 -3 0zM519.16 107.38a1.5 1.5 0 1 0 3 0a1.5 1.5 0 1 0 -3 0zM525.2 107.62a1.5 1.5 0 1 0 3 0a1.5 1.5 0 1 0 -3 0zM531.24 107.93a1.5 1.5 0 1 0 3 0a1.5 1.5 0 1 0 -3 0zM537.28 108.1a1.5 1.5 0 1 0 3 0a1.5 1.5 0 1 0 -3 0zM543.32 107.87a1.5 1.5 0 1 0 3 0a1.5 1.5 0 1 0 -3 0zM549.36 108.34a1.5 1.5 0 1 0 3 0a1.5 1.5 0 1 0 -3 0zM555.4 108.25a1.5 1.5 0 1 0 3 0a1.5 1.5 0 1 0 -3 0zM561.44 107.95a1.5 1.5 0 1 0 3 0a1.5 1.5 0 1 0 -3 0zM567.48 108.24a1.5 1.5 0 1 0 3 0a1.5 1.5 0 1 0 -3 0zM573.52 107.79a1.5 1.5 0 1 0 3 0a1.5 1.5 0 1 0 -3 0zM579.56 107.69a1.5 1.5 0 1 0 3 0a1.5 1.5 0 1 0 -3 0zM585.6 106.44a1.5 1.5 0 1 0 3 0a1.5 1.5 0 1 0 -3 0zM591.64 107.07a1.5 1.5 0 1 0 3 0a1.5 1.5 0 1 0 -3 0zM597.68 108.07a1.5 1.5 0 1 0 3 0a1.5 1.5 0 1 0 -3 0zM603.72 108.62a1.5 1.5 0 1 0 3 0a1.5 1.5 0 1 0 -3 0zM609.76 108.65a1.5 1.5 0 1 0 3 0a1.5 1.5 0 1 0 -3 0zM615.8 107.91a1.5 1.5 0 1 0 3 0a1.5 1.5 0 1 0 -3 0zM621.84 108.49a1.5 1.5 0 1 0 3 0a1.5 1.5 0 1 0 -3 0zM627.88 108.25a1.5 1.5 0 1 0 3 0a1.5 1.5 0 1 0 -3 0zM633.92 106.92a1.5 1.5 0 1 0 3 0a1.5 1.5 0 1 0 -3 0zM639.96 109.72a1.5 1.5 0 1 0 3 0a1.5 1.5 0 1 0 -3 0zM646 110.23a1.5 1.5 0 1 0 3 0a1.5 1.5 0 1 0 -3 0zM652.04 109.41a1.5 1.5 0 1 0 3 0a1.5 1.5 0 1 0 -3 0zM658.08 108.79a1.5 1.5 0 1 0 3 0a1.5 1.5 0 1 0 -3 0zM664.12 108.55a1.5 1.5 0 1 0 3 0a1.5 1.5 0 1 0 -3 0zM670.16 108.96a1.5 1.5 0 1 0 3 0a1.5 1.5 0 1 0 -3 0zM676.2 108.31a1.5 1.5 0 1 0 3 0a1.5 1.5 0 1 0 -3 0z" fill="#4a5cc4"/><polyline points="502.54,107.19 508.58,107.71 514.62,105.61 520.66,106.05 526.7,107.05 532.74,107.28 538.78,107.52 544.82,107.53 550.86,109.72 556.9,109.2 562.94,107.67 568.98,108.52 575.02,108.14 581.06,107.07 587.1,106.51 593.14,105.66 599.18,107.76 605.22,107.91 611.26,108 617.3,107.26 623.34,106.43 629.38,109.02 635.42,107.49 641.46,108.65 647.5,107.6 653.54,108.75 659.58,108.08 665.62,106.84 671.66,107.2 677.7,107.13" fill="none" stroke="#78bce0" stroke-width="1.1"/><path d="M501.04 107.19a1.5 1.5 0 1 0 3 0a1.5 1.5 0 1 0 -3 0zM507.08 107.71a1.5 1.5 0 1 0 3 0a1.5 1.5 0 1 0 -3 0zM513.12 105.61a1.5 1.5 0 1 0 3 0a1.5 1.5 0 1 0 -3 0zM519.16 106.05a1.5 1.5 0 1 0 3 0a1.5 1.5 0 1 0 -3 0zM525.2 107.05a1.5 1.5 0 1 0 3 0a1.5 1.5 0 1 0 -3 0zM531.24 107.28a1.5 1.5 0 1 0 3 0a1.5 1.5 0 1 0 -3 0zM537.28 107.52a1.5 1.5 0 1 0 3 0a1.5 1.5 0 1 0 -3 0zM543.32 107.53a1.5 1.5 0 1 0 3 0a1.5 1.5 0 1 0 -3 0zM549.36 109.72a1.5 1.5 0 1 0 3 0a1.5 1.5 0 1 0 -3 0zM555.4 109.2a1.5 1.5 0 1 0 3 0a1.5 1.5 0 1 0 -3 0zM561.44 107.67a1.5 1.5 0 1 0 3 0a1.5 1.5 0 1 0 -3 0zM567.48 108.52a1.5 1.5 0 1 0 3 0a1.5 1.5 0 1 0 -3 0zM573.52 108.14a1.5 1.5 0 1 0 3 0a1.5 1.5 0 1 0 -3 0zM579.56 107.07a1.5 1.5 0 1 0 3 0a1.5 1.5 0 1 0 -3 0zM585.6 106.51a1.5 1.5 0 1 0 3 0a1.5 1.5 0 1 0 -3 0zM591.64 105.66a1.5 1.5 0 1 0 3 0a1.5 1.5 0 1 0 -3 0zM597.68 107.76a1.5 1.5 0 1 0 3 0a1.5 1.5 0 1 0 -3 0zM603.72 107.91a1.5 1.5 0 1 0 3 0a1.5 1.5 0 1 0 -3 0zM609.76 108a1.5 1.5 0 1 0 3 0a1.5 1.5 0 1 0 -3 0zM615.8 107.26a1.5 1.5 0 1 0 3 0a1.5 1.5 0 1 0 -3 0zM621.84 106.43a1.5 1.5 0 1 0 3 0a1.5 1.5 0 1 0 -3 0zM627.88 109.02a1.5 1.5 0 1 0 3 0a1.5 1.5 0 1 0 -3 0zM633.92 107.49a1.5 1.5 0 1 0 3 0a1.5 1.5 0 1 0 -3 0zM639.96 108.65a1.5 1.5 0 1 0 3 0a1.5 1.5 0 1 0 -3 0zM646 107.6a1.5 1.5 0 1 0 3 0a1.5 1.5 0 1 0 -3 0zM652.04 108.75a1.5 1.5 0 1 0 3 0a1.5 1.5 0 1 0 -3 0zM658.08 108.08a1.5 1.5 0 1 0 3 0a1.5 1.5 0 1 0 -3 0zM664.12 106.84a1.5 1.5 0 1 0 3 0a1.5 1.5 0 1 0 -3 0zM670.16 107.2a1.5 1.5 0 1 0 3 0a1.5 1.5 0 1 0 -3 0zM676.2 107.13a1.5 1.5 0 1 0 3 0a1.5 1.5 0 1 0 -3 0z" fill="#64b4dc"/><polyline points="502.54,55.42 508.58,55.52 514.62,55.71 520.66,54.9 526.7,54.7 532.74,55.33 538.78,53.99 544.82,55.39 550.86,55.06 556.9,55.54 562.94,55.59 568.98,55.3 575.02,55.4 581.06,55.23 587.1,56.35 593.14,57.01 599.18,56.2 605.22,56.61 611.26,56.9 617.3,57.32 623.34,56.02 629.38,55.54 635.42,54.84 641.46,55.78 647.5,55.81 653.54,56.48 659.58,55.8 665.62,54.93 671.66,55.81 677.7,54.95" fill="none" stroke="#d8646a" stroke-width="1.1"/><path d="M502.54 53.62l1.7 3h-3.4zM508.58 53.72l1.7 3h-3.4zM514.62 53.91l1.7 3h-3.4zM520.66 53.1l1.7 3h-3.4zM526.7 52.9l1.7 3h-3.4zM532.74 53.53l1.7 3h-3.4zM538.78 52.19l1.7 3h-3.4zM544.82 53.59l1.7 3h-3.4zM550.86 53.26l1.7 3h-3.4zM556.9 53.74l1.7 3h-3.4zM562.94 53.79l1.7 3h-3.4zM568.98 53.5l1.7 3h-3.4zM575.02 53.6l1.7 3h-3.4zM581.06 53.43l1.7 3h-3.4zM587.1 54.55l1.7 3h-3.4zM593.14 55.21l1.7 3h-3.4zM599.18 54.4l1.7 3h-3.4zM605.22 54.81l1.7 3h-3.4zM611.26 55.1l1.7 3h-3.4zM617.3 55.52l1.7 3h-3.4zM623.34 54.22l1.7 3h-3.4zM629.38 53.74l1.7 3h-3.4zM635.42 53.04l1.7 3h-3.4zM641.46 53.98l1.7 3h-3.4zM647.5 54.01l1.7 3h-3.4zM653.54 54.68l1.7 3h-3.4zM659.58 54l1.7 3h-3.4zM665.62 53.13l1.7 3h-3.4zM671.66 54.01l1.7 3h-3.4zM677.7 53.15l1.7 3h-3.4z" fill="#d4484e"/><polyline points="502.54,54.18 508.58,54.5 514.62,55.71 520.66,54.52 526.7,54.66 532.74,55.03 538.78,54.69 544.82,54.47 550.86,53.73 556.9,54.71 562.94,54.08 568.98,53.5 575.02,53.17 581.06,53.9 587.1,54.65 593.14,54.11 599.18,54.3 605.22,54.4 611.26,53.73 617.3,54.28 623.34,55.76 629.38,55.57 635.42,56.29 641.46,55.2 647.5,54.84 653.54,55.14 659.58,54.98 665.62,54.41 671.66,54.5 677.7,53.84" fill="none" stroke="#6a78cc" stroke-width="1.1"/><path d="M502.54 52.38l1.7 3h-3.4zM508.58 52.7l1.7 3h-3.4zM514.62 53.91l1.7 3h-3.4zM520.66 52.72l1.7 3h-3.4zM526.7 52.86l1.7 3h-3.4zM532.74 53.23l1.7 3h-3.4zM538.78 52.89l1.7 3h-3.4zM544.82 52.67l1.7 3h-3.4zM550.86 51.93l1.7 3h-3.4zM556.9 52.91l1.7 3h-3.4zM562.94 52.28l1.7 3h-3.4zM568.98 51.7l1.7 3h-3.4zM575.02 51.37l1.7 3h-3.4zM581.06 52.1l1.7 3h-3.4zM587.1 52.85l1.7 3h-3.4zM593.14 52.31l1.7 3h-3.4zM599.18 52.5l1.7 3h-3.4zM605.22 52.6l1.7 3h-3.4zM611.26 51.93l1.7 3h-3.4zM617.3 52.48l1.7 3h-3.4zM623.34 53.96l1.7 3h-3.4zM629.38 53.77l1.7 3h-3.4zM635.42 54.49l1.7 3h-3.4zM641.46 53.4l1.7 3h-3.4zM647.5 53.04l1.7 3h-3.4zM653.54 53.34l1.7 3h-3.4zM659.58 53.18l1.7 3h-3.4zM665.62 52.61l1.7 3h-3.4zM671.66 52.7l1.7 3h-3.4zM677.7 52.04l1.7 3h-3.4z" fill="#4a5cc4"/><polyline points="502.54,54.14 508.58,53.54 514.62,52.92 520.66,52.48 526.7,53.51 532.74,53.25 538.78,54.66 544.82,55.05 550.86,55.78 556.9,54.51 562.94,55.04 568.98,54.68 575.02,54.56 581.06,54.39 587.1,54.61 593.14,54.28 599.18,53.2 605.22,53.54 611.26,53.46 617.3,53.15 623.34,53.65 629.38,54.54 635.42,54.68 641.46,53.84 647.5,54.88 653.54,54.91 659.58,54.02 665.62,53.6 671.66,53.8 677.7,53.47" fill="none" stroke="#78bce0" stroke-width="1.1"/><path d="M502.54 52.34l1.7 3h-3.4zM508.58 51.74l1.7 3h-3.4zM514.62 51.12l1.7 3h-3.4zM520.66 50.68l1.7 3h-3.4zM526.7 51.71l1.7 3h-3.4zM532.74 51.45l1.7 3h-3.4zM538.78 52.86l1.7 3h-3.4zM544.82 53.25l1.7 3h-3.4zM550.86 53.98l1.7 3h-3.4zM556.9 52.71l1.7 3h-3.4zM562.94 53.24l1.7 3h-3.4zM568.98 52.88l1.7 3h-3.4zM575.02 52.76l1.7 3h-3.4zM581.06 52.59l1.7 3h-3.4zM587.1 52.81l1.7 3h-3.4zM593.14 52.48l1.7 3h-3.4zM599.18 51.4l1.7 3h-3.4zM605.22 51.74l1.7 3h-3.4zM611.26 51.66l1.7 3h-3.4zM617.3 51.35l1.7 3h-3.4zM623.34 51.85l1.7 3h-3.4zM629.38 52.74l1.7 3h-3.4zM635.42 52.88l1.7 3h-3.4zM641.46 52.04l1.7 3h-3.4zM647.5 53.08l1.7 3h-3.4zM653.54 53.11l1.7 3h-3.4zM659.58 52.22l1.7 3h-3.4zM665.62 51.8l1.7 3h-3.4zM671.66 52l1.7 3h-3.4zM677.7 51.67l1.7 3h-3.4z" fill="#64b4dc"/><text x="545.5" y="28.4" text-anchor="end" style="font-family:'Liberation Serif',serif;font-size:8.2px;font-weight:bold" fill="#111">High</text><line x1="555.1" y1="26.9" x2="578.5" y2="26.9" stroke="#d8646a" stroke-width="1.2"/><path d="M566.8 24.7l2.1 3.8h-4.2z" fill="#d4484e"/><line x1="589.4" y1="26.9" x2="612.8" y2="26.9" stroke="#6a78cc" stroke-width="1.2"/><path d="M601.1 24.7l2.1 3.8h-4.2z" fill="#4a5cc4"/><line x1="623.7" y1="26.1" x2="647.1" y2="26.1" stroke="#78bce0" stroke-width="1.2"/><path d="M635.4 23.9l2.1 3.8h-4.2z" fill="#64b4dc"/><text x="545.5" y="38.4" text-anchor="end" style="font-family:'Liberation Serif',serif;font-size:8.2px;font-weight:bold" fill="#111">Mid</text><line x1="555.1" y1="36.4" x2="578.5" y2="36.4" stroke="#d8646a" stroke-width="1.2"/><path d="M564.9 36.4a1.9 1.9 0 1 0 3.8 0a1.9 1.9 0 1 0 -3.8 0z" fill="#d4484e"/><line x1="589.4" y1="36.4" x2="612.8" y2="36.4" stroke="#6a78cc" stroke-width="1.2"/><path d="M599.2 36.4a1.9 1.9 0 1 0 3.8 0a1.9 1.9 0 1 0 -3.8 0z" fill="#4a5cc4"/><line x1="623.7" y1="35.6" x2="647.1" y2="35.6" stroke="#78bce0" stroke-width="1.2"/><path d="M633.5 35.6a1.9 1.9 0 1 0 3.8 0a1.9 1.9 0 1 0 -3.8 0z" fill="#64b4dc"/><text x="545.5" y="47.9" text-anchor="end" style="font-family:'Liberation Serif',serif;font-size:8.2px;font-weight:bold" fill="#111">Low</text><line x1="555.1" y1="46" x2="578.5" y2="46" stroke="#d8646a" stroke-width="1.2"/><path d="M564.9 44.1h3.8v3.8h-3.8z" fill="#d4484e"/><line x1="589.4" y1="46" x2="612.8" y2="46" stroke="#6a78cc" stroke-width="1.2"/><path d="M599.2 44.1h3.8v3.8h-3.8z" fill="#4a5cc4"/><line x1="623.7" y1="45.2" x2="647.1" y2="45.2" stroke="#78bce0" stroke-width="1.2"/><path d="M633.5 43.3h3.8v3.8h-3.8z" fill="#64b4dc"/><text x="559.9" y="22.9" style="font-family:'Liberation Serif',serif;font-size:12px;font-weight:bold" fill="#111">0 1</text><text x="595.2" y="23.3" style="font-family:'Liberation Serif',serif;font-size:12px;font-weight:bold" fill="#111">1 0</text><text x="628.7" y="22.3" style="font-family:'Liberation Serif',serif;font-size:12px;font-weight:bold" fill="#111">0 0</text><text x="-0.2" y="206.5" style="font-family:'Liberation Sans',sans-serif;font-size:14px" fill="#1a1a1a">(c)</text><rect x="17.7" y="206.3" width="36.8" height="98.4" fill="none" stroke="#5b66c9" stroke-width="1.4"/><text x="36.4" y="217.7" text-anchor="middle" stroke="#4f5fc4" stroke-width="0.45" style="font-family:'Liberation Sans',sans-serif;font-size:10px;font-weight:bold" fill="#4f5fc4">X</text><rect x="21.6" y="222.6" width="29.3" height="16.8" rx="3.2" fill="none" stroke="#5a8fbb" stroke-width="1.5"/><text x="23.9" y="233.9" stroke="#111" stroke-width="0.15" style="font-family:'Liberation Sans',sans-serif;font-size:8.1px;font-weight:bold" fill="#111">x<tspan dy="1.6" style="font-size:5px">1</tspan><tspan dy="-1.6">=0.6</tspan></text><rect x="21.6" y="253.4" width="29.3" height="16.8" rx="3.2" fill="none" stroke="#5a8fbb" stroke-width="1.5"/><text x="23.9" y="264.7" stroke="#111" stroke-width="0.15" style="font-family:'Liberation Sans',sans-serif;font-size:8.1px;font-weight:bold" fill="#111">x<tspan dy="1.6" style="font-size:5px">2</tspan><tspan dy="-1.6">=0.4</tspan></text><rect x="21.6" y="284" width="29.3" height="16.4" rx="3.2" fill="none" stroke="#5a8fbb" stroke-width="1.5"/><text x="23.9" y="295.1" stroke="#111" stroke-width="0.15" style="font-family:'Liberation Sans',sans-serif;font-size:8.1px;font-weight:bold" fill="#111">x<tspan dy="1.6" style="font-size:5px">m</tspan><tspan dy="-1.6">=0.8</tspan></text><circle cx="42.7" cy="274" r="0.65" fill="#777"/><circle cx="42.7" cy="277.5" r="0.65" fill="#777"/><circle cx="42.7" cy="281" r="0.65" fill="#777"/><path d="M57.6 236.8H60.3V227.6H63V236.8H68.5V227.6H71.1V236.8H85.7V227.6H88.2V236.8H99.8" fill="none" stroke="#5a8fbb" stroke-width="1.5" stroke-linejoin="miter"/><path d="M56.2 267.8H67.4V257.7H70.5V267.8H84.4V257.7H87.5V267.8H98.4" fill="none" stroke="#5a8fbb" stroke-width="1.5" stroke-linejoin="miter"/><path d="M56.2 297.7H57.9V288.1H61.2V297.7H75.2V288.1H78.5V297.7H84.7V288.1H88.1V297.7H93.2V288.1H96.5V297.7H98.2" fill="none" stroke="#5a8fbb" stroke-width="1.5" stroke-linejoin="miter"/><line x1="105" y1="236.9" x2="113" y2="236.9" stroke="#5b95c5" stroke-width="1.5"/><path d="M116.6 236.9 l-4.4 -2.6 v5.2z" fill="#5b95c5"/><line x1="105" y1="267.1" x2="113" y2="267.1" stroke="#5b95c5" stroke-width="1.5"/><path d="M116.6 267.1 l-4.4 -2.6 v5.2z" fill="#5b95c5"/><line x1="105" y1="297.6" x2="113" y2="297.6" stroke="#5b95c5" stroke-width="1.5"/><path d="M116.6 297.6 l-4.4 -2.6 v5.2z" fill="#5b95c5"/><line x1="123.6" y1="221.3" x2="212.3" y2="221.3" stroke="#7a7a7a" stroke-width="1.1"/><line x1="123.6" y1="251.1" x2="212.3" y2="251.1" stroke="#7a7a7a" stroke-width="1.1"/><line x1="123.6" y1="281.7" x2="212.3" y2="281.7" stroke="#7a7a7a" stroke-width="1.1"/><line x1="120.2" y1="237.0" x2="208.7" y2="237.0" stroke="#86b5da" stroke-width="1.9"/><line x1="120.2" y1="267.3" x2="208.7" y2="267.3" stroke="#86b5da" stroke-width="1.9"/><line x1="120.2" y1="298.3" x2="208.7" y2="298.3" stroke="#86b5da" stroke-width="1.9"/><line x1="145.2" y1="214.5" x2="145.2" y2="314.8" stroke="#d8505f" stroke-width="1.1"/><line x1="169.7" y1="214.5" x2="169.7" y2="314.8" stroke="#d8505f" stroke-width="1.1"/><line x1="203.0" y1="214.5" x2="203.0" y2="314.8" stroke="#d8505f" stroke-width="1.1"/><path d="M132.7 221.3l0.9 1.4l-1.2 1.1l1.1 1.2l-0.8 1.0M132.7 226.8V237M133.5 226.5L134.76 228.28L137.38 227.72L138.19 230.28L140.81 229.72L141.62 232.28L144.24 231.72L145.5 233.5M157.3 221.3l0.9 1.4l-1.2 1.1l1.1 1.2l-0.8 1.0M157.3 226.8V237M158.1 226.5L159.34 228.28L161.96 227.72L162.74 230.28L165.36 229.72L166.14 232.28L168.76 231.72L170 233.5M190.6 221.3l0.9 1.4l-1.2 1.1l1.1 1.2l-0.8 1.0M190.6 226.8V237M191.4 226.5L192.64 228.28L195.26 227.72L196.04 230.28L198.66 229.72L199.44 232.28L202.06 231.72L203.3 233.5M132.7 251.1l0.9 1.4l-1.2 1.1l1.1 1.2l-0.8 1.0M132.7 256.6V267.3M133.5 256.3L134.74 258.13L137.41 257.68L138.17 260.28L140.83 259.82L141.59 262.42L144.26 261.97L145.5 263.8M157.3 251.1l0.9 1.4l-1.2 1.1l1.1 1.2l-0.8 1.0M157.3 256.6V267.3M158.1 256.3L159.32 258.13L161.98 257.68L162.72 260.28L165.38 259.82L166.12 262.42L168.78 261.97L170 263.8M190.6 251.1l0.9 1.4l-1.2 1.1l1.1 1.2l-0.8 1.0M190.6 256.6V267.3M191.4 256.3L192.62 258.13L195.28 257.68L196.02 260.28L198.68 259.82L199.42 262.42L202.08 261.97L203.3 263.8M132.7 281.7l0.9 1.4l-1.2 1.1l1.1 1.2l-0.8 1.0M132.7 287.2V298.3M133.5 286.9L134.72 288.78L137.42 288.41L138.15 291.04L140.85 290.66L141.58 293.29L144.28 292.92L145.5 294.8M157.3 281.7l0.9 1.4l-1.2 1.1l1.1 1.2l-0.8 1.0M157.3 287.2V298.3M158.1 286.9L159.3 288.78L162 288.41L162.7 291.04L165.4 290.66L166.1 293.29L168.8 292.92L170 294.8M190.6 281.7l0.9 1.4l-1.2 1.1l1.1 1.2l-0.8 1.0M190.6 287.2V298.3M191.4 286.9L192.6 288.78L195.3 288.41L196 291.04L198.7 290.66L199.4 293.29L202.1 292.92L203.3 294.8" fill="none" stroke="#222" stroke-width="0.9"/><path d="M131.2 221.3a1.5 1.5 0 1 0 3 0a1.5 1.5 0 1 0 -3 0zM131.2 237a1.5 1.5 0 1 0 3 0a1.5 1.5 0 1 0 -3 0zM144 233.5a1.5 1.5 0 1 0 3 0a1.5 1.5 0 1 0 -3 0zM155.8 221.3a1.5 1.5 0 1 0 3 0a1.5 1.5 0 1 0 -3 0zM155.8 237a1.5 1.5 0 1 0 3 0a1.5 1.5 0 1 0 -3 0zM168.5 233.5a1.5 1.5 0 1 0 3 0a1.5 1.5 0 1 0 -3 0zM189.1 221.3a1.5 1.5 0 1 0 3 0a1.5 1.5 0 1 0 -3 0zM189.1 237a1.5 1.5 0 1 0 3 0a1.5 1.5 0 1 0 -3 0zM201.8 233.5a1.5 1.5 0 1 0 3 0a1.5 1.5 0 1 0 -3 0zM131.2 251.1a1.5 1.5 0 1 0 3 0a1.5 1.5 0 1 0 -3 0zM131.2 267.3a1.5 1.5 0 1 0 3 0a1.5 1.5 0 1 0 -3 0zM144 263.8a1.5 1.5 0 1 0 3 0a1.5 1.5 0 1 0 -3 0zM155.8 251.1a1.5 1.5 0 1 0 3 0a1.5 1.5 0 1 0 -3 0zM155.8 267.3a1.5 1.5 0 1 0 3 0a1.5 1.5 0 1 0 -3 0zM168.5 263.8a1.5 1.5 0 1 0 3 0a1.5 1.5 0 1 0 -3 0zM189.1 251.1a1.5 1.5 0 1 0 3 0a1.5 1.5 0 1 0 -3 0zM189.1 267.3a1.5 1.5 0 1 0 3 0a1.5 1.5 0 1 0 -3 0zM201.8 263.8a1.5 1.5 0 1 0 3 0a1.5 1.5 0 1 0 -3 0zM131.2 281.7a1.5 1.5 0 1 0 3 0a1.5 1.5 0 1 0 -3 0zM131.2 298.3a1.5 1.5 0 1 0 3 0a1.5 1.5 0 1 0 -3 0zM144 294.8a1.5 1.5 0 1 0 3 0a1.5 1.5 0 1 0 -3 0zM155.8 281.7a1.5 1.5 0 1 0 3 0a1.5 1.5 0 1 0 -3 0zM155.8 298.3a1.5 1.5 0 1 0 3 0a1.5 1.5 0 1 0 -3 0zM168.5 294.8a1.5 1.5 0 1 0 3 0a1.5 1.5 0 1 0 -3 0zM189.1 281.7a1.5 1.5 0 1 0 3 0a1.5 1.5 0 1 0 -3 0zM189.1 298.3a1.5 1.5 0 1 0 3 0a1.5 1.5 0 1 0 -3 0zM201.8 294.8a1.5 1.5 0 1 0 3 0a1.5 1.5 0 1 0 -3 0z" fill="#111"/><text x="115.6" y="230.2" style="font-family:'Liberation Sans',sans-serif;font-size:9px" fill="#444">G<tspan dy="1.5" style="font-size:5.5px">1</tspan></text><text x="115.6" y="260.2" style="font-family:'Liberation Sans',sans-serif;font-size:9px" fill="#444">G<tspan dy="1.5" style="font-size:5.5px">2</tspan></text><text x="115.6" y="290.6" style="font-family:'Liberation Sans',sans-serif;font-size:9px" fill="#444">G<tspan dy="1.5" style="font-size:5.5px">m</tspan></text><text x="124.9" y="243.6" style="font-family:'Liberation Serif',serif;font-size:9.5px;font-style:italic" fill="#333">w<tspan dy="2" style="font-size:6.8px;font-style:normal">1,1</tspan></text><text x="152.8" y="243.6" style="font-family:'Liberation Serif',serif;font-size:9.5px;font-style:italic" fill="#333">w<tspan dy="2" style="font-size:6.8px;font-style:normal">1,2</tspan></text><text x="186.4" y="243.6" style="font-family:'Liberation Serif',serif;font-size:9.5px;font-style:italic" fill="#333">w<tspan dy="2" style="font-size:6.8px;font-style:normal">1,n</tspan></text><text x="124.9" y="273.9" style="font-family:'Liberation Serif',serif;font-size:9.5px;font-style:italic" fill="#333">w<tspan dy="2" style="font-size:6.8px;font-style:normal">2,1</tspan></text><text x="152.8" y="273.9" style="font-family:'Liberation Serif',serif;font-size:9.5px;font-style:italic" fill="#333">w<tspan dy="2" style="font-size:6.8px;font-style:normal">2,2</tspan></text><text x="186.4" y="273.9" style="font-family:'Liberation Serif',serif;font-size:9.5px;font-style:italic" fill="#333">w<tspan dy="2" style="font-size:6.8px;font-style:normal">2,n</tspan></text><text x="124.9" y="304.9" style="font-family:'Liberation Serif',serif;font-size:9.5px;font-style:italic" fill="#333">w<tspan dy="2" style="font-size:6.8px;font-style:normal">m,1</tspan></text><text x="152.8" y="304.9" style="font-family:'Liberation Serif',serif;font-size:9.5px;font-style:italic" fill="#333">w<tspan dy="2" style="font-size:6.8px;font-style:normal">m,2</tspan></text><text x="186.4" y="304.9" style="font-family:'Liberation Serif',serif;font-size:9.5px;font-style:italic" fill="#333">w<tspan dy="2" style="font-size:6.8px;font-style:normal">m,n</tspan></text><circle cx="176.6" cy="224.8" r="0.55" fill="#555"/><circle cx="180.4" cy="224.8" r="0.55" fill="#555"/><circle cx="184.2" cy="224.8" r="0.55" fill="#555"/><circle cx="176.6" cy="254.7" r="0.55" fill="#555"/><circle cx="180.4" cy="254.7" r="0.55" fill="#555"/><circle cx="184.2" cy="254.7" r="0.55" fill="#555"/><circle cx="176.6" cy="285.8" r="0.55" fill="#555"/><circle cx="180.4" cy="285.8" r="0.55" fill="#555"/><circle cx="184.2" cy="285.8" r="0.55" fill="#555"/><circle cx="142.6" cy="271.5" r="0.45" fill="#666"/><circle cx="142.6" cy="274.5" r="0.45" fill="#666"/><circle cx="142.6" cy="277.5" r="0.45" fill="#666"/><circle cx="168.2" cy="271.5" r="0.45" fill="#666"/><circle cx="168.2" cy="274.5" r="0.45" fill="#666"/><circle cx="168.2" cy="277.5" r="0.45" fill="#666"/><circle cx="200.2" cy="271.5" r="0.45" fill="#666"/><circle cx="200.2" cy="274.5" r="0.45" fill="#666"/><circle cx="200.2" cy="277.5" r="0.45" fill="#666"/><text x="147.1" y="309.6" style="font-family:'Liberation Sans',sans-serif;font-size:9px" fill="#333">D<tspan dy="1.6" style="font-size:5.5px">1</tspan></text><text x="172.1" y="309.6" style="font-family:'Liberation Sans',sans-serif;font-size:9px" fill="#333">D<tspan dy="1.6" style="font-size:5.5px">2</tspan></text><text x="204.9" y="309.6" style="font-family:'Liberation Sans',sans-serif;font-size:9px" fill="#333">D<tspan dy="1.6" style="font-size:5.5px">n</tspan></text><ellipse cx="132.4" cy="293" rx="14.6" ry="13.2" fill="none" stroke="#8a8a8a" stroke-width="1.6" stroke-dasharray="7 4.5" stroke-dashoffset="3"/><path d="M125 278.3 l-4.5 2.6 l4.5 2.2" fill="none" stroke="#888" stroke-width="1.1"/><line x1="117.5" y1="304" x2="99" y2="318.4" stroke="#777" stroke-width="1.1"/><path d="M97.6 319.6 l1.5 -4.8 M97.6 319.6 l4.9 -0.6" fill="none" stroke="#777" stroke-width="1.1"/><rect x="15.4" y="316.7" width="86.8" height="63.3" rx="8" fill="none" stroke="#707070" stroke-width="1.5" stroke-dasharray="5 3.6"/><text x="24.3" y="332.2" text-anchor="middle" style="font-family:'Liberation Serif',serif;font-size:8px" fill="#222">1</text><text x="33.3" y="332.2" text-anchor="middle" style="font-family:'Liberation Serif',serif;font-size:8px" fill="#222">0</text><text x="41.2" y="332.2" text-anchor="middle" style="font-family:'Liberation Serif',serif;font-size:8px" fill="#222">1</text><text x="50.7" y="332.2" text-anchor="middle" style="font-family:'Liberation Serif',serif;font-size:8px" fill="#222">1</text><text x="58.2" y="332.2" text-anchor="middle" style="font-family:'Liberation Serif',serif;font-size:8px" fill="#222">1</text><path d="M20.5 342.8H23V334.3H26.7V342.8H39.9V334.3H44V342.8H48.8V334.3H52.6V342.8H57.3V334.3H61.4V342.8H62.6" fill="none" stroke="#5a8fbb" stroke-width="1.4" stroke-linejoin="miter"/><text x="24.3" y="354.4" text-anchor="middle" style="font-family:'Liberation Serif',serif;font-size:8px" fill="#222">0</text><text x="32.8" y="354.4" text-anchor="middle" style="font-family:'Liberation Serif',serif;font-size:8px" fill="#222">1</text><text x="41.2" y="354.4" text-anchor="middle" style="font-family:'Liberation Serif',serif;font-size:8px" fill="#222">1</text><text x="49.7" y="354.4" text-anchor="middle" style="font-family:'Liberation Serif',serif;font-size:8px" fill="#222">0</text><text x="57.3" y="354.4" text-anchor="middle" style="font-family:'Liberation Serif',serif;font-size:8px" fill="#222">0</text><line x1="61.4" y1="347.8" x2="70" y2="347.8" stroke="#4a68c8" stroke-width="1"/><path d="M72.6 347.8 l-3.6 -2 v4z" fill="#4a68c8"/><path d="M19.9 366.3H30.9V360.7H34.3V366.3H38.4V360.7H42.2V366.3H62" fill="none" stroke="#e56a45" stroke-width="1.4"/><text x="34" y="376.7" style="font-family:'Liberation Sans',sans-serif;font-size:11.5px" fill="#5868d0">Set</text><text transform="translate(86.2,376.6) rotate(-90)" style="font-family:'Liberation Sans',sans-serif;font-size:13px;font-weight:bold"><tspan fill="#5060c8">P</tspan><tspan fill="#5060c8" dy="2.8" style="font-size:8.5px;font-weight:normal">set</tspan><tspan fill="#111" dy="-2.8"> = </tspan><tspan fill="#5aa8d8">x</tspan><tspan fill="#555">·</tspan><tspan fill="#cf4a55">δ</tspan></text><rect x="105" y="354" width="123.7" height="25.8" fill="none" stroke="#c84a5a" stroke-width="1.4"/><rect x="108.5" y="358" width="28.6" height="16.7" rx="3" fill="none" stroke="#e0603a" stroke-width="1.4"/><text x="110.7" y="369.3" stroke="#111" stroke-width="0.15" style="font-family:'Liberation Sans',sans-serif;font-size:8.2px;font-weight:bold" fill="#111">δ<tspan dy="1.6" style="font-size:5px">1</tspan><tspan dy="-1.6">=0.4</tspan></text><rect x="141.2" y="358" width="29.6" height="16.7" rx="3" fill="none" stroke="#e0603a" stroke-width="1.4"/><text x="143.4" y="369.3" stroke="#111" stroke-width="0.15" style="font-family:'Liberation Sans',sans-serif;font-size:8.2px;font-weight:bold" fill="#111">δ<tspan dy="1.6" style="font-size:5px">2</tspan><tspan dy="-1.6">=0.3</tspan></text><rect x="185.5" y="358" width="28.1" height="16.7" rx="3" fill="none" stroke="#e0603a" stroke-width="1.4"/><text x="187.7" y="369.3" stroke="#111" stroke-width="0.15" style="font-family:'Liberation Sans',sans-serif;font-size:8.2px;font-weight:bold" fill="#111">δ<tspan dy="1.6" style="font-size:5px">n</tspan><tspan dy="-1.6">=0.1</tspan></text><circle cx="174.6" cy="364.3" r="0.55" fill="#444"/><circle cx="177.8" cy="364.3" r="0.55" fill="#444"/><circle cx="181" cy="364.3" r="0.55" fill="#444"/><text x="215.4" y="369.9" style="font-family:'Liberation Sans',sans-serif;font-size:16px;font-weight:bold" fill="#c84a5a">δ</text><path d="M139.4 311.2V329.2H133.3V332.6H139.4V335.5H133.3V338.7H139.4V353.5" fill="none" stroke="#e5673f" stroke-width="1.4"/><path d="M165.2 311.2V321.4H158.9V324.3H165.2V338.2H158.9V341.6H165.2V353.5" fill="none" stroke="#e5673f" stroke-width="1.4"/><path d="M197.8 311.2V353.5" fill="none" stroke="#e5673f" stroke-width="1.4"/><line x1="146.1" y1="327.4" x2="146.1" y2="319.5" stroke="#e5673f" stroke-width="1.2"/><path d="M146.1 316.3 l-2.4 4 h4.8z" fill="#e5673f"/><line x1="170.8" y1="327.4" x2="170.8" y2="319.5" stroke="#e5673f" stroke-width="1.2"/><path d="M170.8 316.3 l-2.4 4 h4.8z" fill="#e5673f"/><line x1="203.9" y1="327.4" x2="203.9" y2="319.5" stroke="#e5673f" stroke-width="1.2"/><path d="M203.9 316.3 l-2.4 4 h4.8z" fill="#e5673f"/><text x="244.7" y="207.7" style="font-family:'Liberation Sans',sans-serif;font-size:14px" fill="#1a1a1a">(d)</text><path d="M283.82 357.1V344.83M296.58 357.1V344.83M298.41 357.1V344.83M300.23 357.1V344.83M302.05 357.1V344.83M305.7 357.1V344.83M307.52 357.1V344.83M309.35 357.1V344.83M311.17 357.1V344.83M320.28 357.1V344.83M322.11 357.1V344.83M325.75 357.1V344.83M327.57 357.1V344.83M331.22 357.1V344.83M334.87 357.1V344.83M336.69 357.1V344.83M338.51 357.1V344.83M345.81 357.1V344.83M347.63 357.1V344.83M349.45 357.1V344.83M353.1 357.1V344.83M354.92 357.1V344.83M365.86 357.1V344.83M369.5 357.1V344.83M373.15 357.1V344.83M374.97 357.1V344.83M376.8 357.1V344.83M382.26 357.1V344.83M384.09 357.1V344.83M385.91 357.1V344.83M395.03 357.1V344.83M396.85 357.1V344.83M400.5 357.1V344.83M402.32 357.1V344.83M411.43 357.1V344.83M413.26 357.1V344.83M415.08 357.1V344.83M416.9 357.1V344.83M418.73 357.1V344.83M420.55 357.1V344.83M429.66 357.1V344.83M431.49 357.1V344.83M435.13 357.1V344.83M436.95 357.1V344.83M444.25 357.1V344.83M446.07 357.1V344.83M447.89 357.1V344.83M451.54 357.1V344.83M453.36 357.1V344.83M455.19 357.1V344.83M460.65 357.1V344.83" stroke="#d9808a" stroke-width="1.1" fill="none"/><path d="M281.82 344.83a2 2 0 1 0 4 0a2 2 0 1 0 -4 0zM294.58 344.83a2 2 0 1 0 4 0a2 2 0 1 0 -4 0zM296.41 344.83a2 2 0 1 0 4 0a2 2 0 1 0 -4 0zM298.23 344.83a2 2 0 1 0 4 0a2 2 0 1 0 -4 0zM300.05 344.83a2 2 0 1 0 4 0a2 2 0 1 0 -4 0zM303.7 344.83a2 2 0 1 0 4 0a2 2 0 1 0 -4 0zM305.52 344.83a2 2 0 1 0 4 0a2 2 0 1 0 -4 0zM307.35 344.83a2 2 0 1 0 4 0a2 2 0 1 0 -4 0zM309.17 344.83a2 2 0 1 0 4 0a2 2 0 1 0 -4 0zM318.28 344.83a2 2 0 1 0 4 0a2 2 0 1 0 -4 0zM320.11 344.83a2 2 0 1 0 4 0a2 2 0 1 0 -4 0zM323.75 344.83a2 2 0 1 0 4 0a2 2 0 1 0 -4 0zM325.57 344.83a2 2 0 1 0 4 0a2 2 0 1 0 -4 0zM329.22 344.83a2 2 0 1 0 4 0a2 2 0 1 0 -4 0zM332.87 344.83a2 2 0 1 0 4 0a2 2 0 1 0 -4 0zM334.69 344.83a2 2 0 1 0 4 0a2 2 0 1 0 -4 0zM336.51 344.83a2 2 0 1 0 4 0a2 2 0 1 0 -4 0zM343.81 344.83a2 2 0 1 0 4 0a2 2 0 1 0 -4 0zM345.63 344.83a2 2 0 1 0 4 0a2 2 0 1 0 -4 0zM347.45 344.83a2 2 0 1 0 4 0a2 2 0 1 0 -4 0zM351.1 344.83a2 2 0 1 0 4 0a2 2 0 1 0 -4 0zM352.92 344.83a2 2 0 1 0 4 0a2 2 0 1 0 -4 0zM363.86 344.83a2 2 0 1 0 4 0a2 2 0 1 0 -4 0zM367.5 344.83a2 2 0 1 0 4 0a2 2 0 1 0 -4 0zM371.15 344.83a2 2 0 1 0 4 0a2 2 0 1 0 -4 0zM372.97 344.83a2 2 0 1 0 4 0a2 2 0 1 0 -4 0zM374.8 344.83a2 2 0 1 0 4 0a2 2 0 1 0 -4 0zM380.26 344.83a2 2 0 1 0 4 0a2 2 0 1 0 -4 0zM382.09 344.83a2 2 0 1 0 4 0a2 2 0 1 0 -4 0zM383.91 344.83a2 2 0 1 0 4 0a2 2 0 1 0 -4 0zM393.03 344.83a2 2 0 1 0 4 0a2 2 0 1 0 -4 0zM394.85 344.83a2 2 0 1 0 4 0a2 2 0 1 0 -4 0zM398.5 344.83a2 2 0 1 0 4 0a2 2 0 1 0 -4 0zM400.32 344.83a2 2 0 1 0 4 0a2 2 0 1 0 -4 0zM409.43 344.83a2 2 0 1 0 4 0a2 2 0 1 0 -4 0zM411.26 344.83a2 2 0 1 0 4 0a2 2 0 1 0 -4 0zM413.08 344.83a2 2 0 1 0 4 0a2 2 0 1 0 -4 0zM414.9 344.83a2 2 0 1 0 4 0a2 2 0 1 0 -4 0zM416.73 344.83a2 2 0 1 0 4 0a2 2 0 1 0 -4 0zM418.55 344.83a2 2 0 1 0 4 0a2 2 0 1 0 -4 0zM427.66 344.83a2 2 0 1 0 4 0a2 2 0 1 0 -4 0zM429.49 344.83a2 2 0 1 0 4 0a2 2 0 1 0 -4 0zM433.13 344.83a2 2 0 1 0 4 0a2 2 0 1 0 -4 0zM434.95 344.83a2 2 0 1 0 4 0a2 2 0 1 0 -4 0zM442.25 344.83a2 2 0 1 0 4 0a2 2 0 1 0 -4 0zM444.07 344.83a2 2 0 1 0 4 0a2 2 0 1 0 -4 0zM445.89 344.83a2 2 0 1 0 4 0a2 2 0 1 0 -4 0zM449.54 344.83a2 2 0 1 0 4 0a2 2 0 1 0 -4 0zM451.36 344.83a2 2 0 1 0 4 0a2 2 0 1 0 -4 0zM453.19 344.83a2 2 0 1 0 4 0a2 2 0 1 0 -4 0zM458.65 344.83a2 2 0 1 0 4 0a2 2 0 1 0 -4 0z" fill="#c9505c"/><path d="M303.88 357.1V344.83M318.46 357.1V344.83M329.4 357.1V344.83M333.04 357.1V344.83M342.16 357.1V344.83M343.98 357.1V344.83M351.27 357.1V344.83M378.62 357.1V344.83M389.56 357.1V344.83M391.38 357.1V344.83M404.14 357.1V344.83M405.96 357.1V344.83M457.01 357.1V344.83M458.83 357.1V344.83M462.48 357.1V344.83M464.3 357.1V344.83" stroke="#95d3e8" stroke-width="1.1" fill="none"/><path d="M301.88 344.83a2 2 0 1 0 4 0a2 2 0 1 0 -4 0zM316.46 344.83a2 2 0 1 0 4 0a2 2 0 1 0 -4 0zM327.4 344.83a2 2 0 1 0 4 0a2 2 0 1 0 -4 0zM331.04 344.83a2 2 0 1 0 4 0a2 2 0 1 0 -4 0zM340.16 344.83a2 2 0 1 0 4 0a2 2 0 1 0 -4 0zM341.98 344.83a2 2 0 1 0 4 0a2 2 0 1 0 -4 0zM349.27 344.83a2 2 0 1 0 4 0a2 2 0 1 0 -4 0zM376.62 344.83a2 2 0 1 0 4 0a2 2 0 1 0 -4 0zM387.56 344.83a2 2 0 1 0 4 0a2 2 0 1 0 -4 0zM389.38 344.83a2 2 0 1 0 4 0a2 2 0 1 0 -4 0zM402.14 344.83a2 2 0 1 0 4 0a2 2 0 1 0 -4 0zM403.96 344.83a2 2 0 1 0 4 0a2 2 0 1 0 -4 0zM455.01 344.83a2 2 0 1 0 4 0a2 2 0 1 0 -4 0zM456.83 344.83a2 2 0 1 0 4 0a2 2 0 1 0 -4 0zM460.48 344.83a2 2 0 1 0 4 0a2 2 0 1 0 -4 0zM462.3 344.83a2 2 0 1 0 4 0a2 2 0 1 0 -4 0z" fill="#7cc8e0"/><path d="M285.65 357.1V332.55M287.47 357.1V332.55M289.29 357.1V332.55M292.94 357.1V332.55M294.76 357.1V332.55M312.99 357.1V332.55M314.81 357.1V332.55M316.64 357.1V332.55M323.93 357.1V332.55M340.34 357.1V332.55M356.74 357.1V332.55M358.57 357.1V332.55M360.39 357.1V332.55M362.21 357.1V332.55M364.03 357.1V332.55M367.68 357.1V332.55M371.33 357.1V332.55M380.44 357.1V332.55M387.73 357.1V332.55M393.2 357.1V332.55M398.67 357.1V332.55M407.79 357.1V332.55M409.61 357.1V332.55M422.37 357.1V332.55M426.02 357.1V332.55M433.31 357.1V332.55M438.78 357.1V332.55M442.42 357.1V332.55M449.72 357.1V332.55" stroke="#9a78dc" stroke-width="1.1" fill="none"/><path d="M283.65 332.55a2 2 0 1 0 4 0a2 2 0 1 0 -4 0zM285.47 332.55a2 2 0 1 0 4 0a2 2 0 1 0 -4 0zM287.29 332.55a2 2 0 1 0 4 0a2 2 0 1 0 -4 0zM290.94 332.55a2 2 0 1 0 4 0a2 2 0 1 0 -4 0zM292.76 332.55a2 2 0 1 0 4 0a2 2 0 1 0 -4 0zM310.99 332.55a2 2 0 1 0 4 0a2 2 0 1 0 -4 0zM312.81 332.55a2 2 0 1 0 4 0a2 2 0 1 0 -4 0zM314.64 332.55a2 2 0 1 0 4 0a2 2 0 1 0 -4 0zM321.93 332.55a2 2 0 1 0 4 0a2 2 0 1 0 -4 0zM338.34 332.55a2 2 0 1 0 4 0a2 2 0 1 0 -4 0zM354.74 332.55a2 2 0 1 0 4 0a2 2 0 1 0 -4 0zM356.57 332.55a2 2 0 1 0 4 0a2 2 0 1 0 -4 0zM358.39 332.55a2 2 0 1 0 4 0a2 2 0 1 0 -4 0zM360.21 332.55a2 2 0 1 0 4 0a2 2 0 1 0 -4 0zM362.03 332.55a2 2 0 1 0 4 0a2 2 0 1 0 -4 0zM365.68 332.55a2 2 0 1 0 4 0a2 2 0 1 0 -4 0zM369.33 332.55a2 2 0 1 0 4 0a2 2 0 1 0 -4 0zM378.44 332.55a2 2 0 1 0 4 0a2 2 0 1 0 -4 0zM385.73 332.55a2 2 0 1 0 4 0a2 2 0 1 0 -4 0zM391.2 332.55a2 2 0 1 0 4 0a2 2 0 1 0 -4 0zM396.67 332.55a2 2 0 1 0 4 0a2 2 0 1 0 -4 0zM405.79 332.55a2 2 0 1 0 4 0a2 2 0 1 0 -4 0zM407.61 332.55a2 2 0 1 0 4 0a2 2 0 1 0 -4 0zM420.37 332.55a2 2 0 1 0 4 0a2 2 0 1 0 -4 0zM424.02 332.55a2 2 0 1 0 4 0a2 2 0 1 0 -4 0zM431.31 332.55a2 2 0 1 0 4 0a2 2 0 1 0 -4 0zM436.78 332.55a2 2 0 1 0 4 0a2 2 0 1 0 -4 0zM440.42 332.55a2 2 0 1 0 4 0a2 2 0 1 0 -4 0zM447.72 332.55a2 2 0 1 0 4 0a2 2 0 1 0 -4 0z" fill="#7c52d0"/><line x1="282" y1="357.1" x2="466" y2="245.6" stroke="#111" stroke-width="1.5" stroke-dasharray="3.6 2.6"/><polyline points="282.5,357.1 284,351 285.1,344.4 286.5,337.4 287.5,330 289.3,324 290.5,322.3 292.8,315.3 295.1,311.9 298.6,312.3 302.1,311.4 304.4,312.3 306.7,309.5 310.2,308.4 312.6,309.1 314.9,304.9 316.7,294.4 318.4,293.3 320,299.8 321.9,296.7 324.2,284 326.5,282.1 330,281.6 333.5,280.9 335.8,281.6 338.1,283.5 340,283.1 341.9,287 343.2,285.1 345.2,284.2 347.8,285.1 350.3,283.8 352.9,283.1 354.5,282.8 356.6,290.5 358.8,275 360.4,279.3 361.7,278.4 363.9,282.5 365.9,285.3 367.4,263.8 369.5,261.6 371,265.7 373.4,269.8 374.9,267 376.9,266.3 378.5,266.3 380.1,259.2 382,255.1 384,257.9 385.9,261.2 387.8,259.9 389.8,259.2 391.7,259.9 393,275.4 395,274.7 397.5,276.7 400,275.8 401.9,277.6 405.2,279.8 406.3,278.7 407.8,249.1 409.1,266.6 410.7,263.8 414,264.5 417.3,264.5 419.5,262.3 421.6,255.7 423.8,252.8 426,249.1 429.3,249.1 431.5,254.6 433.1,239.2 434.8,232.1 437,235.9 439.2,245.8 441.4,244.7 444.7,239.6 449.1,239.6 452.4,239.2 454.6,237 456.8,233.7 459,234.8 461.2,234.3 463.4,234.8 466.5,234.6" fill="none" stroke="#7e55d6" stroke-width="1.3" stroke-linejoin="round"/><rect x="281" y="209.8" width="186.5" height="147.3" fill="none" stroke="#111" stroke-width="1.3"/><line x1="281" y1="357.1" x2="283.8" y2="357.1" stroke="#111" stroke-width="1.1"/><line x1="467.5" y1="357.1" x2="464.7" y2="357.1" stroke="#111" stroke-width="1.1"/><text x="277.7" y="361.1" text-anchor="end" style="font-family:'Liberation Serif',serif;font-size:10.4px;font-weight:bold" fill="#111">0</text><line x1="281" y1="332.55" x2="283.8" y2="332.55" stroke="#111" stroke-width="1.1"/><line x1="467.5" y1="332.55" x2="464.7" y2="332.55" stroke="#111" stroke-width="1.1"/><text x="277.7" y="336.55" text-anchor="end" style="font-family:'Liberation Serif',serif;font-size:10.4px;font-weight:bold" fill="#111">10</text><line x1="281" y1="308" x2="283.8" y2="308" stroke="#111" stroke-width="1.1"/><line x1="467.5" y1="308" x2="464.7" y2="308" stroke="#111" stroke-width="1.1"/><text x="277.7" y="312" text-anchor="end" style="font-family:'Liberation Serif',serif;font-size:10.4px;font-weight:bold" fill="#111">20</text><line x1="281" y1="283.45" x2="283.8" y2="283.45" stroke="#111" stroke-width="1.1"/><line x1="467.5" y1="283.45" x2="464.7" y2="283.45" stroke="#111" stroke-width="1.1"/><text x="277.7" y="287.45" text-anchor="end" style="font-family:'Liberation Serif',serif;font-size:10.4px;font-weight:bold" fill="#111">30</text><line x1="281" y1="258.9" x2="283.8" y2="258.9" stroke="#111" stroke-width="1.1"/><line x1="467.5" y1="258.9" x2="464.7" y2="258.9" stroke="#111" stroke-width="1.1"/><text x="277.7" y="262.9" text-anchor="end" style="font-family:'Liberation Serif',serif;font-size:10.4px;font-weight:bold" fill="#111">40</text><line x1="281" y1="234.35" x2="283.8" y2="234.35" stroke="#111" stroke-width="1.1"/><line x1="467.5" y1="234.35" x2="464.7" y2="234.35" stroke="#111" stroke-width="1.1"/><text x="277.7" y="238.35" text-anchor="end" style="font-family:'Liberation Serif',serif;font-size:10.4px;font-weight:bold" fill="#111">50</text><line x1="281" y1="209.8" x2="283.8" y2="209.8" stroke="#111" stroke-width="1.1"/><line x1="467.5" y1="209.8" x2="464.7" y2="209.8" stroke="#111" stroke-width="1.1"/><text x="277.7" y="213.8" text-anchor="end" style="font-family:'Liberation Serif',serif;font-size:10.4px;font-weight:bold" fill="#111">60</text><line x1="282" y1="357.1" x2="282" y2="354.3" stroke="#111" stroke-width="1.1"/><line x1="282" y1="209.8" x2="282" y2="212.60000000000002" stroke="#111" stroke-width="1.1"/><text x="282" y="370.6" text-anchor="middle" style="font-family:'Liberation Serif',serif;font-size:10px;font-weight:bold" fill="#111">0</text><line x1="318.46" y1="357.1" x2="318.46" y2="354.3" stroke="#111" stroke-width="1.1"/><line x1="318.46" y1="209.8" x2="318.46" y2="212.60000000000002" stroke="#111" stroke-width="1.1"/><text x="318.46" y="370.6" text-anchor="middle" style="font-family:'Liberation Serif',serif;font-size:10px;font-weight:bold" fill="#111">20</text><line x1="354.92" y1="357.1" x2="354.92" y2="354.3" stroke="#111" stroke-width="1.1"/><line x1="354.92" y1="209.8" x2="354.92" y2="212.60000000000002" stroke="#111" stroke-width="1.1"/><text x="354.92" y="370.6" text-anchor="middle" style="font-family:'Liberation Serif',serif;font-size:10px;font-weight:bold" fill="#111">40</text><line x1="391.38" y1="357.1" x2="391.38" y2="354.3" stroke="#111" stroke-width="1.1"/><line x1="391.38" y1="209.8" x2="391.38" y2="212.60000000000002" stroke="#111" stroke-width="1.1"/><text x="391.38" y="370.6" text-anchor="middle" style="font-family:'Liberation Serif',serif;font-size:10px;font-weight:bold" fill="#111">60</text><line x1="427.84" y1="357.1" x2="427.84" y2="354.3" stroke="#111" stroke-width="1.1"/><line x1="427.84" y1="209.8" x2="427.84" y2="212.60000000000002" stroke="#111" stroke-width="1.1"/><text x="427.84" y="370.6" text-anchor="middle" style="font-family:'Liberation Serif',serif;font-size:10px;font-weight:bold" fill="#111">80</text><line x1="464.3" y1="357.1" x2="464.3" y2="354.3" stroke="#111" stroke-width="1.1"/><line x1="464.3" y1="209.8" x2="464.3" y2="212.60000000000002" stroke="#111" stroke-width="1.1"/><text x="464.3" y="370.6" text-anchor="middle" style="font-family:'Liberation Serif',serif;font-size:10px;font-weight:bold" fill="#111">100</text><rect x="292.2" y="221.3" width="70.4" height="51" fill="#fff" stroke="#222" stroke-width="0.9"/><line x1="294.2" y1="228" x2="306.4" y2="228" stroke="#8ccde4" stroke-width="1.2"/><circle cx="303.6" cy="228" r="2.1" fill="#7cc8e0"/><line x1="294.2" y1="239.2" x2="306.4" y2="239.2" stroke="#e0a0a6" stroke-width="1.2"/><circle cx="303.6" cy="239.2" r="2.1" fill="#c8505a"/><line x1="294.2" y1="250.8" x2="306.4" y2="250.8" stroke="#9a78dc" stroke-width="1.2"/><circle cx="303.6" cy="250.8" r="2.1" fill="#7c52d0"/><line x1="294.2" y1="262.9" x2="306.4" y2="262.9" stroke="#7e55d6" stroke-width="1.2"/><text x="309.3" y="231.1" style="font-family:'Liberation Serif',serif;font-size:9.5px;font-weight:bold" fill="#111">P(x)=0.4</text><text x="309.3" y="242.3" style="font-family:'Liberation Serif',serif;font-size:9.5px;font-weight:bold" fill="#111">P(<tspan style="font-style:italic">δ</tspan>)=0.7</text><text x="309.3" y="253.9" style="font-family:'Liberation Serif',serif;font-size:9.5px;font-weight:bold" fill="#111">P(x)*P(<tspan style="font-style:italic">δ</tspan>)</text><text x="309.3" y="265.8" style="font-family:'Liberation Serif',serif;font-size:9.5px;font-weight:bold" fill="#111">G<tspan dy="3.3" style="font-size:7.4px">Accumulated</tspan></text><text transform="translate(256.1,282) rotate(-90)" text-anchor="middle" style="font-family:'Liberation Serif',serif;font-size:12.9px;font-weight:bold" fill="#111">Conductance(<tspan style="font-style:italic">μ</tspan> S)</text><text x="355.5" y="384.2" style="font-family:'Liberation Serif',serif;font-size:12.5px;font-weight:bold" fill="#111">Pulse(#)</text><text x="474.2" y="206.7" style="font-family:'Liberation Sans',sans-serif;font-size:14px" fill="#1a1a1a">(e)</text><path d="M507.01 345.08L506.62 213.53M525.63 340.45L525.59 216.34M542.28 336.32L542.51 218.85M557.24 332.6L557.7 221.11M570.77 329.25L571.4 223.14M501.97 339.5L583.09 321M501.91 321.67L583.19 307.44M501.84 303.74L583.3 293.83M501.78 285.73L583.4 280.17M501.71 267.63L583.51 266.45M501.64 249.44L583.62 252.68M501.58 231.15L583.72 238.86M590.73 327.33L591.63 224.44M598.66 328.51L599.69 223.87M606.86 329.72L608.04 223.29M615.35 330.97L616.68 222.68M624.14 332.27L625.63 222.05M633.25 333.62L634.91 221.4M642.7 335.02L644.53 220.73M652.49 336.47L654.52 220.03M662.66 337.97L664.9 219.3M673.23 339.53L675.69 218.54M583.09 321L678.8 334.09M583.19 307.44L679.14 317.75M583.3 293.83L679.49 301.34M583.4 280.17L679.84 284.86M583.51 266.45L680.19 268.3M583.62 252.68L680.54 251.66M583.72 238.86L680.89 234.94M510.39 348.26L590.73 327.33M519.15 350.3L598.66 328.51M528.32 352.42L606.86 329.72M537.91 354.64L615.35 330.97M547.97 356.97L624.14 332.27M558.52 359.42L633.25 333.62M569.6 361.99L642.7 335.02M581.26 364.69L652.49 336.47M593.53 367.53L662.66 337.97M606.48 370.53L673.23 339.53M507.01 345.08L617.53 370.01M525.63 340.45L633.23 362.39M542.28 336.32L646.85 355.78M557.24 332.6L658.77 349.99M570.77 329.25L669.3 344.88" fill="none" stroke="#d4d4d4" stroke-width="0.8"/><path d="M501.51 212.77L583.83 224.98L681.25 218.15L678.66 340.34" fill="none" stroke="#9a9a9a" stroke-width="0.8"/><path d="M583.05 326.2L583.83 224.98" fill="none" stroke="#777" stroke-width="1"/><path d="M583.05 326.2L678.66 340.34" fill="none" stroke="#555" stroke-width="0.8"/><path d="M501.51 212.77L502 346.32L613.22 372.1L678.66 340.34" fill="none" stroke="#222" stroke-width="1.1"/><path d="M502 346.32L504.65 345.66M510.39 348.26L513.03 347.58M519.15 350.3L521.78 349.58M528.32 352.42L530.92 351.67M537.91 354.64L540.5 353.85M547.97 356.97L550.53 356.14M558.52 359.42L561.04 358.55M569.6 361.99L572.09 361.07M581.26 364.69L583.7 363.72M593.53 367.53L595.92 366.51M606.48 370.53L608.8 369.46M617.53 370.01L614 369.21M633.23 362.39L629.85 361.7M646.85 355.78L643.61 355.17M658.77 349.99L655.66 349.46M669.3 344.88L666.32 344.41M678.66 340.34L675.8 339.91M501.97 339.5h2.5M501.91 321.67h2.5M501.84 303.74h2.5M501.78 285.73h2.5M501.71 267.63h2.5M501.64 249.44h2.5M501.58 231.15h2.5M501.51 212.77h2.5" fill="none" stroke="#222" stroke-width="0.9"/><text x="499.47" y="342.6" text-anchor="end" style="font-family:'Liberation Serif',serif;font-size:9px;font-weight:bold" fill="#111">0</text><text x="499.41" y="324.77" text-anchor="end" style="font-family:'Liberation Serif',serif;font-size:9px;font-weight:bold" fill="#111">5</text><text x="499.34" y="306.84" text-anchor="end" style="font-family:'Liberation Serif',serif;font-size:9px;font-weight:bold" fill="#111">10</text><text x="499.28" y="288.83" text-anchor="end" style="font-family:'Liberation Serif',serif;font-size:9px;font-weight:bold" fill="#111">15</text><text x="499.21" y="270.73" text-anchor="end" style="font-family:'Liberation Serif',serif;font-size:9px;font-weight:bold" fill="#111">20</text><text x="499.14" y="252.54" text-anchor="end" style="font-family:'Liberation Serif',serif;font-size:9px;font-weight:bold" fill="#111">25</text><text x="499.08" y="234.25" text-anchor="end" style="font-family:'Liberation Serif',serif;font-size:9px;font-weight:bold" fill="#111">30</text><text x="499.01" y="215.87" text-anchor="end" style="font-family:'Liberation Serif',serif;font-size:9px;font-weight:bold" fill="#111">35</text><text transform="translate(502.3,353.8) rotate(10)" text-anchor="middle" style="font-family:'Liberation Serif',serif;font-size:7.4px;font-weight:bold" fill="#111">0.0</text><text transform="translate(510.5,355.7) rotate(10)" text-anchor="middle" style="font-family:'Liberation Serif',serif;font-size:7.4px;font-weight:bold" fill="#111">0.1</text><text transform="translate(518.7,357.8) rotate(10)" text-anchor="middle" style="font-family:'Liberation Serif',serif;font-size:7.4px;font-weight:bold" fill="#111">0.2</text><text transform="translate(527.8,360.6) rotate(10)" text-anchor="middle" style="font-family:'Liberation Serif',serif;font-size:7.4px;font-weight:bold" fill="#111">0.3</text><text transform="translate(537.9,363) rotate(10)" text-anchor="middle" style="font-family:'Liberation Serif',serif;font-size:7.4px;font-weight:bold" fill="#111">0.4</text><text transform="translate(547.9,365.7) rotate(10)" text-anchor="middle" style="font-family:'Liberation Serif',serif;font-size:7.4px;font-weight:bold" fill="#111">0.5</text><text transform="translate(558,367.9) rotate(10)" text-anchor="middle" style="font-family:'Liberation Serif',serif;font-size:7.4px;font-weight:bold" fill="#111">0.6</text><text transform="translate(568,371) rotate(10)" text-anchor="middle" style="font-family:'Liberation Serif',serif;font-size:7.4px;font-weight:bold" fill="#111">0.7</text><text transform="translate(580.8,374.3) rotate(10)" text-anchor="middle" style="font-family:'Liberation Serif',serif;font-size:7.4px;font-weight:bold" fill="#111">0.8</text><text transform="translate(593.5,377.9) rotate(10)" text-anchor="middle" style="font-family:'Liberation Serif',serif;font-size:7.4px;font-weight:bold" fill="#111">0.9</text><text transform="translate(606.3,381.2) rotate(10)" text-anchor="middle" style="font-family:'Liberation Serif',serif;font-size:7.4px;font-weight:bold" fill="#111">1.0</text><text transform="translate(618,381.3) rotate(-6)" text-anchor="middle" style="font-family:'Liberation Serif',serif;font-size:7.4px;font-weight:bold" fill="#111">0.0</text><text transform="translate(633.8,373.7) rotate(-6)" text-anchor="middle" style="font-family:'Liberation Serif',serif;font-size:7.4px;font-weight:bold" fill="#111">0.2</text><text transform="translate(647.3,366.8) rotate(-6)" text-anchor="middle" style="font-family:'Liberation Serif',serif;font-size:7.4px;font-weight:bold" fill="#111">0.4</text><text transform="translate(658.5,360) rotate(-6)" text-anchor="middle" style="font-family:'Liberation Serif',serif;font-size:7.4px;font-weight:bold" fill="#111">0.6</text><text transform="translate(668.6,354) rotate(-6)" text-anchor="middle" style="font-family:'Liberation Serif',serif;font-size:7.4px;font-weight:bold" fill="#111">0.8</text><text transform="translate(678,348.3) rotate(-6)" text-anchor="middle" style="font-family:'Liberation Serif',serif;font-size:7.4px;font-weight:bold" fill="#111">1.0</text><text x="544.7" y="377.6" text-anchor="middle" style="font-family:'Liberation Serif',serif;font-size:14px;font-weight:bold" fill="#111">δ</text><text x="663.7" y="372" text-anchor="middle" style="font-family:'Liberation Serif',serif;font-size:14px;font-weight:bold" fill="#111">x</text><text transform="translate(487.6,278.6) rotate(-90)" text-anchor="middle" style="font-family:'Liberation Serif',serif;font-size:10.8px;font-weight:bold" fill="#111">Conductance(μS)</text><path d="M524.91 338.11L542.53 335.01L533.59 342.62ZM524.91 338.11L533.91 334.55L542.53 335.01ZM533.91 334.55L550.98 326.81L542.53 335.01ZM533.91 334.55L542.41 330.52L550.98 326.81ZM542.41 330.52L558.95 323.31L550.98 326.81ZM542.41 330.52L550.47 322.56L558.95 323.31ZM550.47 322.56L566.5 319.36L558.95 323.31ZM550.47 322.56L558.09 319.99L566.5 319.36ZM558.09 319.99L566.5 319.36L573.63 319.33ZM558.09 319.99L573.63 319.33L565.31 319.99ZM565.31 319.99L580.45 311.45L573.63 319.33ZM565.31 319.99L572.19 315.54L580.45 311.45ZM572.19 315.54L586.92 307.49L580.45 311.45ZM572.19 315.54L578.74 311.31L586.92 307.49ZM578.74 311.31L593.07 304.01L586.92 307.49ZM578.74 311.31L593.07 304.01L584.97 308.69ZM584.97 308.69L598.94 299.85L593.07 304.01ZM584.97 308.69L598.94 299.85L590.91 306.75ZM533.59 342.62L551.54 330.2L542.66 343.7ZM533.59 342.62L542.53 335.01L551.54 330.2ZM542.53 335.01L559.9 325.35L551.54 330.2ZM542.53 335.01L550.98 326.81L559.9 325.35ZM550.98 326.81L559.9 325.35L567.76 324.76ZM550.98 326.81L558.95 323.31L567.76 324.76ZM558.95 323.31L575.23 319.99L567.76 324.76ZM558.95 323.31L566.5 319.36L575.23 319.99ZM566.5 319.36L582.33 311.05L575.23 319.99ZM566.5 319.36L582.33 311.05L573.63 319.33ZM573.63 319.33L582.33 311.05L589.04 306.26ZM573.63 319.33L580.45 311.45L589.04 306.26ZM580.45 311.45L595.42 301.71L589.04 306.26ZM580.45 311.45L595.42 301.71L586.92 307.49ZM586.92 307.49L601.49 297.38L595.42 301.71ZM586.92 307.49L601.49 297.38L593.07 304.01ZM593.07 304.01L607.28 292.11L601.49 297.38ZM593.07 304.01L607.28 292.11L598.94 299.85ZM542.66 343.7L560.93 330.59L552.13 342.97ZM542.66 343.7L551.54 330.2L560.93 330.59ZM551.54 330.2L569.18 327.32L560.93 330.59ZM551.54 330.2L559.9 325.35L569.18 327.32ZM559.9 325.35L576.97 322.53L569.18 327.32ZM559.9 325.35L576.97 322.53L567.76 324.76ZM567.76 324.76L584.38 311.38L576.97 322.53ZM567.76 324.76L584.38 311.38L575.23 319.99ZM575.23 319.99L584.38 311.38L591.36 305.99ZM575.23 319.99L582.33 311.05L591.36 305.99ZM582.33 311.05L597.98 300.25L591.36 305.99ZM582.33 311.05L589.04 306.26L597.98 300.25ZM589.04 306.26L604.25 295.41L597.98 300.25ZM589.04 306.26L604.25 295.41L595.42 301.71ZM595.42 301.71L610.23 290.21L604.25 295.41ZM595.42 301.71L610.23 290.21L601.49 297.38ZM601.49 297.38L615.92 284.68L610.23 290.21ZM601.49 297.38L607.28 292.11L615.92 284.68ZM552.13 342.97L570.73 333.94L562.07 339.56ZM552.13 342.97L560.93 330.59L570.73 333.94ZM560.93 330.59L578.91 322.22L570.73 333.94ZM560.93 330.59L578.91 322.22L569.18 327.32ZM569.18 327.32L586.62 314.29L578.91 322.22ZM569.18 327.32L586.62 314.29L576.97 322.53ZM576.97 322.53L593.88 307.49L586.62 314.29ZM576.97 322.53L584.38 311.38L593.88 307.49ZM584.38 311.38L600.73 303.69L593.88 307.49ZM584.38 311.38L591.36 305.99L600.73 303.69ZM591.36 305.99L607.26 294.95L600.73 303.69ZM591.36 305.99L597.98 300.25L607.26 294.95ZM597.98 300.25L613.44 288.85L607.26 294.95ZM597.98 300.25L604.25 295.41L613.44 288.85ZM604.25 295.41L619.29 284.29L613.44 288.85ZM604.25 295.41L610.23 290.21L619.29 284.29ZM610.23 290.21L619.29 284.29L624.83 281.73ZM610.23 290.21L615.92 284.68L624.83 281.73ZM562.07 339.56L581.04 327.27L572.45 340.26ZM562.07 339.56L570.73 333.94L581.04 327.27ZM570.73 333.94L589.08 318.35L581.04 327.27ZM570.73 333.94L578.91 322.22L589.08 318.35ZM578.91 322.22L596.66 309.95L589.08 318.35ZM578.91 322.22L586.62 314.29L596.66 309.95ZM586.62 314.29L603.77 305.84L596.66 309.95ZM586.62 314.29L593.88 307.49L603.77 305.84ZM593.88 307.49L610.5 299.94L603.77 305.84ZM593.88 307.49L600.73 303.69L610.5 299.94ZM600.73 303.69L616.94 288.45L610.5 299.94ZM600.73 303.69L607.26 294.95L616.94 288.45ZM607.26 294.95L616.94 288.45L622.95 284.91ZM607.26 294.95L613.44 288.85L622.95 284.91ZM613.44 288.85L628.69 279.07L622.95 284.91ZM613.44 288.85L619.29 284.29L628.69 279.07ZM619.29 284.29L634.14 273.21L628.69 279.07ZM619.29 284.29L634.14 273.21L624.83 281.73ZM572.45 340.26L591.79 327.23L583.33 342.58ZM572.45 340.26L581.04 327.27L591.79 327.23ZM581.04 327.27L599.71 316.18L591.79 327.23ZM581.04 327.27L589.08 318.35L599.71 316.18ZM589.08 318.35L607.14 307.6L599.71 316.18ZM589.08 318.35L596.66 309.95L607.14 307.6ZM596.66 309.95L614.08 304.48L607.14 307.6ZM596.66 309.95L603.77 305.84L614.08 304.48ZM603.77 305.84L620.72 293.28L614.08 304.48ZM603.77 305.84L610.5 299.94L620.72 293.28ZM610.5 299.94L626.97 286.04L620.72 293.28ZM610.5 299.94L616.94 288.45L626.97 286.04ZM616.94 288.45L632.89 278.2L626.97 286.04ZM616.94 288.45L632.89 278.2L622.95 284.91ZM622.95 284.91L638.51 270.77L632.89 278.2ZM622.95 284.91L628.69 279.07L638.51 270.77ZM628.69 279.07L643.85 263.1L638.51 270.77ZM628.69 279.07L634.14 273.21L643.85 263.1ZM583.33 342.58L603.01 331.93L594.75 343.79ZM583.33 342.58L591.79 327.23L603.01 331.93ZM591.79 327.23L610.83 313.91L603.01 331.93ZM591.79 327.23L599.71 316.18L610.83 313.91ZM599.71 316.18L618.11 303.66L610.83 313.91ZM599.71 316.18L607.14 307.6L618.11 303.66ZM607.14 307.6L624.95 294.74L618.11 303.66ZM607.14 307.6L624.95 294.74L614.08 304.48ZM614.08 304.48L631.37 288.44L624.95 294.74ZM614.08 304.48L620.72 293.28L631.37 288.44ZM620.72 293.28L637.54 274.96L631.37 288.44ZM620.72 293.28L626.97 286.04L637.54 274.96ZM626.97 286.04L643.36 264.2L637.54 274.96ZM626.97 286.04L643.36 264.2L632.89 278.2ZM632.89 278.2L643.36 264.2L648.74 261.81ZM632.89 278.2L638.51 270.77L648.74 261.81ZM638.51 270.77L653.92 254.48L648.74 261.81ZM638.51 270.77L643.85 263.1L653.92 254.48ZM594.75 343.79L614.9 325.52L606.77 342.56ZM594.75 343.79L603.01 331.93L614.9 325.52ZM603.01 331.93L622.49 311.52L614.9 325.52ZM603.01 331.93L610.83 313.91L622.49 311.52ZM610.83 313.91L629.59 300.29L622.49 311.52ZM610.83 313.91L618.11 303.66L629.59 300.29ZM618.11 303.66L636.21 293.43L629.59 300.29ZM618.11 303.66L624.95 294.74L636.21 293.43ZM624.95 294.74L642.6 276.53L636.21 293.43ZM624.95 294.74L642.6 276.53L631.37 288.44ZM631.37 288.44L648.56 265.48L642.6 276.53ZM631.37 288.44L637.54 274.96L648.56 265.48ZM637.54 274.96L654.1 260.51L648.56 265.48ZM637.54 274.96L643.36 264.2L654.1 260.51ZM643.36 264.2L659.39 253.14L654.1 260.51ZM643.36 264.2L659.39 253.14L648.74 261.81ZM648.74 261.81L664.43 244.21L659.39 253.14ZM648.74 261.81L653.92 254.48L664.43 244.21ZM606.77 342.56L627.3 327.51L619.41 343.41ZM606.77 342.56L614.9 325.52L627.3 327.51ZM614.9 325.52L634.67 313.05L627.3 327.51ZM614.9 325.52L622.49 311.52L634.67 313.05ZM622.49 311.52L641.59 299.1L634.67 313.05ZM622.49 311.52L629.59 300.29L641.59 299.1ZM629.59 300.29L648.09 286L641.59 299.1ZM629.59 300.29L636.21 293.43L648.09 286ZM636.21 293.43L654.19 274.41L648.09 286ZM636.21 293.43L642.6 276.53L654.19 274.41ZM642.6 276.53L659.88 266.71L654.19 274.41ZM642.6 276.53L648.56 265.48L659.88 266.71ZM648.56 265.48L665.19 262.94L659.88 266.71ZM648.56 265.48L654.1 260.51L665.19 262.94ZM654.1 260.51L670.5 244.09L665.19 262.94ZM654.1 260.51L659.39 253.14L670.5 244.09ZM659.39 253.14L675.43 231.18L670.5 244.09ZM659.39 253.14L664.43 244.21L675.43 231.18Z" fill="#8cc6ea" stroke="#8cc6ea" stroke-width="0.4" opacity="0.9"/><clipPath id="rclip"><path d="M524.91 336.72L542.54 332.94L533.6 337.29ZM524.91 336.72L533.91 333.53L542.54 332.94ZM533.91 333.53L550.97 328.83L542.54 332.94ZM533.91 333.53L542.41 330.52L550.97 328.83ZM542.41 330.52L558.94 324.94L550.97 328.83ZM542.41 330.52L550.45 327.68L558.94 324.94ZM550.45 327.68L566.49 321.26L558.94 324.94ZM550.45 327.68L566.49 321.26L558.07 324.98ZM558.07 324.98L573.64 317.78L566.49 321.26ZM558.07 324.98L573.64 317.78L565.3 322.42ZM565.3 322.42L573.64 317.78L580.43 314.47ZM565.3 322.42L580.43 314.47L572.16 319.99ZM572.16 319.99L580.43 314.47L586.89 311.32ZM572.16 319.99L586.89 311.32L578.7 317.68ZM578.7 317.68L586.89 311.32L593.03 308.33ZM578.7 317.68L593.03 308.33L584.92 315.48ZM584.92 315.48L593.03 308.33L598.89 305.47ZM584.92 315.48L598.89 305.47L590.85 313.38ZM533.6 337.29L551.53 332.32L542.67 337.9ZM533.6 337.29L542.54 332.94L551.53 332.32ZM542.54 332.94L559.89 327.06L551.53 332.32ZM542.54 332.94L550.97 328.83L559.89 327.06ZM550.97 328.83L567.78 322.1L559.89 327.06ZM550.97 328.83L558.94 324.94L567.78 322.1ZM558.94 324.94L575.24 317.4L567.78 322.1ZM558.94 324.94L566.49 321.26L575.24 317.4ZM566.49 321.26L582.31 312.95L575.24 317.4ZM566.49 321.26L582.31 312.95L573.64 317.78ZM573.64 317.78L589.02 308.73L582.31 312.95ZM573.64 317.78L589.02 308.73L580.43 314.47ZM580.43 314.47L589.02 308.73L595.39 304.72ZM580.43 314.47L595.39 304.72L586.89 311.32ZM586.89 311.32L595.39 304.72L601.45 300.91ZM586.89 311.32L601.45 300.91L593.03 308.33ZM593.03 308.33L601.45 300.91L607.22 297.28ZM593.03 308.33L607.22 297.28L598.89 305.47ZM542.67 337.9L560.93 331.67L552.15 338.52ZM542.67 337.9L551.53 332.32L560.93 331.67ZM551.53 332.32L569.19 325.22L560.93 331.67ZM551.53 332.32L559.89 327.06L569.19 325.22ZM559.89 327.06L576.99 319.13L569.19 325.22ZM559.89 327.06L567.78 322.1L576.99 319.13ZM567.78 322.1L584.36 313.37L576.99 319.13ZM567.78 322.1L575.24 317.4L584.36 313.37ZM575.24 317.4L591.34 307.93L584.36 313.37ZM575.24 317.4L582.31 312.95L591.34 307.93ZM582.31 312.95L597.95 302.76L591.34 307.93ZM582.31 312.95L597.95 302.76L589.02 308.73ZM589.02 308.73L604.23 297.86L597.95 302.76ZM589.02 308.73L604.23 297.86L595.39 304.72ZM595.39 304.72L610.19 293.21L604.23 297.86ZM595.39 304.72L610.19 293.21L601.45 300.91ZM601.45 300.91L610.19 293.21L615.87 288.77ZM601.45 300.91L615.87 288.77L607.22 297.28ZM552.15 338.52L570.74 331L562.07 339.18ZM552.15 338.52L560.93 331.67L570.74 331ZM560.93 331.67L578.91 323.29L570.74 331ZM560.93 331.67L569.19 325.22L578.91 323.29ZM569.19 325.22L586.6 316.03L578.91 323.29ZM569.19 325.22L576.99 319.13L586.6 316.03ZM576.99 319.13L593.87 309.18L586.6 316.03ZM576.99 319.13L584.36 313.37L593.87 309.18ZM584.36 313.37L600.74 302.7L593.87 309.18ZM584.36 313.37L591.34 307.93L600.74 302.7ZM591.34 307.93L607.24 296.56L600.74 302.7ZM591.34 307.93L597.95 302.76L607.24 296.56ZM597.95 302.76L613.41 290.73L607.24 296.56ZM597.95 302.76L604.23 297.86L613.41 290.73ZM604.23 297.86L619.28 285.2L613.41 290.73ZM604.23 297.86L619.28 285.2L610.19 293.21ZM610.19 293.21L624.85 279.94L619.28 285.2ZM610.19 293.21L624.85 279.94L615.87 288.77ZM562.07 339.18L581.01 330.29L572.45 339.87ZM562.07 339.18L570.74 331L581.01 330.29ZM570.74 331L589.06 321.28L581.01 330.29ZM570.74 331L578.91 323.29L589.06 321.28ZM578.91 323.29L596.63 312.8L589.06 321.28ZM578.91 323.29L586.6 316.03L596.63 312.8ZM586.6 316.03L603.78 304.8L596.63 312.8ZM586.6 316.03L593.87 309.18L603.78 304.8ZM593.87 309.18L610.53 297.25L603.78 304.8ZM593.87 309.18L600.74 302.7L610.53 297.25ZM600.74 302.7L616.92 290.09L610.53 297.25ZM600.74 302.7L607.24 296.56L616.92 290.09ZM607.24 296.56L622.97 283.32L616.92 290.09ZM607.24 296.56L613.41 290.73L622.97 283.32ZM613.41 290.73L628.72 276.88L622.97 283.32ZM613.41 290.73L619.28 285.2L628.72 276.88ZM619.28 285.2L634.18 270.77L628.72 276.88ZM619.28 285.2L634.18 270.77L624.85 279.94ZM572.45 339.87L591.77 329.55L583.34 340.59ZM572.45 339.87L581.01 330.29L591.77 329.55ZM581.01 330.29L599.68 319.18L591.77 329.55ZM581.01 330.29L589.06 321.28L599.68 319.18ZM589.06 321.28L607.12 309.43L599.68 319.18ZM589.06 321.28L596.63 312.8L607.12 309.43ZM596.63 312.8L614.13 300.23L607.12 309.43ZM596.63 312.8L603.78 304.8L614.13 300.23ZM603.78 304.8L620.75 291.56L614.13 300.23ZM603.78 304.8L610.53 297.25L620.75 291.56ZM610.53 297.25L627 283.36L620.75 291.56ZM610.53 297.25L616.92 290.09L627 283.36ZM616.92 290.09L632.93 275.59L627 283.36ZM616.92 290.09L622.97 283.32L632.93 275.59ZM622.97 283.32L638.55 268.22L632.93 275.59ZM622.97 283.32L628.72 276.88L638.55 268.22ZM628.72 276.88L643.88 261.23L638.55 268.22ZM628.72 276.88L634.18 270.77L643.88 261.23ZM583.34 340.59L603.04 328.77L594.77 341.35ZM583.34 340.59L591.77 329.55L603.04 328.77ZM591.77 329.55L610.8 316.98L603.04 328.77ZM591.77 329.55L599.68 319.18L610.8 316.98ZM599.68 319.18L618.08 305.89L610.8 316.98ZM599.68 319.18L607.12 309.43L618.08 305.89ZM607.12 309.43L624.94 295.46L618.08 305.89ZM607.12 309.43L614.13 300.23L624.94 295.46ZM614.13 300.23L631.41 285.62L624.94 295.46ZM614.13 300.23L620.75 291.56L631.41 285.62ZM620.75 291.56L637.52 276.33L631.41 285.62ZM620.75 291.56L627 283.36L637.52 276.33ZM627 283.36L643.3 267.54L637.52 276.33ZM627 283.36L632.93 275.59L643.3 267.54ZM632.93 275.59L648.78 259.21L643.3 267.54ZM632.93 275.59L638.55 268.22L648.78 259.21ZM638.55 268.22L653.98 251.3L648.78 259.21ZM638.55 268.22L643.88 261.23L653.98 251.3ZM594.77 341.35L614.87 327.96L606.78 342.14ZM594.77 341.35L603.04 328.77L614.87 327.96ZM603.04 328.77L622.45 314.67L614.87 327.96ZM603.04 328.77L610.8 316.98L622.45 314.67ZM610.8 316.98L629.57 302.19L622.45 314.67ZM610.8 316.98L618.08 305.89L629.57 302.19ZM618.08 305.89L636.26 290.47L629.57 302.19ZM618.08 305.89L624.94 295.46L636.26 290.47ZM624.94 295.46L642.56 279.42L636.26 290.47ZM624.94 295.46L631.41 285.62L642.56 279.42ZM631.41 285.62L648.51 268.99L642.56 279.42ZM631.41 285.62L637.52 276.33L648.51 268.99ZM637.52 276.33L654.13 259.14L648.51 268.99ZM637.52 276.33L643.3 267.54L654.13 259.14ZM643.3 267.54L659.45 249.81L654.13 259.14ZM643.3 267.54L648.78 259.21L659.45 249.81ZM648.78 259.21L664.49 240.96L659.45 249.81ZM648.78 259.21L653.98 251.3L664.49 240.96ZM606.78 342.14L627.3 327.1L619.41 342.98ZM606.78 342.14L614.87 327.96L627.3 327.1ZM614.87 327.96L634.68 312.24L627.3 327.1ZM614.87 327.96L622.45 314.67L634.68 312.24ZM622.45 314.67L641.6 298.32L634.68 312.24ZM622.45 314.67L629.57 302.19L641.6 298.32ZM629.57 302.19L648.1 285.24L641.6 298.32ZM629.57 302.19L636.26 290.47L648.1 285.24ZM636.26 290.47L654.22 272.93L648.1 285.24ZM636.26 290.47L642.56 279.42L654.22 272.93ZM642.56 279.42L659.98 261.33L654.22 272.93ZM642.56 279.42L648.51 268.99L659.98 261.33ZM648.51 268.99L665.43 250.37L659.98 261.33ZM648.51 268.99L654.13 259.14L665.43 250.37ZM654.13 259.14L670.58 240L665.43 250.37ZM654.13 259.14L659.45 249.81L670.58 240ZM659.45 249.81L675.45 230.19L670.58 240ZM659.45 249.81L664.49 240.96L675.45 230.19Z"/></clipPath><g clip-path="url(#rclip)"><path d="M524.91 336.72L542.54 332.94L533.6 337.29ZM524.91 336.72L533.91 333.53L542.54 332.94ZM533.91 333.53L550.97 328.83L542.54 332.94ZM533.91 333.53L542.41 330.52L550.97 328.83ZM542.41 330.52L558.94 324.94L550.97 328.83ZM542.41 330.52L550.45 327.68L558.94 324.94ZM550.45 327.68L566.49 321.26L558.94 324.94ZM550.45 327.68L566.49 321.26L558.07 324.98ZM558.07 324.98L573.64 317.78L566.49 321.26ZM558.07 324.98L573.64 317.78L565.3 322.42ZM565.3 322.42L573.64 317.78L580.43 314.47ZM565.3 322.42L580.43 314.47L572.16 319.99ZM572.16 319.99L580.43 314.47L586.89 311.32ZM572.16 319.99L586.89 311.32L578.7 317.68ZM578.7 317.68L586.89 311.32L593.03 308.33ZM578.7 317.68L593.03 308.33L584.92 315.48ZM584.92 315.48L593.03 308.33L598.89 305.47ZM584.92 315.48L598.89 305.47L590.85 313.38ZM533.6 337.29L551.53 332.32L542.67 337.9ZM533.6 337.29L542.54 332.94L551.53 332.32ZM542.54 332.94L559.89 327.06L551.53 332.32ZM542.54 332.94L550.97 328.83L559.89 327.06ZM550.97 328.83L567.78 322.1L559.89 327.06ZM550.97 328.83L558.94 324.94L567.78 322.1ZM558.94 324.94L575.24 317.4L567.78 322.1ZM558.94 324.94L566.49 321.26L575.24 317.4ZM566.49 321.26L582.31 312.95L575.24 317.4ZM566.49 321.26L582.31 312.95L573.64 317.78ZM573.64 317.78L589.02 308.73L582.31 312.95ZM573.64 317.78L589.02 308.73L580.43 314.47ZM580.43 314.47L589.02 308.73L595.39 304.72ZM580.43 314.47L595.39 304.72L586.89 311.32ZM586.89 311.32L595.39 304.72L601.45 300.91ZM586.89 311.32L601.45 300.91L593.03 308.33ZM593.03 308.33L601.45 300.91L607.22 297.28ZM593.03 308.33L607.22 297.28L598.89 305.47ZM542.67 337.9L560.93 331.67L552.15 338.52ZM542.67 337.9L551.53 332.32L560.93 331.67ZM551.53 332.32L569.19 325.22L560.93 331.67ZM551.53 332.32L559.89 327.06L569.19 325.22ZM559.89 327.06L576.99 319.13L569.19 325.22ZM559.89 327.06L567.78 322.1L576.99 319.13ZM567.78 322.1L584.36 313.37L576.99 319.13ZM567.78 322.1L575.24 317.4L584.36 313.37ZM575.24 317.4L591.34 307.93L584.36 313.37ZM575.24 317.4L582.31 312.95L591.34 307.93ZM582.31 312.95L597.95 302.76L591.34 307.93ZM582.31 312.95L597.95 302.76L589.02 308.73ZM589.02 308.73L604.23 297.86L597.95 302.76ZM589.02 308.73L604.23 297.86L595.39 304.72ZM595.39 304.72L610.19 293.21L604.23 297.86ZM595.39 304.72L610.19 293.21L601.45 300.91ZM601.45 300.91L610.19 293.21L615.87 288.77ZM601.45 300.91L615.87 288.77L607.22 297.28ZM552.15 338.52L570.74 331L562.07 339.18ZM552.15 338.52L560.93 331.67L570.74 331ZM560.93 331.67L578.91 323.29L570.74 331ZM560.93 331.67L569.19 325.22L578.91 323.29ZM569.19 325.22L586.6 316.03L578.91 323.29ZM569.19 325.22L576.99 319.13L586.6 316.03ZM576.99 319.13L593.87 309.18L586.6 316.03ZM576.99 319.13L584.36 313.37L593.87 309.18ZM584.36 313.37L600.74 302.7L593.87 309.18ZM584.36 313.37L591.34 307.93L600.74 302.7ZM591.34 307.93L607.24 296.56L600.74 302.7ZM591.34 307.93L597.95 302.76L607.24 296.56ZM597.95 302.76L613.41 290.73L607.24 296.56ZM597.95 302.76L604.23 297.86L613.41 290.73ZM604.23 297.86L619.28 285.2L613.41 290.73ZM604.23 297.86L619.28 285.2L610.19 293.21ZM610.19 293.21L624.85 279.94L619.28 285.2ZM610.19 293.21L624.85 279.94L615.87 288.77ZM562.07 339.18L581.01 330.29L572.45 339.87ZM562.07 339.18L570.74 331L581.01 330.29ZM570.74 331L589.06 321.28L581.01 330.29ZM570.74 331L578.91 323.29L589.06 321.28ZM578.91 323.29L596.63 312.8L589.06 321.28ZM578.91 323.29L586.6 316.03L596.63 312.8ZM586.6 316.03L603.78 304.8L596.63 312.8ZM586.6 316.03L593.87 309.18L603.78 304.8ZM593.87 309.18L610.53 297.25L603.78 304.8ZM593.87 309.18L600.74 302.7L610.53 297.25ZM600.74 302.7L616.92 290.09L610.53 297.25ZM600.74 302.7L607.24 296.56L616.92 290.09ZM607.24 296.56L622.97 283.32L616.92 290.09ZM607.24 296.56L613.41 290.73L622.97 283.32ZM613.41 290.73L628.72 276.88L622.97 283.32ZM613.41 290.73L619.28 285.2L628.72 276.88ZM619.28 285.2L634.18 270.77L628.72 276.88ZM619.28 285.2L634.18 270.77L624.85 279.94ZM572.45 339.87L591.77 329.55L583.34 340.59ZM572.45 339.87L581.01 330.29L591.77 329.55ZM581.01 330.29L599.68 319.18L591.77 329.55ZM581.01 330.29L589.06 321.28L599.68 319.18ZM589.06 321.28L607.12 309.43L599.68 319.18ZM589.06 321.28L596.63 312.8L607.12 309.43ZM596.63 312.8L614.13 300.23L607.12 309.43ZM596.63 312.8L603.78 304.8L614.13 300.23ZM603.78 304.8L620.75 291.56L614.13 300.23ZM603.78 304.8L610.53 297.25L620.75 291.56ZM610.53 297.25L627 283.36L620.75 291.56ZM610.53 297.25L616.92 290.09L627 283.36ZM616.92 290.09L632.93 275.59L627 283.36ZM616.92 290.09L622.97 283.32L632.93 275.59ZM622.97 283.32L638.55 268.22L632.93 275.59ZM622.97 283.32L628.72 276.88L638.55 268.22ZM628.72 276.88L643.88 261.23L638.55 268.22ZM628.72 276.88L634.18 270.77L643.88 261.23ZM583.34 340.59L603.04 328.77L594.77 341.35ZM583.34 340.59L591.77 329.55L603.04 328.77ZM591.77 329.55L610.8 316.98L603.04 328.77ZM591.77 329.55L599.68 319.18L610.8 316.98ZM599.68 319.18L618.08 305.89L610.8 316.98ZM599.68 319.18L607.12 309.43L618.08 305.89ZM607.12 309.43L624.94 295.46L618.08 305.89ZM607.12 309.43L614.13 300.23L624.94 295.46ZM614.13 300.23L631.41 285.62L624.94 295.46ZM614.13 300.23L620.75 291.56L631.41 285.62ZM620.75 291.56L637.52 276.33L631.41 285.62ZM620.75 291.56L627 283.36L637.52 276.33ZM627 283.36L643.3 267.54L637.52 276.33ZM627 283.36L632.93 275.59L643.3 267.54ZM632.93 275.59L648.78 259.21L643.3 267.54ZM632.93 275.59L638.55 268.22L648.78 259.21ZM638.55 268.22L653.98 251.3L648.78 259.21ZM638.55 268.22L643.88 261.23L653.98 251.3ZM594.77 341.35L614.87 327.96L606.78 342.14ZM594.77 341.35L603.04 328.77L614.87 327.96ZM603.04 328.77L622.45 314.67L614.87 327.96ZM603.04 328.77L610.8 316.98L622.45 314.67ZM610.8 316.98L629.57 302.19L622.45 314.67ZM610.8 316.98L618.08 305.89L629.57 302.19ZM618.08 305.89L636.26 290.47L629.57 302.19ZM618.08 305.89L624.94 295.46L636.26 290.47ZM624.94 295.46L642.56 279.42L636.26 290.47ZM624.94 295.46L631.41 285.62L642.56 279.42ZM631.41 285.62L648.51 268.99L642.56 279.42ZM631.41 285.62L637.52 276.33L648.51 268.99ZM637.52 276.33L654.13 259.14L648.51 268.99ZM637.52 276.33L643.3 267.54L654.13 259.14ZM643.3 267.54L659.45 249.81L654.13 259.14ZM643.3 267.54L648.78 259.21L659.45 249.81ZM648.78 259.21L664.49 240.96L659.45 249.81ZM648.78 259.21L653.98 251.3L664.49 240.96ZM606.78 342.14L627.3 327.1L619.41 342.98ZM606.78 342.14L614.87 327.96L627.3 327.1ZM614.87 327.96L634.68 312.24L627.3 327.1ZM614.87 327.96L622.45 314.67L634.68 312.24ZM622.45 314.67L641.6 298.32L634.68 312.24ZM622.45 314.67L629.57 302.19L641.6 298.32ZM629.57 302.19L648.1 285.24L641.6 298.32ZM629.57 302.19L636.26 290.47L648.1 285.24ZM636.26 290.47L654.22 272.93L648.1 285.24ZM636.26 290.47L642.56 279.42L654.22 272.93ZM642.56 279.42L659.98 261.33L654.22 272.93ZM642.56 279.42L648.51 268.99L659.98 261.33ZM648.51 268.99L665.43 250.37L659.98 261.33ZM648.51 268.99L654.13 259.14L665.43 250.37ZM654.13 259.14L670.58 240L665.43 250.37ZM654.13 259.14L659.45 249.81L670.58 240ZM659.45 249.81L675.45 230.19L670.58 240ZM659.45 249.81L664.49 240.96L675.45 230.19Z" fill="#e2677a" stroke="#e2677a" stroke-width="0.4"/><path d="M542.45 331.07L545.23 329.3L541.5 331.02ZM541.5 331.02L545.23 329.3L542.41 330.52L542.41 330.52ZM542.41 330.52L545.23 329.3L547.95 327.1ZM542.41 330.52L547.95 327.1L545.14 327.82ZM545.14 327.82L547.95 327.1L550.63 324.93ZM545.14 327.82L550.63 324.93L547.83 325.16ZM547.83 325.16L550.63 324.93L553.26 322.8ZM547.83 325.16L553.26 322.8L550.47 322.56ZM550.47 322.56L553.26 322.8L555.84 321.78ZM550.47 322.56L555.84 321.78L553.05 321.69ZM553.05 321.69L555.84 321.78L558.37 320.77ZM553.05 321.69L558.37 320.77L555.59 320.83ZM555.59 320.83L558.37 320.77L560.86 319.78ZM555.59 320.83L560.86 319.78L558.09 319.99ZM558.09 319.99L560.86 319.78L563.3 319.78ZM558.09 319.99L563.3 319.78L560.54 319.99ZM560.54 319.99L563.3 319.78L565.69 319.78ZM560.54 319.99L565.69 319.78L562.94 319.99ZM562.94 319.99L565.69 319.78L568.05 319.77ZM562.94 319.99L568.05 319.77L565.31 319.99ZM565.31 319.99L568.05 319.77L570.37 317.88ZM565.31 319.99L570.37 317.88L567.64 318.48ZM567.64 318.48L570.37 317.88L572.66 316.02ZM567.64 318.48L572.66 316.02L569.93 317ZM569.93 317L572.66 316.02L574.91 314.2ZM569.93 317L574.91 314.2L572.19 315.54ZM572.19 315.54L574.91 314.2L577.12 312.79ZM572.19 315.54L577.12 312.79L574.41 314.11ZM574.41 314.11L577.12 312.79L579.29 311.41ZM574.41 314.11L579.29 311.41L576.59 312.7ZM576.59 312.7L579.29 311.41L581.43 310.05ZM576.59 312.7L581.43 310.05L578.74 311.31ZM578.74 311.31L581.43 310.05L583.53 309.07ZM578.74 311.31L583.53 309.07L580.85 310.43ZM580.85 310.43L583.53 309.07L585.6 308.1ZM580.85 310.43L585.6 308.1L582.93 309.55ZM582.93 309.55L585.6 308.1L587.64 307.15ZM582.93 309.55L587.64 307.15L584.97 308.69ZM584.97 308.69L587.64 307.15L589.64 306.25ZM584.97 308.69L589.64 306.25L586.98 308.04ZM586.98 308.04L589.64 306.25L591.61 305.35ZM586.98 308.04L591.61 305.35L588.96 307.39ZM588.96 307.39L591.61 305.35L593.55 304.48ZM588.96 307.39L593.55 304.48L590.91 306.75ZM544.38 331.04L545.31 330.29L543.42 331.17ZM543.42 331.17L545.31 330.29L542.45 331.07ZM542.45 331.07L545.31 330.29L548.08 328.07L542.45 331.07ZM542.45 331.07L548.08 328.07L545.23 329.3L542.45 331.07ZM545.23 329.3L548.08 328.07L550.8 326.37ZM545.23 329.3L550.8 326.37L547.95 327.1ZM547.95 327.1L550.8 326.37L553.46 324.7ZM547.95 327.1L553.46 324.7L550.63 324.93ZM550.63 324.93L553.46 324.7L556.08 323.06ZM550.63 324.93L556.08 323.06L553.26 322.8ZM553.26 322.8L556.08 323.06L558.65 321.87ZM553.26 322.8L558.65 321.87L555.84 321.78ZM555.84 321.78L558.65 321.87L561.18 320.71ZM555.84 321.78L561.18 320.71L558.37 320.77ZM558.37 320.77L561.18 320.71L563.66 319.57ZM558.37 320.77L563.66 319.57L560.86 319.78ZM560.86 319.78L563.66 319.57L566.09 319.56ZM560.86 319.78L566.09 319.56L563.3 319.78ZM563.3 319.78L566.09 319.56L568.48 319.56ZM563.3 319.78L568.48 319.56L565.69 319.78ZM565.69 319.78L568.48 319.56L570.36 319.55L570.36 319.58ZM565.69 319.78L570.36 319.58L570.39 319.59L568.05 319.77ZM568.05 319.77L570.39 319.59L571.2 319.18L573.14 317.27ZM568.05 319.77L573.14 317.27L570.37 317.88ZM570.37 317.88L573.14 317.27L575.42 315.03ZM570.37 317.88L575.42 315.03L572.66 316.02ZM572.66 316.02L575.42 315.03L577.66 312.83ZM572.66 316.02L577.66 312.83L574.91 314.2ZM574.91 314.2L577.66 312.83L579.87 311.46ZM574.91 314.2L579.87 311.46L577.12 312.79ZM577.12 312.79L579.87 311.46L582.03 310.11ZM577.12 312.79L582.03 310.11L579.29 311.41ZM579.29 311.41L582.03 310.11L584.16 308.78ZM579.29 311.41L584.16 308.78L581.43 310.05ZM581.43 310.05L584.16 308.78L586.25 307.7ZM581.43 310.05L586.25 307.7L583.53 309.07ZM583.53 309.07L586.25 307.7L588.31 306.63ZM583.53 309.07L588.31 306.63L585.6 308.1ZM585.6 308.1L588.31 306.63L590.34 305.59ZM585.6 308.1L590.34 305.59L587.64 307.15ZM587.64 307.15L590.34 305.59L592.33 304.43ZM587.64 307.15L592.33 304.43L589.64 306.25ZM589.64 306.25L592.33 304.43L594.3 303.29ZM589.64 306.25L594.3 303.29L591.61 305.35ZM591.61 305.35L594.3 303.29L596.23 302.17ZM591.61 305.35L596.23 302.17L593.55 304.48ZM546.81 330.85L548.21 329.5L545.36 331.05ZM545.36 331.05L548.21 329.5L545.31 330.29L544.38 331.04ZM545.31 330.29L548.21 329.5L550.98 326.81ZM545.31 330.29L550.98 326.81L548.08 328.07ZM548.08 328.07L550.98 326.81L553.68 325.62ZM548.08 328.07L553.68 325.62L550.8 326.37ZM550.8 326.37L553.68 325.62L556.34 324.46ZM550.8 326.37L556.34 324.46L553.46 324.7ZM553.46 324.7L556.34 324.46L558.95 323.31ZM553.46 324.7L558.95 323.31L556.08 323.06ZM556.08 323.06L558.95 323.31L561.51 321.97ZM556.08 323.06L561.51 321.97L558.65 321.87ZM558.65 321.87L561.51 321.97L564.02 320.65ZM558.65 321.87L564.02 320.65L561.18 320.71ZM561.18 320.71L564.02 320.65L566.5 319.36ZM561.18 320.71L566.5 319.36L563.66 319.57ZM563.66 319.57L566.5 319.36L568.92 319.35ZM563.66 319.57L568.92 319.35L566.09 319.56ZM566.09 319.56L568.92 319.35L570.43 319.34L570.35 319.39ZM566.09 319.56L570.35 319.39L570.35 319.41L568.48 319.56ZM568.48 319.56L570.35 319.41L570.27 319.5ZM568.48 319.56L570.27 319.5L570.36 319.55ZM575.94 316.66L573.14 317.27L571.2 319.18ZM573.14 317.27L575.94 316.66L575.94 316.66L578.22 314.03ZM573.14 317.27L578.22 314.03L575.42 315.03ZM575.42 315.03L578.22 314.03L580.45 311.45ZM575.42 315.03L580.45 311.45L577.66 312.83ZM577.66 312.83L580.45 311.45L582.64 310.1ZM577.66 312.83L582.64 310.1L579.87 311.46ZM579.87 311.46L582.64 310.1L584.8 308.78ZM579.87 311.46L584.8 308.78L582.03 310.11ZM582.03 310.11L584.8 308.78L586.92 307.49ZM582.03 310.11L586.92 307.49L584.16 308.78ZM584.16 308.78L586.92 307.49L589 306.31ZM584.16 308.78L589 306.31L586.25 307.7ZM586.25 307.7L589 306.31L591.05 305.15ZM586.25 307.7L591.05 305.15L588.31 306.63ZM588.31 306.63L591.05 305.15L593.07 304.01ZM588.31 306.63L593.07 304.01L590.34 305.59ZM590.34 305.59L593.07 304.01L595.06 302.6ZM590.34 305.59L595.06 302.6L592.33 304.43ZM592.33 304.43L595.06 302.6L597.02 301.21ZM592.33 304.43L597.02 301.21L594.3 303.29ZM594.3 303.29L597.02 301.21L598.94 299.85ZM594.3 303.29L598.94 299.85L596.23 302.17ZM547.73 331.54L548.35 331.02L547.86 331.37ZM547.86 331.37L548.35 331.02L547.7 331.28ZM547.7 331.28L548.35 331.02L551.15 328.65L547.65 330.85ZM547.65 330.85L551.15 328.65L548.21 329.5L546.81 330.85ZM548.21 329.5L551.15 328.65L553.91 326.33ZM548.21 329.5L553.91 326.33L550.98 326.81ZM550.98 326.81L553.91 326.33L556.6 325.47ZM550.98 326.81L556.6 325.47L553.68 325.62ZM553.68 325.62L556.6 325.47L559.25 324.62ZM553.68 325.62L559.25 324.62L556.34 324.46ZM556.34 324.46L559.25 324.62L561.85 323.79ZM556.34 324.46L561.85 323.79L558.95 323.31ZM558.95 323.31L561.85 323.79L564.4 322.35ZM558.95 323.31L564.4 322.35L561.51 321.97ZM561.51 321.97L564.4 322.35L566.91 320.95ZM561.51 321.97L566.91 320.95L564.02 320.65ZM564.02 320.65L566.91 320.95L569.37 319.57ZM564.02 320.65L569.37 319.57L566.5 319.36ZM566.5 319.36L569.37 319.57L571.78 318.56ZM566.5 319.36L571.78 318.56L568.92 319.35ZM568.92 319.35L571.78 318.56L572.98 318.07L573.32 317.87ZM568.92 319.35L573.32 317.87L570.43 319.34ZM577.36 315.73L578.79 314.28L577.21 315.85ZM577.21 315.85L578.79 314.28L575.94 316.66ZM575.94 316.66L578.79 314.28L581.05 311.99L575.94 316.66ZM575.94 316.66L581.05 311.99L578.22 314.03L575.94 316.66ZM578.22 314.03L581.05 311.99L583.28 309.74ZM578.22 314.03L583.28 309.74L580.45 311.45ZM580.45 311.45L583.28 309.74L585.46 308.33ZM580.45 311.45L585.46 308.33L582.64 310.1ZM582.64 310.1L585.46 308.33L587.61 306.95ZM582.64 310.1L587.61 306.95L584.8 308.78ZM584.8 308.78L587.61 306.95L589.72 305.59ZM584.8 308.78L589.72 305.59L586.92 307.49ZM586.92 307.49L589.72 305.59L591.79 304.31ZM586.92 307.49L591.79 304.31L589 306.31ZM589 306.31L591.79 304.31L593.83 303.06ZM589 306.31L593.83 303.06L591.05 305.15ZM591.05 305.15L593.83 303.06L595.84 301.83ZM591.05 305.15L595.84 301.83L593.07 304.01ZM593.07 304.01L595.84 301.83L597.82 300.29ZM593.07 304.01L597.82 300.29L595.06 302.6ZM595.06 302.6L597.82 300.29L599.77 298.78ZM595.06 302.6L599.77 298.78L597.02 301.21ZM597.02 301.21L599.77 298.78L601.69 297.3ZM597.02 301.21L601.69 297.3L598.94 299.85ZM547.51 333.1L548.49 331.83L547.09 332.97ZM547.09 332.97L548.49 331.83L546.99 332.63ZM546.99 332.63L548.49 331.83L551.34 329.79L547.78 332.03ZM547.78 332.03L551.34 329.79L548.35 331.02L547.73 331.54ZM548.35 331.02L551.34 329.79L554.14 327.8ZM548.35 331.02L554.14 327.8L551.15 328.65ZM551.15 328.65L554.14 327.8L556.88 325.84ZM551.15 328.65L556.88 325.84L553.91 326.33ZM553.91 326.33L556.88 325.84L559.57 325.31ZM553.91 326.33L559.57 325.31L556.6 325.47ZM556.6 325.47L559.57 325.31L561.62 324.9L561.4 324.9ZM556.6 325.47L561.4 324.9L561.54 324.75L559.25 324.62ZM559.25 324.62L561.54 324.75L561.41 324.51ZM559.25 324.62L561.41 324.51L562.3 323.86L561.85 323.79ZM561.85 323.79L562.3 323.86L562.71 323.64ZM561.85 323.79L562.71 323.64L564.98 322.43L564.4 322.35ZM564.4 322.35L564.98 322.43L565.52 322.15ZM564.4 322.35L565.52 322.15L567.62 321.02L566.91 320.95ZM566.91 320.95L567.62 321.02L568.25 320.68ZM566.91 320.95L568.25 320.68L570.2 319.63L569.37 319.57ZM569.37 319.57L570.2 319.63L571.93 318.73ZM569.37 319.57L571.93 318.73L572.46 318.38L571.78 318.56ZM571.78 318.56L572.46 318.38L576.51 316.25L577.06 315.79ZM571.78 318.56L577.06 315.79L575.6 316.69L572.98 318.07ZM575.6 316.69L577.06 315.79L579.39 313.85L575 316.99ZM575 316.99L579.39 313.85L577.54 315.61ZM577.54 315.61L579.39 313.85L581.68 311.87L577.69 315.53ZM577.69 315.53L581.68 311.87L578.79 314.28L577.36 315.73ZM578.79 314.28L581.68 311.87L583.93 309.92ZM578.79 314.28L583.93 309.92L581.05 311.99ZM581.05 311.99L583.93 309.92L586.14 308.01ZM581.05 311.99L586.14 308.01L583.28 309.74ZM583.28 309.74L586.14 308.01L588.31 306.54ZM583.28 309.74L588.31 306.54L585.46 308.33ZM585.46 308.33L588.31 306.54L590.45 305.09ZM585.46 308.33L590.45 305.09L587.61 306.95ZM587.61 306.95L590.45 305.09L592.55 303.66ZM587.61 306.95L592.55 303.66L589.72 305.59ZM589.72 305.59L592.55 303.66L594.62 302.29ZM589.72 305.59L594.62 302.29L591.79 304.31ZM591.79 304.31L594.62 302.29L596.65 300.94ZM591.79 304.31L596.65 300.94L593.83 303.06ZM593.83 303.06L596.65 300.94L598.65 299.62ZM593.83 303.06L598.65 299.62L595.84 301.83ZM595.84 301.83L598.65 299.62L600.62 297.96ZM595.84 301.83L600.62 297.96L597.82 300.29ZM597.82 300.29L600.62 297.96L602.56 296.33ZM597.82 300.29L602.56 296.33L599.77 298.78ZM599.77 298.78L602.56 296.33L604.47 294.72ZM599.77 298.78L604.47 294.72L601.69 297.3ZM549.17 333.81L551.54 330.2L547.93 333.5ZM547.93 333.5L551.54 330.2L548.49 331.83L547.51 333.1ZM548.49 331.83L551.54 330.2L554.38 328.55ZM548.49 331.83L554.38 328.55L551.34 329.79ZM551.34 329.79L554.38 328.55L557.16 326.93ZM551.34 329.79L557.16 326.93L554.14 327.8ZM554.14 327.8L557.16 326.93L559.9 325.35ZM554.14 327.8L559.9 325.35L556.88 325.84ZM556.88 325.84L559.9 325.35L562.57 325.15ZM556.88 325.84L562.57 325.15L559.57 325.31ZM559.57 325.31L562.57 325.15L562.98 325.12L561.76 325.2ZM559.57 325.31L561.76 325.2L561.62 324.9ZM579.33 314.83L580 313.98L577.45 315.82ZM577.45 315.82L580 313.98L577.06 315.79L576.51 316.25ZM577.06 315.79L580 313.98L582.33 311.05ZM577.06 315.79L582.33 311.05L579.39 313.85ZM579.39 313.85L582.33 311.05L584.6 309.43ZM579.39 313.85L584.6 309.43L581.68 311.87ZM581.68 311.87L584.6 309.43L586.84 307.83ZM581.68 311.87L586.84 307.83L583.93 309.92ZM583.93 309.92L586.84 307.83L589.04 306.26ZM583.93 309.92L589.04 306.26L586.14 308.01ZM586.14 308.01L589.04 306.26L591.2 304.72ZM586.14 308.01L591.2 304.72L588.31 306.54ZM588.31 306.54L591.2 304.72L593.33 303.2ZM588.31 306.54L593.33 303.2L590.45 305.09ZM590.45 305.09L593.33 303.2L595.42 301.71ZM590.45 305.09L595.42 301.71L592.55 303.66ZM592.55 303.66L595.42 301.71L597.48 300.25ZM592.55 303.66L597.48 300.25L594.62 302.29ZM594.62 302.29L597.48 300.25L599.5 298.8ZM594.62 302.29L599.5 298.8L596.65 300.94ZM596.65 300.94L599.5 298.8L601.49 297.38ZM596.65 300.94L601.49 297.38L598.65 299.62ZM598.65 299.62L601.49 297.38L603.45 295.6ZM598.65 299.62L603.45 295.6L600.62 297.96ZM600.62 297.96L603.45 295.6L605.38 293.84ZM600.62 297.96L605.38 293.84L602.56 296.33ZM602.56 296.33L605.38 293.84L607.28 292.11ZM602.56 296.33L607.28 292.11L604.47 294.72ZM552.42 333.6L554.63 330.33L549.9 333.73ZM549.9 333.73L554.63 330.33L551.54 330.2L549.17 333.81ZM551.54 330.2L554.63 330.33L557.45 328.86ZM551.54 330.2L557.45 328.86L554.38 328.55ZM554.38 328.55L557.45 328.86L560.23 327.41ZM554.38 328.55L560.23 327.41L557.16 326.93ZM557.16 326.93L560.23 327.41L562.95 325.99ZM557.16 326.93L562.95 325.99L559.9 325.35ZM559.9 325.35L562.95 325.99L564.02 325.73L563.98 325.36ZM559.9 325.35L563.98 325.36L563.33 325.19L562.57 325.15ZM562.57 325.15L563.33 325.19L563.2 325.11ZM562.57 325.15L563.2 325.11L562.98 325.12ZM580.8 314.34L582.98 311.93L580.5 314.29ZM580.5 314.29L582.98 311.93L580 313.98L579.33 314.83ZM580 313.98L582.98 311.93L585.3 309.39ZM580 313.98L585.3 309.39L582.33 311.05ZM582.33 311.05L585.3 309.39L587.56 307.66ZM582.33 311.05L587.56 307.66L584.6 309.43ZM584.6 309.43L587.56 307.66L589.79 305.96ZM584.6 309.43L589.79 305.96L586.84 307.83ZM586.84 307.83L589.79 305.96L591.98 304.28ZM586.84 307.83L591.98 304.28L589.04 306.26ZM589.04 306.26L591.98 304.28L594.13 302.71ZM589.04 306.26L594.13 302.71L591.2 304.72ZM591.2 304.72L594.13 302.71L596.25 301.16ZM591.2 304.72L596.25 301.16L593.33 303.2ZM593.33 303.2L596.25 301.16L598.33 299.64ZM593.33 303.2L598.33 299.64L595.42 301.71ZM595.42 301.71L598.33 299.64L600.37 298.07ZM595.42 301.71L600.37 298.07L597.48 300.25ZM597.48 300.25L600.37 298.07L602.38 296.54ZM597.48 300.25L602.38 296.54L599.5 298.8ZM599.5 298.8L602.38 296.54L604.36 295.02ZM599.5 298.8L604.36 295.02L601.49 297.38ZM601.49 297.38L604.36 295.02L606.31 293.21ZM601.49 297.38L606.31 293.21L603.45 295.6ZM603.45 295.6L606.31 293.21L608.23 291.42ZM603.45 295.6L608.23 291.42L605.38 293.84ZM605.38 293.84L608.23 291.42L610.12 289.67ZM605.38 293.84L610.12 289.67L607.28 292.11ZM555.76 333.34L557.76 330.46L553.42 333.48ZM553.42 333.48L557.76 330.46L554.63 330.33L552.42 333.6ZM554.63 330.33L557.76 330.46L560.57 329.17ZM554.63 330.33L560.57 329.17L557.45 328.86ZM557.45 328.86L560.57 329.17L563.05 328.03L563.01 327.96ZM557.45 328.86L563.01 327.96L563.08 327.86L560.23 327.41ZM560.23 327.41L563.08 327.86L563.27 327.04ZM560.23 327.41L563.27 327.04L564.07 326.23L562.95 325.99ZM562.95 325.99L564.07 326.23L564.23 325.91ZM562.95 325.99L564.23 325.91L564.02 325.73ZM580.38 315.39L581.28 314.3L580.15 315.37ZM580.15 315.37L581.28 314.3L580.41 315.12ZM580.41 315.12L581.28 314.3L583.67 312.06L581.15 314.45ZM581.15 314.45L583.67 312.06L580.85 314.35ZM580.85 314.35L583.67 312.06L586.01 309.86L580.89 314.31ZM580.89 314.31L586.01 309.86L582.98 311.93L580.8 314.34ZM582.98 311.93L586.01 309.86L588.31 307.7ZM582.98 311.93L588.31 307.7L585.3 309.39ZM585.3 309.39L588.31 307.7L590.56 305.86ZM585.3 309.39L590.56 305.86L587.56 307.66ZM587.56 307.66L590.56 305.86L592.78 304.05ZM587.56 307.66L592.78 304.05L589.79 305.96ZM589.79 305.96L592.78 304.05L594.96 302.28ZM589.79 305.96L594.96 302.28L591.98 304.28ZM591.98 304.28L594.96 302.28L597.1 300.67ZM591.98 304.28L597.1 300.67L594.13 302.71ZM594.13 302.71L597.1 300.67L599.2 299.09ZM594.13 302.71L599.2 299.09L596.25 301.16ZM596.25 301.16L599.2 299.09L601.27 297.54ZM596.25 301.16L601.27 297.54L598.33 299.64ZM598.33 299.64L601.27 297.54L603.31 295.87ZM598.33 299.64L603.31 295.87L600.37 298.07ZM600.37 298.07L603.31 295.87L605.31 294.24ZM600.37 298.07L605.31 294.24L602.38 296.54ZM602.38 296.54L605.31 294.24L607.28 292.63ZM602.38 296.54L607.28 292.63L604.36 295.02ZM604.36 295.02L607.28 292.63L609.22 290.79ZM604.36 295.02L609.22 290.79L606.31 293.21ZM606.31 293.21L609.22 290.79L611.13 288.97ZM606.31 293.21L611.13 288.97L608.23 291.42ZM608.23 291.42L611.13 288.97L613 287.19ZM608.23 291.42L613 287.19L610.12 289.67ZM559.21 333.01L560.93 330.59L557.13 333.15ZM557.13 333.15L560.93 330.59L557.76 330.46L555.76 333.34ZM557.76 330.46L560.93 330.59L563.74 329.48L563.74 329.48ZM557.76 330.46L563.74 329.48L563.74 329.48L560.57 329.17ZM560.57 329.17L563.74 329.48L562.86 328.89ZM560.57 329.17L562.86 328.89L563.05 328.03ZM581.65 315.49L581.95 315.03L581.38 315.58ZM581.38 315.58L581.95 315.03L581.23 315.54ZM581.23 315.54L581.95 315.03L584.38 311.38L580.35 315.68ZM580.35 315.68L584.38 311.38L581.28 314.3L580.38 315.39ZM581.28 314.3L584.38 311.38L586.75 309.55ZM581.28 314.3L586.75 309.55L583.67 312.06ZM583.67 312.06L586.75 309.55L589.07 307.76ZM583.67 312.06L589.07 307.76L586.01 309.86ZM586.01 309.86L589.07 307.76L591.36 305.99ZM586.01 309.86L591.36 305.99L588.31 307.7ZM588.31 307.7L591.36 305.99L593.6 304.04ZM588.31 307.7L593.6 304.04L590.56 305.86ZM590.56 305.86L593.6 304.04L595.81 302.13ZM590.56 305.86L595.81 302.13L592.78 304.05ZM592.78 304.05L595.81 302.13L597.98 300.25ZM592.78 304.05L597.98 300.25L594.96 302.28ZM594.96 302.28L597.98 300.25L600.1 298.61ZM594.96 302.28L600.1 298.61L597.1 300.67ZM597.1 300.67L600.1 298.61L602.2 296.99ZM597.1 300.67L602.2 296.99L599.2 299.09ZM599.2 299.09L602.2 296.99L604.25 295.41ZM599.2 299.09L604.25 295.41L601.27 297.54ZM601.27 297.54L604.25 295.41L606.28 293.65ZM601.27 297.54L606.28 293.65L603.31 295.87ZM603.31 295.87L606.28 293.65L608.27 291.91ZM603.31 295.87L608.27 291.91L605.31 294.24ZM605.31 294.24L608.27 291.91L610.23 290.21ZM605.31 294.24L610.23 290.21L607.28 292.63ZM607.28 292.63L610.23 290.21L612.16 288.34ZM607.28 292.63L612.16 288.34L609.22 290.79ZM609.22 290.79L612.16 288.34L614.05 286.49ZM609.22 290.79L614.05 286.49L611.13 288.97ZM611.13 288.97L614.05 286.49L615.92 284.68ZM611.13 288.97L615.92 284.68L613 287.19ZM563.56 331.49L560.93 330.59L559.21 333.01ZM560.93 330.59L563.56 331.49L565 329.97ZM560.93 330.59L565 329.97L563.74 329.48ZM583.64 315.2L585.09 313.28L583.35 315.01ZM583.35 315.01L585.09 313.28L581.95 315.03L581.65 315.49ZM581.95 315.03L585.09 313.28L587.5 310.1ZM581.95 315.03L587.5 310.1L584.38 311.38ZM584.38 311.38L587.5 310.1L589.86 308.45ZM584.38 311.38L589.86 308.45L586.75 309.55ZM586.75 309.55L589.86 308.45L592.17 306.83ZM586.75 309.55L592.17 306.83L589.07 307.76ZM589.07 307.76L592.17 306.83L594.44 305.23ZM589.07 307.76L594.44 305.23L591.36 305.99ZM591.36 305.99L594.44 305.23L596.67 302.95ZM591.36 305.99L596.67 302.95L593.6 304.04ZM593.6 304.04L596.67 302.95L598.87 300.71ZM593.6 304.04L598.87 300.71L595.81 302.13ZM595.81 302.13L598.87 300.71L601.03 298.5ZM595.81 302.13L601.03 298.5L597.98 300.25ZM597.98 300.25L601.03 298.5L603.15 296.72ZM597.98 300.25L603.15 296.72L600.1 298.61ZM600.1 298.61L603.15 296.72L605.23 294.97ZM600.1 298.61L605.23 294.97L602.2 296.99ZM602.2 296.99L605.23 294.97L607.27 293.25ZM602.2 296.99L607.27 293.25L604.25 295.41ZM604.25 295.41L607.27 293.25L609.29 291.56ZM604.25 295.41L609.29 291.56L606.28 293.65ZM606.28 293.65L609.29 291.56L611.26 289.9ZM606.28 293.65L611.26 289.9L608.27 291.91ZM608.27 291.91L611.26 289.9L613.21 288.26ZM608.27 291.91L613.21 288.26L610.23 290.21ZM610.23 290.21L613.21 288.26L615.12 286.72ZM610.23 290.21L615.12 286.72L612.16 288.34ZM612.16 288.34L615.12 286.72L617 285.2ZM612.16 288.34L617 285.2L614.05 286.49ZM614.05 286.49L617 285.2L618.85 283.71ZM614.05 286.49L618.85 283.71L615.92 284.68ZM575.62 323.94L575.62 323.94L575.62 323.94ZM575.62 323.94L575.62 323.94L575.62 323.94ZM575.62 323.94L575.62 323.94L578.25 321.61L578.25 321.61ZM578.25 321.61L578.25 321.61L578.25 321.61ZM578.25 321.61L578.25 321.61L580.83 319.32L580.83 319.32ZM580.83 319.32L580.83 319.32L580.83 319.32ZM580.83 319.32L580.83 319.32L583.35 317.08L583.35 317.08ZM583.35 317.08L583.35 317.08L583.35 317.08ZM583.35 317.08L583.35 317.08L585.84 314.27L584.34 315.75ZM584.34 315.75L585.84 314.27L584.07 315.52ZM584.07 315.52L585.84 314.27L588.28 311.51L584.27 315.1ZM584.27 315.1L588.28 311.51L585.09 313.28L583.64 315.2ZM585.09 313.28L588.28 311.51L590.67 308.8ZM585.09 313.28L590.67 308.8L587.5 310.1ZM587.5 310.1L590.67 308.8L593.01 307.33ZM587.5 310.1L593.01 307.33L589.86 308.45ZM589.86 308.45L593.01 307.33L595.31 305.88ZM589.86 308.45L595.31 305.88L592.17 306.83ZM592.17 306.83L595.31 305.88L597.56 304.46L597.56 304.46ZM592.17 306.83L597.56 304.46L597.56 304.46L594.44 305.23ZM594.44 305.23L597.56 304.46L597.56 304.46L599.79 301.84ZM594.44 305.23L599.79 301.84L596.67 302.95ZM596.67 302.95L599.79 301.84L601.97 299.27ZM596.67 302.95L601.97 299.27L598.87 300.71ZM598.87 300.71L601.97 299.27L604.12 296.74ZM598.87 300.71L604.12 296.74L601.03 298.5ZM601.03 298.5L604.12 296.74L606.23 294.82ZM601.03 298.5L606.23 294.82L603.15 296.72ZM603.15 296.72L606.23 294.82L608.3 292.93ZM603.15 296.72L608.3 292.93L605.23 294.97ZM605.23 294.97L608.3 292.93L610.34 291.07ZM605.23 294.97L610.34 291.07L607.27 293.25ZM607.27 293.25L610.34 291.07L612.33 289.45ZM607.27 293.25L612.33 289.45L609.29 291.56ZM609.29 291.56L612.33 289.45L614.3 287.85ZM609.29 291.56L614.3 287.85L611.26 289.9ZM611.26 289.9L614.3 287.85L616.23 286.29ZM611.26 289.9L616.23 286.29L613.21 288.26ZM613.21 288.26L616.23 286.29L618.12 285.08ZM613.21 288.26L618.12 285.08L615.12 286.72ZM615.12 286.72L618.12 285.08L619.99 283.89ZM615.12 286.72L619.99 283.89L617 285.2ZM617 285.2L619.99 283.89L621.82 282.73ZM617 285.2L621.82 282.73L618.85 283.71ZM576.73 325.35L578.91 322.22L574.88 325.36ZM574.88 325.36L578.91 322.22L575.62 323.94L575.62 323.94ZM575.62 323.94L578.91 322.22L581.53 319.53ZM575.62 323.94L581.53 319.53L578.25 321.61ZM578.25 321.61L581.53 319.53L584.1 316.88ZM578.25 321.61L584.1 316.88L580.83 319.32ZM580.83 319.32L584.1 316.88L586.62 314.29ZM580.83 319.32L586.62 314.29L583.35 317.08ZM583.35 317.08L586.62 314.29L589.08 311.98ZM583.35 317.08L589.08 311.98L585.84 314.27ZM585.84 314.27L589.08 311.98L591.5 309.71ZM585.84 314.27L591.5 309.71L588.28 311.51ZM588.28 311.51L591.5 309.71L593.88 307.49ZM588.28 311.51L593.88 307.49L590.67 308.8ZM590.67 308.8L593.88 307.49L596.21 306.2ZM590.67 308.8L596.21 306.2L593.01 307.33ZM593.01 307.33L596.21 306.2L598.2 305.09L598.02 305.14ZM593.01 307.33L598.02 305.14L597.98 305.08L595.31 305.88ZM595.31 305.88L597.98 305.08L597.33 305.09ZM595.31 305.88L597.33 305.09L597.56 304.46ZM602.49 300.88L599.79 301.84L597.56 304.46ZM599.79 301.84L602.49 300.88L603.22 300.36L605.12 297.81ZM599.79 301.84L605.12 297.81L601.97 299.27ZM601.97 299.27L605.12 297.81L607.26 294.95ZM601.97 299.27L607.26 294.95L604.12 296.74ZM604.12 296.74L607.26 294.95L609.35 292.88ZM604.12 296.74L609.35 292.88L606.23 294.82ZM606.23 294.82L609.35 292.88L611.41 290.85ZM606.23 294.82L611.41 290.85L608.3 292.93ZM608.3 292.93L611.41 290.85L613.44 288.85ZM608.3 292.93L613.44 288.85L610.34 291.07ZM610.34 291.07L613.44 288.85L615.42 287.31ZM610.34 291.07L615.42 287.31L612.33 289.45ZM612.33 289.45L615.42 287.31L617.37 285.78ZM612.33 289.45L617.37 285.78L614.3 287.85ZM614.3 287.85L617.37 285.78L619.29 284.29ZM614.3 287.85L619.29 284.29L616.23 286.29ZM616.23 286.29L619.29 284.29L621.16 283.42L621.16 283.42ZM616.23 286.29L621.16 283.42L621.16 283.42L618.12 285.08ZM618.12 285.08L621.16 283.42L620.85 283.71ZM618.12 285.08L620.85 283.71L621.27 283.33L619.99 283.89ZM619.99 283.89L621.27 283.33L621.3 283.33ZM619.99 283.89L621.3 283.33L622.12 282.63L621.82 282.73ZM577.13 327.75L579.59 324.48L577.53 326.36ZM577.53 326.36L579.59 324.48L577.01 325.69ZM577.01 325.69L579.59 324.48L582.25 320.95L576.99 325.43ZM576.99 325.43L582.25 320.95L578.91 322.22L576.73 325.35ZM578.91 322.22L582.25 320.95L584.86 318.2ZM578.91 322.22L584.86 318.2L581.53 319.53ZM581.53 319.53L584.86 318.2L587.41 315.51ZM581.53 319.53L587.41 315.51L584.1 316.88ZM584.1 316.88L587.41 315.51L589.92 312.87ZM584.1 316.88L589.92 312.87L586.62 314.29ZM586.62 314.29L589.92 312.87L592.37 310.86ZM586.62 314.29L592.37 310.86L589.08 311.98ZM589.08 311.98L592.37 310.86L594.77 308.88ZM589.08 311.98L594.77 308.88L591.5 309.71ZM591.5 309.71L594.77 308.88L597.13 306.94ZM591.5 309.71L597.13 306.94L593.88 307.49ZM593.88 307.49L597.13 306.94L599.44 305.42ZM593.88 307.49L599.44 305.42L596.21 306.2ZM596.21 306.2L599.44 305.42L599.44 305.42L598.96 305.09ZM596.21 306.2L598.96 305.09L598.2 305.09ZM607.12 297.74L608.31 295.97L603.79 299.99ZM603.79 299.99L608.31 295.97L605.12 297.81L603.22 300.36ZM605.12 297.81L608.31 295.97L610.44 292.81ZM605.12 297.81L610.44 292.81L607.26 294.95ZM607.26 294.95L610.44 292.81L612.52 291.03ZM607.26 294.95L612.52 291.03L609.35 292.88ZM609.35 292.88L612.52 291.03L614.56 289.28ZM609.35 292.88L614.56 289.28L611.41 290.85ZM611.41 290.85L614.56 289.28L616.57 287.56ZM611.41 290.85L616.57 287.56L613.44 288.85ZM613.44 288.85L616.57 287.56L618.54 285.87ZM613.44 288.85L618.54 285.87L615.42 287.31ZM615.42 287.31L618.54 285.87L620.48 284.2ZM615.42 287.31L620.48 284.2L617.37 285.78ZM617.37 285.78L620.48 284.2L621.67 283.18L622 282.82ZM617.37 285.78L622 282.82L622.07 282.74L619.29 284.29ZM619.29 284.29L622.07 282.74L622.02 282.69ZM619.29 284.29L622.02 282.69L621.16 283.42ZM571.34 337.1L571.86 336.45L570.71 337.08ZM570.71 337.08L571.86 336.45L571.43 336.53ZM571.43 336.53L571.86 336.45L574.73 332.96L571.69 334.96ZM571.69 334.96L574.73 332.96L573.33 333.54ZM573.33 333.54L574.73 332.96L577.54 329.53L574.06 332.26ZM574.06 332.26L577.54 329.53L575.82 330.65ZM575.82 330.65L577.54 329.53L580.3 326.17L576.63 329.51ZM576.63 329.51L580.3 326.17L577.06 327.98ZM577.06 327.98L580.3 326.17L583 322.88L577.13 327.87ZM577.13 327.87L583 322.88L579.59 324.48L577.13 327.75ZM579.59 324.48L583 322.88L585.64 319.66ZM579.59 324.48L585.64 319.66L582.25 320.95ZM582.25 320.95L585.64 319.66L588.23 316.86ZM582.25 320.95L588.23 316.86L584.86 318.2ZM584.86 318.2L588.23 316.86L590.77 314.11ZM584.86 318.2L590.77 314.11L587.41 315.51ZM587.41 315.51L590.77 314.11L593.26 311.42ZM587.41 315.51L593.26 311.42L589.92 312.87ZM589.92 312.87L593.26 311.42L595.7 309.71ZM589.92 312.87L595.7 309.71L592.37 310.86ZM592.37 310.86L595.7 309.71L598.08 308.04ZM592.37 310.86L598.08 308.04L594.77 308.88ZM594.77 308.88L598.08 308.04L600.11 306.62L599.94 306.62ZM594.77 308.88L599.94 306.62L600.01 306.47L597.13 306.94ZM597.13 306.94L600.01 306.47L599.93 305.82ZM597.13 306.94L599.93 305.82L599.44 305.42L599.44 305.42ZM599.44 305.42L599.44 305.42L599.44 305.42ZM599.44 305.42L599.44 305.42L599.44 305.42ZM610.86 295.24L611.55 294.11L609.07 296.46ZM609.07 296.46L611.55 294.11L608.31 295.97L607.12 297.74ZM608.31 295.97L611.55 294.11L613.67 290.65ZM608.31 295.97L613.67 290.65L610.44 292.81ZM610.44 292.81L613.67 290.65L615.73 289.15ZM610.44 292.81L615.73 289.15L612.52 291.03ZM612.52 291.03L615.73 289.15L617.75 287.69ZM612.52 291.03L617.75 287.69L614.56 289.28ZM614.56 289.28L617.75 287.69L618.49 287.15L618.23 287.16ZM614.56 289.28L618.23 287.16L618.58 286.72L616.57 287.56ZM616.57 287.56L618.58 286.72L619.26 285.93ZM616.57 287.56L619.26 285.93L619.82 285.28L618.54 285.87ZM618.54 285.87L619.82 285.28L620.23 284.8ZM618.54 285.87L620.23 284.8L620.98 283.95L620.48 284.2ZM620.48 284.2L620.98 283.95L621.14 283.77ZM620.48 284.2L621.14 283.77L621.67 283.18ZM573.43 338.78L575.37 335.84L571.08 338.66ZM571.08 338.66L575.37 335.84L571.86 336.45L571.34 337.1ZM571.86 336.45L575.37 335.84L578.23 331.51ZM571.86 336.45L578.23 331.51L574.73 332.96ZM574.73 332.96L578.23 331.51L581.04 327.27ZM574.73 332.96L581.04 327.27L577.54 329.53ZM577.54 329.53L581.04 327.27L583.77 324.24ZM577.54 329.53L583.77 324.24L580.3 326.17ZM580.3 326.17L583.77 324.24L586.46 321.26ZM580.3 326.17L586.46 321.26L583 322.88ZM583 322.88L586.46 321.26L589.08 318.35ZM583 322.88L589.08 318.35L585.64 319.66ZM585.64 319.66L589.08 318.35L591.66 315.5ZM585.64 319.66L591.66 315.5L588.23 316.86ZM588.23 316.86L591.66 315.5L594.18 312.7ZM588.23 316.86L594.18 312.7L590.77 314.11ZM590.77 314.11L594.18 312.7L596.66 309.95ZM590.77 314.11L596.66 309.95L593.26 311.42ZM593.26 311.42L596.66 309.95L599.08 308.56ZM593.26 311.42L599.08 308.56L595.7 309.71ZM595.7 309.71L599.08 308.56L601.44 307.19ZM595.7 309.71L601.44 307.19L598.08 308.04ZM598.08 308.04L601.44 307.19L601.87 306.94L600.44 307.16ZM598.08 308.04L600.44 307.16L600.11 306.62ZM614.5 292.8L614.83 292.21L613.71 293.35ZM613.71 293.35L614.83 292.21L611.55 294.11L610.86 295.24ZM611.55 294.11L614.83 292.21L616.94 288.45ZM611.55 294.11L616.94 288.45L613.67 290.65ZM613.67 290.65L616.94 288.45L618.98 287.25ZM613.67 290.65L618.98 287.25L615.73 289.15ZM615.73 289.15L618.98 287.25L619.99 286.66L619.06 287.22ZM615.73 289.15L619.06 287.22L618.77 287.18L617.75 287.69ZM617.75 287.69L618.77 287.18L618.45 287.33ZM617.75 287.69L618.45 287.33L618.49 287.15ZM578.13 337.62L578.93 336.34L575.88 338.21ZM575.88 338.21L578.93 336.34L575.37 335.84L573.43 338.78ZM575.37 335.84L578.93 336.34L581.77 331.75ZM575.37 335.84L581.77 331.75L578.23 331.51ZM578.23 331.51L581.77 331.75L584.56 327.26ZM578.23 331.51L584.56 327.26L581.04 327.27ZM581.04 327.27L584.56 327.26L587.29 323.99ZM581.04 327.27L587.29 323.99L583.77 324.24ZM583.77 324.24L587.29 323.99L589.96 320.78ZM583.77 324.24L589.96 320.78L586.46 321.26ZM586.46 321.26L589.96 320.78L592.57 317.64ZM586.46 321.26L592.57 317.64L589.08 318.35ZM589.08 318.35L592.57 317.64L595.13 314.76ZM589.08 318.35L595.13 314.76L591.66 315.5ZM591.66 315.5L595.13 314.76L597.64 311.95ZM591.66 315.5L597.64 311.95L594.18 312.7ZM594.18 312.7L597.64 311.95L600.1 309.18ZM594.18 312.7L600.1 309.18L596.66 309.95ZM596.66 309.95L600.1 309.18L602.5 307.89ZM596.66 309.95L602.5 307.89L599.08 308.56ZM599.08 308.56L602.5 307.89L603.95 307.11L603.25 307.19ZM599.08 308.56L603.25 307.19L602.41 307.03L601.44 307.19ZM601.44 307.19L602.41 307.03L602.02 307.02ZM601.44 307.19L602.02 307.02L601.87 306.94ZM615.69 291.89L614.83 292.21L614.5 292.8ZM614.83 292.21L615.69 291.89L619.7 288.52L620.24 287.66ZM614.83 292.21L620.24 287.66L616.94 288.45ZM616.94 288.45L620.24 287.66L620.85 287.15L621 286.59ZM616.94 288.45L621 286.59L620.67 286.6L618.98 287.25ZM618.98 287.25L620.67 286.6L620.6 286.38ZM618.98 287.25L620.6 286.38L619.99 286.66ZM581.81 336.74L578.93 336.34L578.13 337.62ZM578.93 336.34L581.81 336.74L582.72 336.53L585.37 331.99ZM578.93 336.34L585.37 331.99L581.77 331.75ZM581.77 331.75L585.37 331.99L588.15 327.24ZM581.77 331.75L588.15 327.24L584.56 327.26ZM584.56 327.26L588.15 327.24L590.86 323.73ZM584.56 327.26L590.86 323.73L587.29 323.99ZM587.29 323.99L590.86 323.73L593.51 320.29ZM587.29 323.99L593.51 320.29L589.96 320.78ZM589.96 320.78L593.51 320.29L596.11 316.92ZM589.96 320.78L596.11 316.92L592.57 317.64ZM592.57 317.64L596.11 316.92L598.66 314.02ZM592.57 317.64L598.66 314.02L595.13 314.76ZM595.13 314.76L598.66 314.02L601.15 311.18ZM595.13 314.76L601.15 311.18L597.64 311.95ZM597.64 311.95L601.15 311.18L603.59 308.4ZM597.64 311.95L603.59 308.4L600.1 309.18ZM600.1 309.18L603.59 308.4L605.97 307.22ZM600.1 309.18L605.97 307.22L602.5 307.89ZM602.5 307.89L605.97 307.22L606.44 306.99L604.83 307.19ZM602.5 307.89L604.83 307.19L603.95 307.11ZM620.75 287.54L620.24 287.66L619.7 288.52ZM620.24 287.66L620.75 287.54L620.89 287.31ZM620.24 287.66L620.89 287.31L620.85 287.15ZM587.24 335.48L589.03 332.24L583.1 336.45ZM583.1 336.45L589.03 332.24L585.37 331.99L582.72 336.53ZM585.37 331.99L589.03 332.24L591.79 327.23ZM585.37 331.99L591.79 327.23L588.15 327.24ZM588.15 327.24L591.79 327.23L594.48 323.47ZM588.15 327.24L594.48 323.47L590.86 323.73ZM590.86 323.73L594.48 323.47L597.12 319.79ZM590.86 323.73L597.12 319.79L593.51 320.29ZM593.51 320.29L597.12 319.79L599.71 316.18ZM593.51 320.29L599.71 316.18L596.11 316.92ZM596.11 316.92L599.71 316.18L602.23 313.26ZM596.11 316.92L602.23 313.26L598.66 314.02ZM598.66 314.02L602.23 313.26L604.71 310.41ZM598.66 314.02L604.71 310.41L601.15 311.18ZM601.15 311.18L604.71 310.41L607.14 307.6ZM601.15 311.18L607.14 307.6L603.59 308.4ZM603.59 308.4L607.14 307.6L609.22 306.67L608.91 306.74ZM603.59 308.4L608.91 306.74L608.08 306.82L605.97 307.22ZM605.97 307.22L608.08 306.82L606.77 307ZM605.97 307.22L606.77 307L606.44 306.99ZM591.7 333.08L589.03 332.24L587.24 335.48ZM589.03 332.24L591.7 333.08L593.83 331.54L595.47 328.77ZM589.03 332.24L595.47 328.77L591.79 327.23ZM591.79 327.23L595.47 328.77L598.15 324.23ZM591.79 327.23L598.15 324.23L594.48 323.47ZM594.48 323.47L598.15 324.23L600.78 319.79ZM594.48 323.47L600.78 319.79L597.12 319.79ZM597.12 319.79L600.78 319.79L603.36 315.43ZM597.12 319.79L603.36 315.43L599.71 316.18ZM599.71 316.18L603.36 315.43L605.87 312.33ZM599.71 316.18L605.87 312.33L602.23 313.26ZM602.23 313.26L605.87 312.33L608.33 309.29ZM602.23 313.26L608.33 309.29L604.71 310.41ZM604.71 310.41L608.33 309.29L610.74 306.31ZM604.71 310.41L610.74 306.31L607.14 307.6ZM607.14 307.6L610.74 306.31L613.09 304.6ZM607.14 307.6L613.09 304.6L610.84 305.82L609.22 306.67ZM610.84 305.82L613.09 304.6L613.7 304.15ZM596.53 329.22L595.47 328.77L593.83 331.54ZM595.47 328.77L596.53 329.22L601.57 325.63L601.88 325.01ZM595.47 328.77L601.88 325.01L598.15 324.23ZM598.15 324.23L601.88 325.01L604.5 319.79ZM598.15 324.23L604.5 319.79L600.78 319.79ZM600.78 319.79L604.5 319.79L607.07 314.68ZM600.78 319.79L607.07 314.68L603.36 315.43ZM603.36 315.43L607.07 314.68L609.56 311.38ZM603.36 315.43L609.56 311.38L605.87 312.33ZM605.87 312.33L609.56 311.38L612 308.15ZM605.87 312.33L612 308.15L608.33 309.29ZM608.33 309.29L612 308.15L614.4 304.99ZM608.33 309.29L614.4 304.99L610.74 306.31ZM610.74 306.31L614.4 304.99L616.74 302.63ZM610.74 306.31L616.74 302.63L613.09 304.6ZM613.09 304.6L616.74 302.63L619.03 300.31ZM613.09 304.6L619.03 300.31L618.9 300.4L613.7 304.15ZM618.9 300.4L619.03 300.31L619.12 300.22ZM633.97 278.71L635.95 275.39L634.58 277.16ZM634.58 277.16L635.95 275.39L634.94 276.55ZM634.94 276.55L635.95 275.39L637.9 272.13L635.48 275.39ZM635.48 275.39L637.9 272.13L636.15 274.31ZM636.15 274.31L637.9 272.13L639.82 268.93L636.57 273.49ZM636.57 273.49L639.82 268.93L637.49 272.05ZM637.49 272.05L639.82 268.93L641.67 267.54ZM602.42 325.12L601.88 325.01L601.57 325.63ZM601.88 325.01L602.42 325.12L606.98 322.78L608.28 319.79ZM601.88 325.01L608.28 319.79L604.5 319.79ZM604.5 319.79L608.28 319.79L610.83 313.91ZM604.5 319.79L610.83 313.91L607.07 314.68ZM607.07 314.68L610.83 313.91L613.31 310.42ZM607.07 314.68L613.31 310.42L609.56 311.38ZM609.56 311.38L613.31 310.42L615.73 307ZM609.56 311.38L615.73 307L612 308.15ZM612 308.15L615.73 307L618.11 303.66ZM612 308.15L618.11 303.66L614.4 304.99ZM614.4 304.99L618.11 303.66L620.44 300.62ZM614.4 304.99L620.44 300.62L616.74 302.63ZM616.74 302.63L620.44 300.62L622.72 297.65ZM616.74 302.63L622.72 297.65L619.03 300.31ZM619.03 300.31L622.72 297.65L624.95 294.74ZM619.03 300.31L624.95 294.74L623.37 296.16L619.12 300.22ZM623.37 296.16L624.95 294.74L626.27 293.45ZM635.52 279.37L637.54 274.96L634.01 279.7ZM634.01 279.7L637.54 274.96L633.97 278.71ZM633.97 278.71L637.54 274.96L639.52 271.31L633.97 278.71ZM633.97 278.71L639.52 271.31L635.95 275.39L633.97 278.71ZM635.95 275.39L639.52 271.31L641.45 267.72ZM635.95 275.39L641.45 267.72L637.9 272.13ZM637.9 272.13L641.45 267.72L643.36 264.2ZM637.9 272.13L643.36 264.2L639.82 268.93ZM639.82 268.93L643.36 264.2L645.18 263.39ZM639.82 268.93L645.18 263.39L641.67 267.54L641.67 267.54ZM641.67 267.54L645.18 263.39L646.38 262.86ZM609.24 324.81L609.54 324.15L609.2 324.56ZM609.2 324.56L609.54 324.15L608.99 324.38ZM608.99 324.38L609.54 324.15L612.13 318.58L608.17 323.03ZM608.17 323.03L612.13 318.58L608.28 319.79L606.98 322.78ZM608.28 319.79L612.13 318.58L614.66 313.12ZM608.28 319.79L614.66 313.12L610.83 313.91ZM610.83 313.91L614.66 313.12L617.11 309.53ZM610.83 313.91L617.11 309.53L613.31 310.42ZM613.31 310.42L617.11 309.53L619.52 306ZM613.31 310.42L619.52 306L615.73 307ZM615.73 307L619.52 306L621.88 302.55ZM615.73 307L621.88 302.55L618.11 303.66ZM618.11 303.66L621.88 302.55L624.18 299.75ZM618.11 303.66L624.18 299.75L620.44 300.62ZM620.44 300.62L624.18 299.75L626.44 297ZM620.44 300.62L626.44 297L622.72 297.65ZM622.72 297.65L626.44 297L627.39 295.84L626.96 295.29ZM622.72 297.65L626.96 295.29L627.16 294.48L624.95 294.74ZM624.95 294.74L627.16 294.48L628.07 292.78ZM624.95 294.74L628.07 292.78L626.27 293.45ZM636.97 280.55L637.13 280.22L636.98 280.45ZM636.98 280.45L637.13 280.22L636.94 280.42ZM636.94 280.42L637.13 280.22L639.17 276L636.67 279.46ZM636.67 279.46L639.17 276L635.52 279.37ZM635.52 279.37L639.17 276L641.16 271.85L635.52 279.37ZM635.52 279.37L641.16 271.85L637.54 274.96L635.52 279.37ZM637.54 274.96L641.16 271.85L643.11 268.84ZM637.54 274.96L643.11 268.84L639.52 271.31ZM639.52 271.31L643.11 268.84L645.02 265.88ZM639.52 271.31L645.02 265.88L641.45 267.72ZM641.45 267.72L645.02 265.88L646.89 262.98ZM641.45 267.72L646.89 262.98L643.36 264.2ZM643.36 264.2L646.89 262.98L648.71 261.62ZM643.36 264.2L648.71 261.62L645.18 263.39ZM645.18 263.39L648.71 261.62L648.96 261.42L647.84 261.86ZM645.18 263.39L647.84 261.86L646.38 262.86ZM608.2 332.68L610.87 327.7L609.1 329.47ZM609.1 329.47L610.87 327.7L609.73 328.31ZM609.73 328.31L610.87 327.7L613.48 322.46L610.09 326.3ZM610.09 326.3L613.48 322.46L609.54 324.15L609.24 324.81ZM609.54 324.15L613.48 322.46L616.04 317.34ZM609.54 324.15L616.04 317.34L612.13 318.58ZM612.13 318.58L616.04 317.34L618.54 312.33ZM612.13 318.58L618.54 312.33L614.66 313.12ZM614.66 313.12L618.54 312.33L620.98 308.62ZM614.66 313.12L620.98 308.62L617.11 309.53ZM617.11 309.53L620.98 308.62L623.37 304.99ZM617.11 309.53L623.37 304.99L619.52 306ZM619.52 306L623.37 304.99L625.71 301.43ZM619.52 306L625.71 301.43L621.88 302.55ZM621.88 302.55L625.71 301.43L627.98 298.86ZM621.88 302.55L627.98 298.86L624.18 299.75ZM624.18 299.75L627.98 298.86L629.33 297.34L628.49 297.34ZM624.18 299.75L628.49 297.34L628.05 296.72L626.44 297ZM626.44 297L628.05 296.72L627.49 296.47ZM626.44 297L627.49 296.47L627.39 295.84ZM636.52 285.31L636.71 284.92L636.06 285.6ZM636.06 285.6L636.71 284.92L636.37 285.17ZM636.37 285.17L636.71 284.92L638.8 280.56L635.62 284.5ZM635.62 284.5L638.8 280.56L636.92 282.56ZM636.92 282.56L638.8 280.56L640.85 276.53L637.23 281.56ZM637.23 281.56L640.85 276.53L637.13 280.22L636.97 280.55ZM637.13 280.22L640.85 276.53L642.86 272.57ZM637.13 280.22L642.86 272.57L639.17 276ZM639.17 276L642.86 272.57L644.84 268.69ZM639.17 276L644.84 268.69L641.16 271.85ZM641.16 271.85L644.84 268.69L646.75 266.33ZM641.16 271.85L646.75 266.33L643.11 268.84ZM643.11 268.84L646.75 266.33L648.63 264.02ZM643.11 268.84L648.63 264.02L645.02 265.88ZM645.02 265.88L648.63 264.02L650.47 261.75ZM645.02 265.88L650.47 261.75L646.89 262.98ZM646.89 262.98L650.47 261.75L650.83 261.36L650.48 260.9ZM646.89 262.98L650.48 260.9L649.42 261.26L648.71 261.62ZM648.71 261.62L649.42 261.26L649.24 261.26ZM648.71 261.62L649.24 261.26L648.96 261.42ZM607.97 340.06L609.54 336.76L607.26 338.86ZM607.26 338.86L609.54 336.76L607.5 337.27ZM607.5 337.27L609.54 336.76L612.25 331.08L607.29 336.01ZM607.29 336.01L612.25 331.08L608.2 332.68ZM608.2 332.68L612.25 331.08L614.9 325.52L608.2 332.68ZM608.2 332.68L614.9 325.52L610.87 327.7L608.2 332.68ZM610.87 327.7L614.9 325.52L617.49 320.76ZM610.87 327.7L617.49 320.76L613.48 322.46ZM613.48 322.46L617.49 320.76L620.02 316.09ZM613.48 322.46L620.02 316.09L616.04 317.34ZM616.04 317.34L620.02 316.09L622.49 311.52ZM616.04 317.34L622.49 311.52L618.54 312.33ZM618.54 312.33L622.49 311.52L624.91 307.7ZM618.54 312.33L624.91 307.7L620.98 308.62ZM620.98 308.62L624.91 307.7L627.28 303.95ZM620.98 308.62L627.28 303.95L623.37 304.99ZM623.37 304.99L627.28 303.95L629.59 300.29ZM623.37 304.99L629.59 300.29L625.71 301.43ZM625.71 301.43L629.59 300.29L631.85 297.95ZM625.71 301.43L631.85 297.95L627.98 298.86ZM627.98 298.86L631.85 297.95L632.19 297.6L630.13 297.76ZM627.98 298.86L630.13 297.76L629.33 297.34ZM639.45 284.86L640.51 282.06L637.28 286.06ZM637.28 286.06L640.51 282.06L636.71 284.92L636.52 285.31ZM636.71 284.92L640.51 282.06L642.6 276.53ZM636.71 284.92L642.6 276.53L638.8 280.56ZM638.8 280.56L642.6 276.53L644.63 272.78ZM638.8 280.56L644.63 272.78L640.85 276.53ZM640.85 276.53L644.63 272.78L646.62 269.1ZM640.85 276.53L646.62 269.1L642.86 272.57ZM642.86 272.57L646.62 269.1L648.56 265.48ZM642.86 272.57L648.56 265.48L644.84 268.69ZM644.84 268.69L648.56 265.48L650.45 263.79ZM644.84 268.69L650.45 263.79L646.75 266.33ZM646.75 266.33L650.45 263.79L652.29 262.13ZM646.75 266.33L652.29 262.13L648.63 264.02ZM648.63 264.02L652.29 262.13L652.55 261.9L651.03 262.51ZM648.63 264.02L651.03 262.51L650.99 261.58L650.47 261.75ZM650.47 261.75L650.99 261.58L651.01 261.39ZM650.47 261.75L651.01 261.39L650.83 261.36ZM612.68 339.18L613.66 337.16L611.2 339.12ZM611.2 339.12L613.66 337.16L609.54 336.76L607.97 340.06ZM609.54 336.76L613.66 337.16L616.34 331.61ZM609.54 336.76L616.34 331.61L612.25 331.08ZM612.25 331.08L616.34 331.61L618.97 326.18ZM612.25 331.08L618.97 326.18L614.9 325.52ZM614.9 325.52L618.97 326.18L621.53 321.36ZM614.9 325.52L621.53 321.36L617.49 320.76ZM617.49 320.76L621.53 321.36L624.04 316.64ZM617.49 320.76L624.04 316.64L620.02 316.09ZM620.02 316.09L624.04 316.64L626.49 312.02ZM620.02 316.09L626.49 312.02L622.49 311.52ZM622.49 311.52L626.49 312.02L628.89 307.89ZM622.49 311.52L628.89 307.89L624.91 307.7ZM624.91 307.7L628.89 307.89L631.23 303.85ZM624.91 307.7L631.23 303.85L627.28 303.95ZM627.28 303.95L631.23 303.85L633.53 299.9ZM627.28 303.95L633.53 299.9L629.59 300.29ZM629.59 300.29L633.53 299.9L635.6 297.1L635.51 297.02ZM629.59 300.29L635.51 297.02L634.78 297.14L631.85 297.95ZM631.85 297.95L634.78 297.14L632.93 297.26ZM631.85 297.95L632.93 297.26L632.19 297.6ZM643.93 281.79L644.35 280.79L643.16 282.19ZM643.16 282.19L644.35 280.79L640.51 282.06L639.45 284.86ZM640.51 282.06L644.35 280.79L646.41 275.83ZM640.51 282.06L646.41 275.83L642.6 276.53ZM642.6 276.53L646.41 275.83L648.41 272.45ZM642.6 276.53L648.41 272.45L644.63 272.78ZM644.63 272.78L648.41 272.45L650.36 269.14ZM644.63 272.78L650.36 269.14L646.62 269.1ZM646.62 269.1L650.36 269.14L652.28 265.89ZM646.62 269.1L652.28 265.89L648.56 265.48ZM648.56 265.48L652.28 265.89L652.86 265.41L652.61 264.67ZM648.56 265.48L652.61 264.67L652.6 264.11L650.45 263.79ZM650.45 263.79L652.6 264.11L652.47 263.46ZM650.45 263.79L652.47 263.46L652.54 262.18L652.29 262.13ZM652.29 262.13L652.54 262.18L652.53 262.1ZM652.29 262.13L652.53 262.1L652.55 261.9ZM616.64 337.45L613.66 337.16L612.68 339.18ZM613.66 337.16L616.64 337.45L618.61 336.01L620.5 332.15ZM613.66 337.16L620.5 332.15L616.34 331.61ZM616.34 331.61L620.5 332.15L623.1 326.84ZM616.34 331.61L623.1 326.84L618.97 326.18ZM618.97 326.18L623.1 326.84L625.64 321.97ZM618.97 326.18L625.64 321.97L621.53 321.36ZM621.53 321.36L625.64 321.97L628.12 317.2ZM621.53 321.36L628.12 317.2L624.04 316.64ZM624.04 316.64L628.12 317.2L630.55 312.53ZM624.04 316.64L630.55 312.53L626.49 312.02ZM626.49 312.02L630.55 312.53L632.92 308.1ZM626.49 312.02L632.92 308.1L628.89 307.89ZM628.89 307.89L632.92 308.1L635.25 303.75ZM628.89 307.89L635.25 303.75L631.23 303.85ZM631.23 303.85L635.25 303.75L637.53 299.5ZM631.23 303.85L637.53 299.5L633.53 299.9ZM633.53 299.9L637.53 299.5L638.05 298.63L637.93 297ZM633.53 299.9L637.93 297L635.6 297.1ZM645.64 280.36L644.35 280.79L643.93 281.79ZM644.35 280.79L645.64 280.36L650.27 275.13L650.27 275.13ZM644.35 280.79L650.27 275.13L646.41 275.83ZM646.41 275.83L650.27 275.13L650.27 275.13L650.16 273.48ZM646.41 275.83L650.16 273.48L650.67 272.26L648.41 272.45ZM648.41 272.45L650.67 272.26L650.83 271.11ZM648.41 272.45L650.83 271.11L651.71 269.15L650.36 269.14ZM650.36 269.14L651.71 269.15L651.89 268.4ZM650.36 269.14L651.89 268.4L653.04 265.97L652.28 265.89ZM652.28 265.89L653.04 265.97L652.93 265.78ZM652.28 265.89L652.93 265.78L652.86 265.41ZM622 332.34L620.5 332.15L618.61 336.01ZM620.5 332.15L622 332.34L622.93 330.52ZM620.5 332.15L622.93 330.52L625.49 327.22L623.1 326.84ZM623.1 326.84L625.49 327.22L626.46 324.75ZM623.1 326.84L626.46 324.75L627.71 322.27L625.64 321.97ZM625.64 321.97L627.71 322.27L628.59 320.13ZM625.64 321.97L628.59 320.13L629.95 317.45L628.12 317.2ZM628.12 317.2L629.95 317.45L630.74 315.57ZM628.12 317.2L630.74 315.57L632.19 312.74L630.55 312.53ZM630.55 312.53L632.19 312.74L633.14 310.87ZM630.55 312.53L633.14 310.87L634.29 308.16L632.92 308.1ZM632.92 308.1L634.29 308.16L635.06 306.64ZM632.92 308.1L635.06 306.64L636.27 303.73L635.25 303.75ZM635.25 303.75L636.27 303.73L636.84 302.61ZM635.25 303.75L636.84 302.61L638.11 299.44L637.53 299.5ZM637.53 299.5L638.11 299.44L638.43 298.82ZM637.53 299.5L638.43 298.82L638.05 298.63ZM650.27 275.13L650.27 275.13L650.27 275.13ZM650.27 275.13L650.27 275.13L650.27 275.13ZM650.27 275.13L650.27 275.13L650.27 275.13Z" fill="#b4b8df" stroke="#b4b8df" stroke-width="0.35" fill-rule="nonzero"/></g><rect x="523.3" y="238.4" width="11.7" height="5.6" fill="#e2677a"/><rect x="523.3" y="248.6" width="11.7" height="5.6" fill="#a8d0ee"/><text x="536.8" y="244.4" style="font-family:'Liberation Serif',serif;font-size:9.4px" fill="#111">ΔG<tspan dy="2" style="font-size:6.1px">theoretical</tspan></text><text x="536.8" y="254.6" style="font-family:'Liberation Serif',serif;font-size:9.4px" fill="#111">ΔG<tspan dy="2" style="font-size:6.1px">statistical</tspan></text></svg></body></html>
